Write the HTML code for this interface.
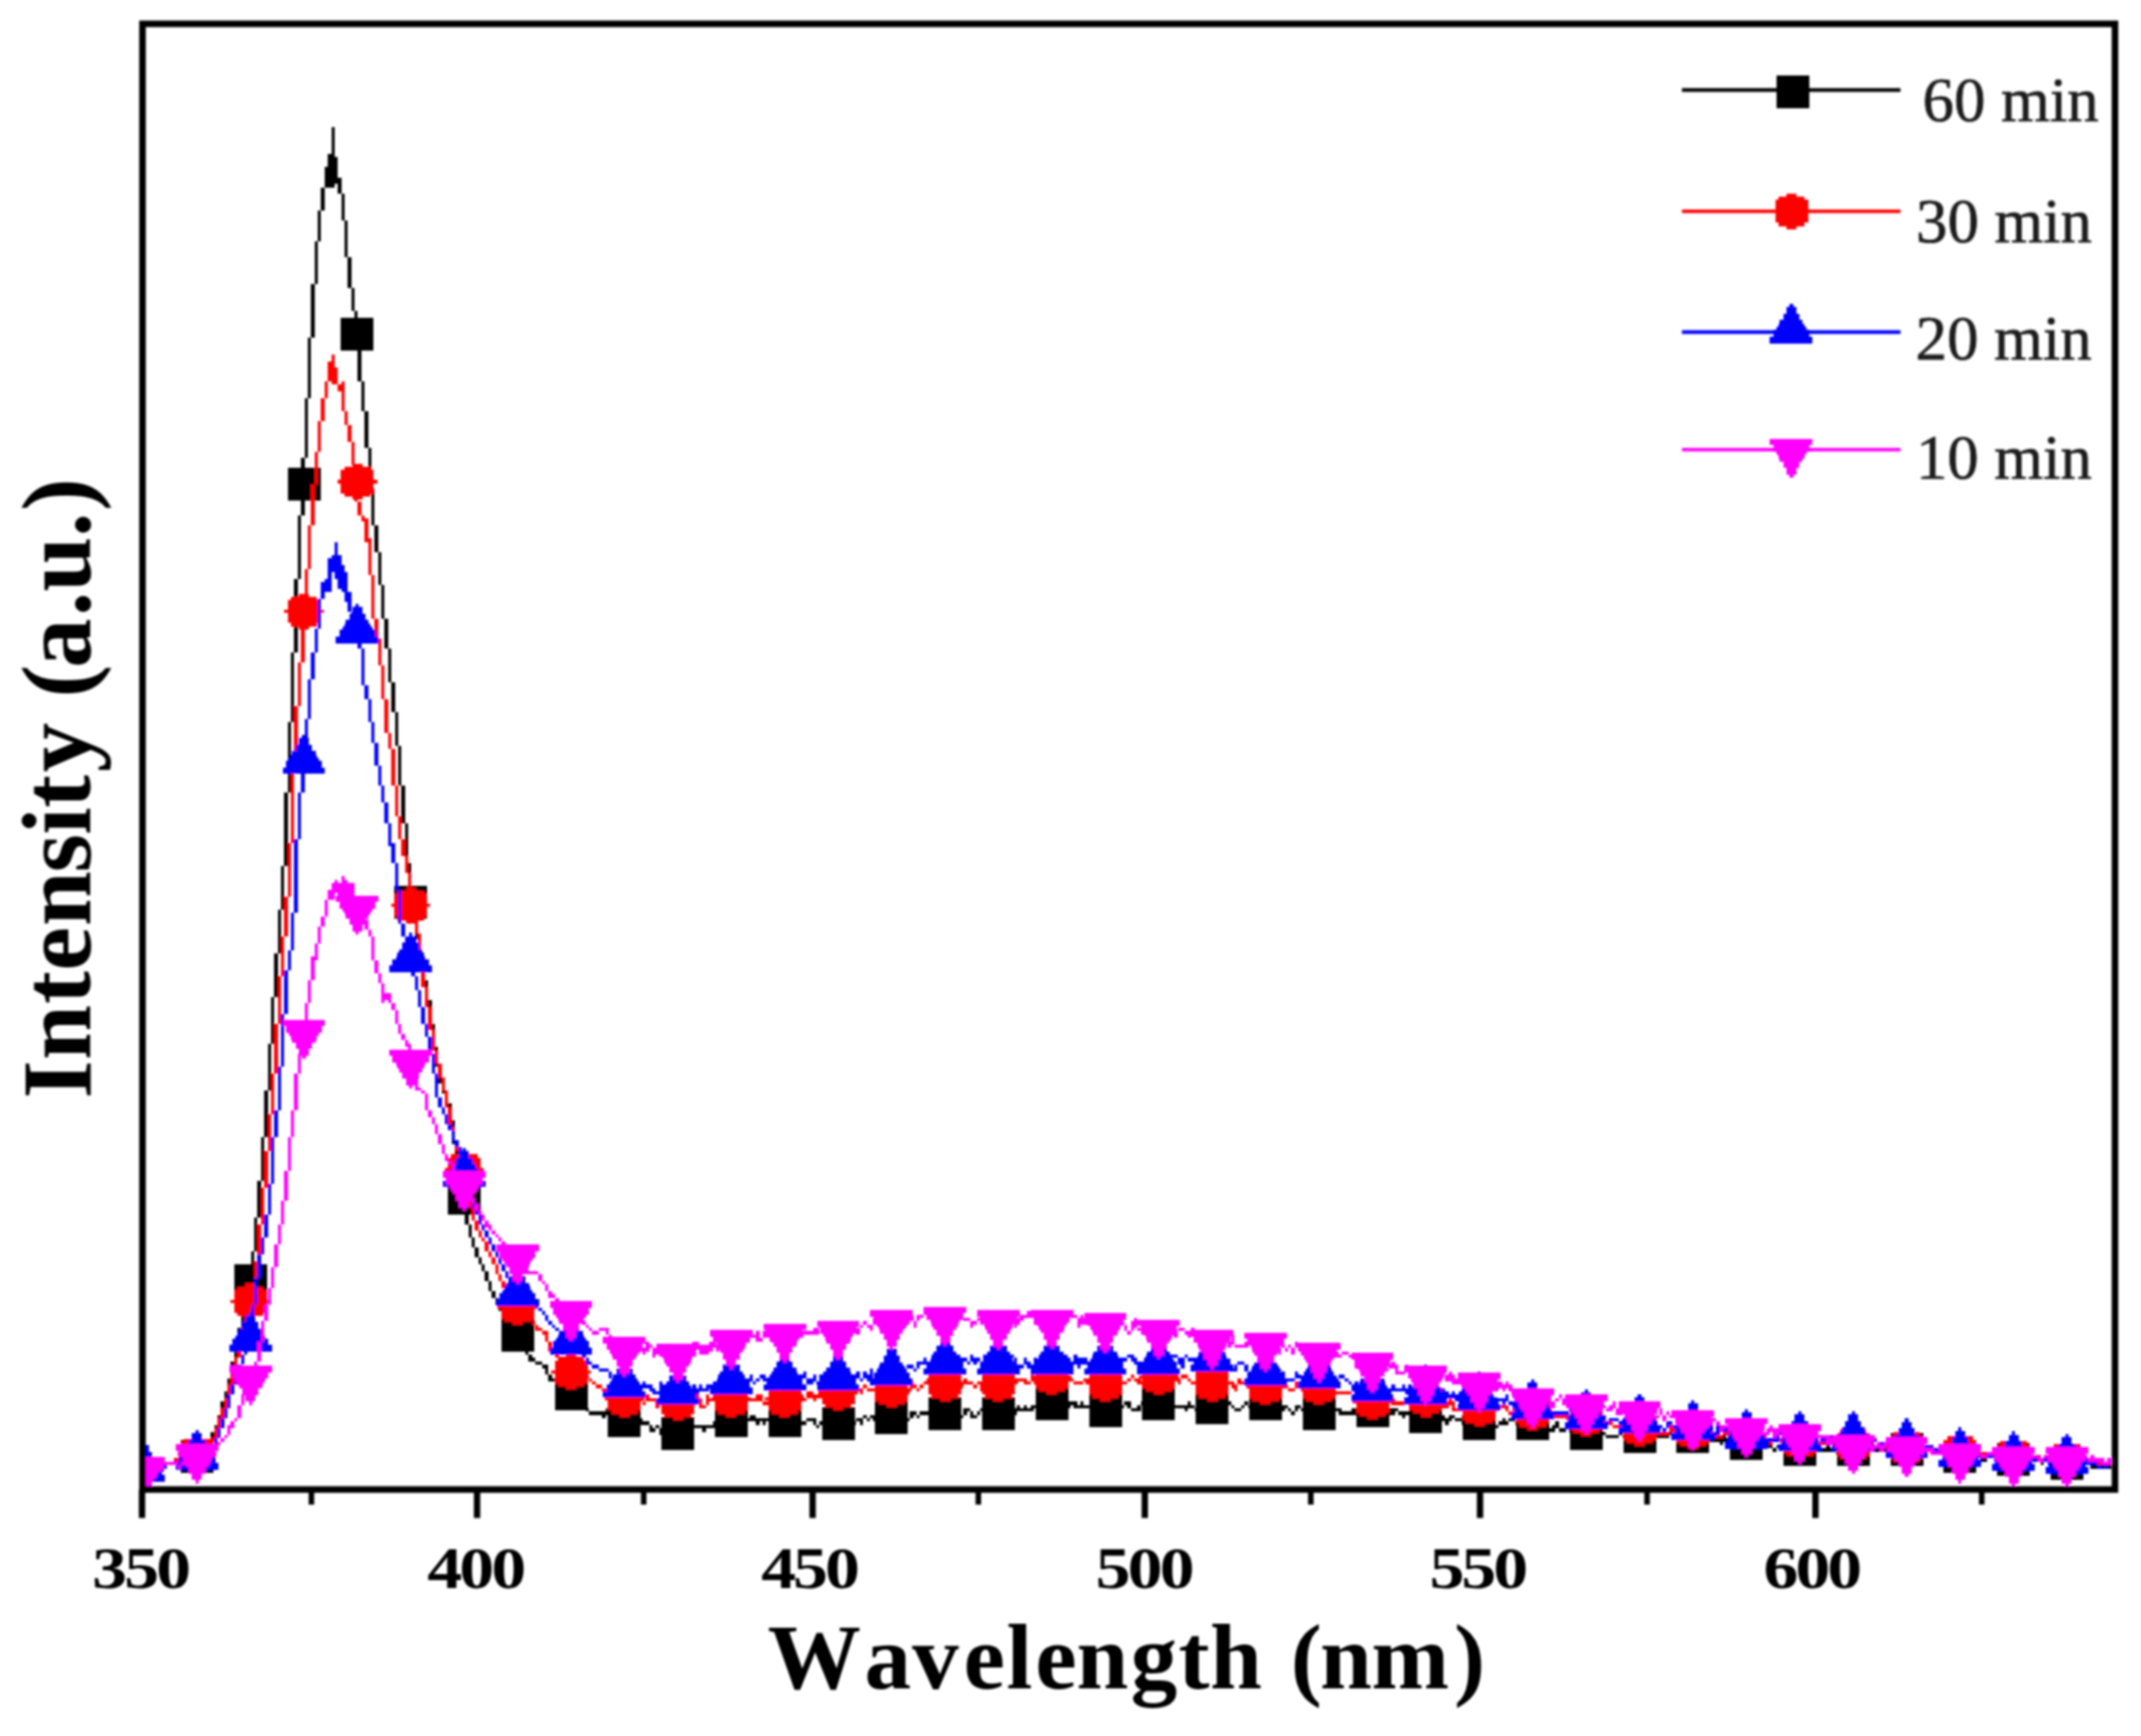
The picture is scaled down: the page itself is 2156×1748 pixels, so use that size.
<!DOCTYPE html>
<html lang="en">
<head>
<meta charset="utf-8">
<title>PL spectra</title>
<style>
html,body{margin:0;padding:0;background:#fff;}
body{width:2156px;height:1748px;overflow:hidden;font-family:"Liberation Serif",serif;}
svg{display:block;}
text{font-kerning:none;}
</style>
</head>
<body>
<svg width="2156" height="1748" viewBox="0 0 2156 1748">
<defs><clipPath id="plot"><rect x="143.5" y="24.0" width="1986.3" height="1473.2"/></clipPath><filter id="soft" x="-2%" y="-2%" width="104%" height="104%"><feGaussianBlur stdDeviation="0.9"/></filter></defs>
<rect width="2156" height="1748" fill="#ffffff"/>
<g filter="url(#soft)">
<g clip-path="url(#plot)" shape-rendering="crispEdges">
<path fill="#000000" d="M333.51 127.98h3.37v3.37h-3.37zM333.51 131.35h3.37v3.37h-3.37zM333.51 134.72h3.37v3.37h-3.37zM333.51 138.09h3.37v3.37h-3.37zM333.51 141.46h3.37v3.37h-3.37zM333.51 144.82h3.37v3.37h-3.37zM333.51 148.19h3.37v3.37h-3.37zM333.51 151.56h3.37v3.37h-3.37zM330.14 154.93h6.74v3.37h-6.74zM330.14 158.30h10.11v3.37h-10.11zM330.14 161.66h10.11v3.37h-10.11zM330.14 165.03h10.11v3.37h-10.11zM326.77 168.40h13.47v3.37h-13.47zM326.77 171.77h13.47v3.37h-13.47zM326.77 175.14h13.47v3.37h-13.47zM326.77 178.50h16.84v3.37h-16.84zM326.77 181.87h16.84v3.37h-16.84zM326.77 185.24h10.11v3.37h-10.11zM340.24 185.24h3.37v3.37h-3.37zM323.40 188.61h3.37v3.37h-3.37zM340.24 188.61h3.37v3.37h-3.37zM323.40 191.98h3.37v3.37h-3.37zM340.24 191.98h3.37v3.37h-3.37zM323.40 195.34h3.37v3.37h-3.37zM343.61 195.34h3.37v3.37h-3.37zM323.40 198.71h3.37v3.37h-3.37zM343.61 198.71h3.37v3.37h-3.37zM323.40 202.08h3.37v3.37h-3.37zM343.61 202.08h3.37v3.37h-3.37zM323.40 205.45h3.37v3.37h-3.37zM343.61 205.45h3.37v3.37h-3.37zM323.40 208.82h3.37v3.37h-3.37zM343.61 208.82h3.37v3.37h-3.37zM320.03 212.18h3.37v3.37h-3.37zM343.61 212.18h3.37v3.37h-3.37zM320.03 215.55h3.37v3.37h-3.37zM343.61 215.55h3.37v3.37h-3.37zM320.03 218.92h3.37v3.37h-3.37zM343.61 218.92h3.37v3.37h-3.37zM320.03 222.29h3.37v3.37h-3.37zM346.98 222.29h3.37v3.37h-3.37zM320.03 225.66h3.37v3.37h-3.37zM346.98 225.66h3.37v3.37h-3.37zM320.03 229.03h3.37v3.37h-3.37zM346.98 229.03h3.37v3.37h-3.37zM320.03 232.39h3.37v3.37h-3.37zM346.98 232.39h3.37v3.37h-3.37zM320.03 235.76h3.37v3.37h-3.37zM346.98 235.76h3.37v3.37h-3.37zM320.03 239.13h3.37v3.37h-3.37zM346.98 239.13h3.37v3.37h-3.37zM316.66 242.50h3.37v3.37h-3.37zM346.98 242.50h3.37v3.37h-3.37zM316.66 245.87h3.37v3.37h-3.37zM346.98 245.87h3.37v3.37h-3.37zM316.66 249.23h3.37v3.37h-3.37zM346.98 249.23h3.37v3.37h-3.37zM316.66 252.60h3.37v3.37h-3.37zM346.98 252.60h3.37v3.37h-3.37zM316.66 255.97h3.37v3.37h-3.37zM346.98 255.97h3.37v3.37h-3.37zM316.66 259.34h3.37v3.37h-3.37zM350.35 259.34h3.37v3.37h-3.37zM316.66 262.71h3.37v3.37h-3.37zM350.35 262.71h3.37v3.37h-3.37zM316.66 266.07h3.37v3.37h-3.37zM350.35 266.07h3.37v3.37h-3.37zM316.66 269.44h3.37v3.37h-3.37zM350.35 269.44h3.37v3.37h-3.37zM316.66 272.81h3.37v3.37h-3.37zM350.35 272.81h3.37v3.37h-3.37zM316.66 276.18h3.37v3.37h-3.37zM350.35 276.18h3.37v3.37h-3.37zM316.66 279.55h3.37v3.37h-3.37zM350.35 279.55h3.37v3.37h-3.37zM316.66 282.91h3.37v3.37h-3.37zM350.35 282.91h3.37v3.37h-3.37zM313.29 286.28h3.37v3.37h-3.37zM350.35 286.28h3.37v3.37h-3.37zM313.29 289.65h3.37v3.37h-3.37zM353.72 289.65h3.37v3.37h-3.37zM313.29 293.02h3.37v3.37h-3.37zM353.72 293.02h3.37v3.37h-3.37zM313.29 296.39h3.37v3.37h-3.37zM353.72 296.39h3.37v3.37h-3.37zM313.29 299.75h3.37v3.37h-3.37zM353.72 299.75h3.37v3.37h-3.37zM313.29 303.12h3.37v3.37h-3.37zM353.72 303.12h3.37v3.37h-3.37zM313.29 306.49h3.37v3.37h-3.37zM353.72 306.49h3.37v3.37h-3.37zM313.29 309.86h3.37v3.37h-3.37zM353.72 309.86h3.37v3.37h-3.37zM313.29 313.23h3.37v3.37h-3.37zM357.09 313.23h3.37v3.37h-3.37zM313.29 316.59h3.37v3.37h-3.37zM357.09 316.59h3.37v3.37h-3.37zM313.29 319.96h3.37v3.37h-3.37zM357.09 319.96h3.37v3.37h-3.37zM313.29 323.33h3.37v3.37h-3.37zM357.09 323.33h3.37v3.37h-3.37zM313.29 326.70h3.37v3.37h-3.37zM357.09 326.70h3.37v3.37h-3.37zM313.29 330.07h3.37v3.37h-3.37zM357.09 330.07h3.37v3.37h-3.37zM313.29 333.43h3.37v3.37h-3.37zM357.09 333.43h3.37v3.37h-3.37zM313.29 336.80h3.37v3.37h-3.37zM357.09 336.80h3.37v3.37h-3.37zM309.93 340.17h3.37v3.37h-3.37zM357.09 340.17h3.37v3.37h-3.37zM309.93 343.54h3.37v3.37h-3.37zM360.46 343.54h3.37v3.37h-3.37zM309.93 346.91h3.37v3.37h-3.37zM360.46 346.91h3.37v3.37h-3.37zM309.93 350.27h3.37v3.37h-3.37zM360.46 350.27h3.37v3.37h-3.37zM309.93 353.64h3.37v3.37h-3.37zM360.46 353.64h3.37v3.37h-3.37zM309.93 357.01h3.37v3.37h-3.37zM360.46 357.01h3.37v3.37h-3.37zM309.93 360.38h3.37v3.37h-3.37zM360.46 360.38h3.37v3.37h-3.37zM309.93 363.75h3.37v3.37h-3.37zM360.46 363.75h3.37v3.37h-3.37zM309.93 367.11h3.37v3.37h-3.37zM360.46 367.11h3.37v3.37h-3.37zM309.93 370.48h3.37v3.37h-3.37zM360.46 370.48h3.37v3.37h-3.37zM309.93 373.85h3.37v3.37h-3.37zM360.46 373.85h3.37v3.37h-3.37zM309.93 377.22h3.37v3.37h-3.37zM360.46 377.22h3.37v3.37h-3.37zM309.93 380.59h3.37v3.37h-3.37zM360.46 380.59h3.37v3.37h-3.37zM309.93 383.95h3.37v3.37h-3.37zM363.82 383.95h3.37v3.37h-3.37zM309.93 387.32h3.37v3.37h-3.37zM363.82 387.32h3.37v3.37h-3.37zM309.93 390.69h3.37v3.37h-3.37zM363.82 390.69h3.37v3.37h-3.37zM309.93 394.06h3.37v3.37h-3.37zM363.82 394.06h3.37v3.37h-3.37zM309.93 397.43h3.37v3.37h-3.37zM363.82 397.43h3.37v3.37h-3.37zM306.56 400.79h3.37v3.37h-3.37zM363.82 400.79h3.37v3.37h-3.37zM306.56 404.16h3.37v3.37h-3.37zM363.82 404.16h3.37v3.37h-3.37zM306.56 407.53h3.37v3.37h-3.37zM363.82 407.53h3.37v3.37h-3.37zM306.56 410.90h3.37v3.37h-3.37zM363.82 410.90h3.37v3.37h-3.37zM306.56 414.27h3.37v3.37h-3.37zM367.19 414.27h3.37v3.37h-3.37zM306.56 417.63h3.37v3.37h-3.37zM367.19 417.63h3.37v3.37h-3.37zM306.56 421.00h3.37v3.37h-3.37zM367.19 421.00h3.37v3.37h-3.37zM306.56 424.37h3.37v3.37h-3.37zM367.19 424.37h3.37v3.37h-3.37zM306.56 427.74h3.37v3.37h-3.37zM367.19 427.74h3.37v3.37h-3.37zM306.56 431.11h3.37v3.37h-3.37zM367.19 431.11h3.37v3.37h-3.37zM306.56 434.47h3.37v3.37h-3.37zM367.19 434.47h3.37v3.37h-3.37zM306.56 437.84h3.37v3.37h-3.37zM367.19 437.84h3.37v3.37h-3.37zM306.56 441.21h3.37v3.37h-3.37zM367.19 441.21h3.37v3.37h-3.37zM306.56 444.58h3.37v3.37h-3.37zM367.19 444.58h3.37v3.37h-3.37zM306.56 447.95h3.37v3.37h-3.37zM367.19 447.95h3.37v3.37h-3.37zM306.56 451.31h3.37v3.37h-3.37zM370.56 451.31h3.37v3.37h-3.37zM306.56 454.68h3.37v3.37h-3.37zM370.56 454.68h3.37v3.37h-3.37zM306.56 458.05h3.37v3.37h-3.37zM370.56 458.05h3.37v3.37h-3.37zM303.19 461.42h3.37v3.37h-3.37zM370.56 461.42h3.37v3.37h-3.37zM303.19 464.79h3.37v3.37h-3.37zM370.56 464.79h3.37v3.37h-3.37zM303.19 468.15h3.37v3.37h-3.37zM370.56 468.15h3.37v3.37h-3.37zM303.19 471.52h3.37v3.37h-3.37zM370.56 471.52h3.37v3.37h-3.37zM303.19 474.89h3.37v3.37h-3.37zM370.56 474.89h3.37v3.37h-3.37zM303.19 478.26h3.37v3.37h-3.37zM370.56 478.26h3.37v3.37h-3.37zM303.19 481.63h3.37v3.37h-3.37zM370.56 481.63h3.37v3.37h-3.37zM303.19 484.99h3.37v3.37h-3.37zM370.56 484.99h3.37v3.37h-3.37zM303.19 488.36h3.37v3.37h-3.37zM370.56 488.36h3.37v3.37h-3.37zM303.19 491.73h3.37v3.37h-3.37zM373.93 491.73h3.37v3.37h-3.37zM303.19 495.10h3.37v3.37h-3.37zM373.93 495.10h3.37v3.37h-3.37zM303.19 498.47h3.37v3.37h-3.37zM373.93 498.47h3.37v3.37h-3.37zM303.19 501.83h3.37v3.37h-3.37zM373.93 501.83h3.37v3.37h-3.37zM303.19 505.20h3.37v3.37h-3.37zM373.93 505.20h3.37v3.37h-3.37zM303.19 508.57h3.37v3.37h-3.37zM373.93 508.57h3.37v3.37h-3.37zM303.19 511.94h3.37v3.37h-3.37zM373.93 511.94h3.37v3.37h-3.37zM303.19 515.31h3.37v3.37h-3.37zM373.93 515.31h3.37v3.37h-3.37zM299.82 518.67h3.37v3.37h-3.37zM373.93 518.67h3.37v3.37h-3.37zM299.82 522.04h3.37v3.37h-3.37zM373.93 522.04h3.37v3.37h-3.37zM299.82 525.41h3.37v3.37h-3.37zM373.93 525.41h3.37v3.37h-3.37zM299.82 528.78h3.37v3.37h-3.37zM377.30 528.78h3.37v3.37h-3.37zM299.82 532.15h3.37v3.37h-3.37zM377.30 532.15h3.37v3.37h-3.37zM299.82 535.51h3.37v3.37h-3.37zM377.30 535.51h3.37v3.37h-3.37zM299.82 538.88h3.37v3.37h-3.37zM377.30 538.88h3.37v3.37h-3.37zM299.82 542.25h3.37v3.37h-3.37zM377.30 542.25h3.37v3.37h-3.37zM299.82 545.62h3.37v3.37h-3.37zM377.30 545.62h3.37v3.37h-3.37zM299.82 548.99h3.37v3.37h-3.37zM377.30 548.99h3.37v3.37h-3.37zM299.82 552.35h3.37v3.37h-3.37zM377.30 552.35h3.37v3.37h-3.37zM299.82 555.72h3.37v3.37h-3.37zM380.67 555.72h3.37v3.37h-3.37zM299.82 559.09h3.37v3.37h-3.37zM380.67 559.09h3.37v3.37h-3.37zM299.82 562.46h3.37v3.37h-3.37zM380.67 562.46h3.37v3.37h-3.37zM299.82 565.83h3.37v3.37h-3.37zM380.67 565.83h3.37v3.37h-3.37zM299.82 569.19h3.37v3.37h-3.37zM380.67 569.19h3.37v3.37h-3.37zM299.82 572.56h3.37v3.37h-3.37zM380.67 572.56h3.37v3.37h-3.37zM299.82 575.93h3.37v3.37h-3.37zM380.67 575.93h3.37v3.37h-3.37zM299.82 579.30h3.37v3.37h-3.37zM380.67 579.30h3.37v3.37h-3.37zM296.45 582.67h3.37v3.37h-3.37zM380.67 582.67h3.37v3.37h-3.37zM296.45 586.03h3.37v3.37h-3.37zM380.67 586.03h3.37v3.37h-3.37zM296.45 589.40h3.37v3.37h-3.37zM384.04 589.40h3.37v3.37h-3.37zM296.45 592.77h3.37v3.37h-3.37zM384.04 592.77h3.37v3.37h-3.37zM296.45 596.14h3.37v3.37h-3.37zM384.04 596.14h3.37v3.37h-3.37zM296.45 599.51h3.37v3.37h-3.37zM384.04 599.51h3.37v3.37h-3.37zM296.45 602.87h3.37v3.37h-3.37zM384.04 602.87h3.37v3.37h-3.37zM296.45 606.24h3.37v3.37h-3.37zM384.04 606.24h3.37v3.37h-3.37zM296.45 609.61h3.37v3.37h-3.37zM384.04 609.61h3.37v3.37h-3.37zM296.45 612.98h3.37v3.37h-3.37zM384.04 612.98h3.37v3.37h-3.37zM296.45 616.35h3.37v3.37h-3.37zM384.04 616.35h3.37v3.37h-3.37zM296.45 619.71h3.37v3.37h-3.37zM384.04 619.71h3.37v3.37h-3.37zM296.45 623.08h3.37v3.37h-3.37zM387.41 623.08h3.37v3.37h-3.37zM296.45 626.45h3.37v3.37h-3.37zM387.41 626.45h3.37v3.37h-3.37zM296.45 629.82h3.37v3.37h-3.37zM387.41 629.82h3.37v3.37h-3.37zM296.45 633.19h3.37v3.37h-3.37zM387.41 633.19h3.37v3.37h-3.37zM296.45 636.55h3.37v3.37h-3.37zM387.41 636.55h3.37v3.37h-3.37zM296.45 639.92h3.37v3.37h-3.37zM387.41 639.92h3.37v3.37h-3.37zM296.45 643.29h3.37v3.37h-3.37zM387.41 643.29h3.37v3.37h-3.37zM296.45 646.66h3.37v3.37h-3.37zM387.41 646.66h3.37v3.37h-3.37zM296.45 650.03h3.37v3.37h-3.37zM387.41 650.03h3.37v3.37h-3.37zM296.45 653.39h3.37v3.37h-3.37zM390.77 653.39h3.37v3.37h-3.37zM293.08 656.76h3.37v3.37h-3.37zM390.77 656.76h3.37v3.37h-3.37zM293.08 660.13h3.37v3.37h-3.37zM390.77 660.13h3.37v3.37h-3.37zM293.08 663.50h3.37v3.37h-3.37zM390.77 663.50h3.37v3.37h-3.37zM293.08 666.87h3.37v3.37h-3.37zM390.77 666.87h3.37v3.37h-3.37zM293.08 670.24h3.37v3.37h-3.37zM390.77 670.24h3.37v3.37h-3.37zM293.08 673.60h3.37v3.37h-3.37zM390.77 673.60h3.37v3.37h-3.37zM293.08 676.97h3.37v3.37h-3.37zM390.77 676.97h3.37v3.37h-3.37zM293.08 680.34h3.37v3.37h-3.37zM390.77 680.34h3.37v3.37h-3.37zM293.08 683.71h3.37v3.37h-3.37zM390.77 683.71h3.37v3.37h-3.37zM293.08 687.08h3.37v3.37h-3.37zM394.14 687.08h3.37v3.37h-3.37zM293.08 690.44h3.37v3.37h-3.37zM394.14 690.44h3.37v3.37h-3.37zM293.08 693.81h3.37v3.37h-3.37zM394.14 693.81h3.37v3.37h-3.37zM293.08 697.18h3.37v3.37h-3.37zM394.14 697.18h3.37v3.37h-3.37zM293.08 700.55h3.37v3.37h-3.37zM394.14 700.55h3.37v3.37h-3.37zM293.08 703.92h3.37v3.37h-3.37zM394.14 703.92h3.37v3.37h-3.37zM293.08 707.28h3.37v3.37h-3.37zM394.14 707.28h3.37v3.37h-3.37zM293.08 710.65h3.37v3.37h-3.37zM394.14 710.65h3.37v3.37h-3.37zM293.08 714.02h3.37v3.37h-3.37zM394.14 714.02h3.37v3.37h-3.37zM293.08 717.39h3.37v3.37h-3.37zM397.51 717.39h3.37v3.37h-3.37zM293.08 720.76h3.37v3.37h-3.37zM397.51 720.76h3.37v3.37h-3.37zM293.08 724.12h3.37v3.37h-3.37zM397.51 724.12h3.37v3.37h-3.37zM289.71 727.49h3.37v3.37h-3.37zM397.51 727.49h3.37v3.37h-3.37zM289.71 730.86h3.37v3.37h-3.37zM397.51 730.86h3.37v3.37h-3.37zM289.71 734.23h3.37v3.37h-3.37zM397.51 734.23h3.37v3.37h-3.37zM289.71 737.60h3.37v3.37h-3.37zM397.51 737.60h3.37v3.37h-3.37zM289.71 740.96h3.37v3.37h-3.37zM397.51 740.96h3.37v3.37h-3.37zM289.71 744.33h3.37v3.37h-3.37zM397.51 744.33h3.37v3.37h-3.37zM289.71 747.70h3.37v3.37h-3.37zM397.51 747.70h3.37v3.37h-3.37zM289.71 751.07h3.37v3.37h-3.37zM400.88 751.07h3.37v3.37h-3.37zM289.71 754.44h3.37v3.37h-3.37zM400.88 754.44h3.37v3.37h-3.37zM289.71 757.80h3.37v3.37h-3.37zM400.88 757.80h3.37v3.37h-3.37zM289.71 761.17h3.37v3.37h-3.37zM400.88 761.17h3.37v3.37h-3.37zM289.71 764.54h3.37v3.37h-3.37zM400.88 764.54h3.37v3.37h-3.37zM289.71 767.91h3.37v3.37h-3.37zM400.88 767.91h3.37v3.37h-3.37zM289.71 771.28h3.37v3.37h-3.37zM400.88 771.28h3.37v3.37h-3.37zM289.71 774.64h3.37v3.37h-3.37zM400.88 774.64h3.37v3.37h-3.37zM289.71 778.01h3.37v3.37h-3.37zM400.88 778.01h3.37v3.37h-3.37zM289.71 781.38h3.37v3.37h-3.37zM400.88 781.38h3.37v3.37h-3.37zM289.71 784.75h3.37v3.37h-3.37zM400.88 784.75h3.37v3.37h-3.37zM289.71 788.12h3.37v3.37h-3.37zM400.88 788.12h3.37v3.37h-3.37zM289.71 791.48h3.37v3.37h-3.37zM404.25 791.48h3.37v3.37h-3.37zM289.71 794.85h3.37v3.37h-3.37zM404.25 794.85h3.37v3.37h-3.37zM286.34 798.22h3.37v3.37h-3.37zM404.25 798.22h3.37v3.37h-3.37zM286.34 801.59h3.37v3.37h-3.37zM404.25 801.59h3.37v3.37h-3.37zM286.34 804.96h3.37v3.37h-3.37zM404.25 804.96h3.37v3.37h-3.37zM286.34 808.32h3.37v3.37h-3.37zM404.25 808.32h3.37v3.37h-3.37zM286.34 811.69h3.37v3.37h-3.37zM404.25 811.69h3.37v3.37h-3.37zM286.34 815.06h3.37v3.37h-3.37zM404.25 815.06h3.37v3.37h-3.37zM286.34 818.43h3.37v3.37h-3.37zM404.25 818.43h3.37v3.37h-3.37zM286.34 821.80h3.37v3.37h-3.37zM404.25 821.80h3.37v3.37h-3.37zM286.34 825.16h3.37v3.37h-3.37zM404.25 825.16h3.37v3.37h-3.37zM286.34 828.53h3.37v3.37h-3.37zM407.62 828.53h3.37v3.37h-3.37zM286.34 831.90h3.37v3.37h-3.37zM407.62 831.90h3.37v3.37h-3.37zM286.34 835.27h3.37v3.37h-3.37zM407.62 835.27h3.37v3.37h-3.37zM286.34 838.64h3.37v3.37h-3.37zM407.62 838.64h3.37v3.37h-3.37zM286.34 842.00h3.37v3.37h-3.37zM407.62 842.00h3.37v3.37h-3.37zM286.34 845.37h3.37v3.37h-3.37zM407.62 845.37h3.37v3.37h-3.37zM286.34 848.74h3.37v3.37h-3.37zM407.62 848.74h3.37v3.37h-3.37zM286.34 852.11h3.37v3.37h-3.37zM407.62 852.11h3.37v3.37h-3.37zM286.34 855.48h3.37v3.37h-3.37zM407.62 855.48h3.37v3.37h-3.37zM286.34 858.84h3.37v3.37h-3.37zM407.62 858.84h3.37v3.37h-3.37zM286.34 862.21h3.37v3.37h-3.37zM407.62 862.21h3.37v3.37h-3.37zM286.34 865.58h3.37v3.37h-3.37zM407.62 865.58h3.37v3.37h-3.37zM286.34 868.95h3.37v3.37h-3.37zM410.99 868.95h3.37v3.37h-3.37zM282.97 872.32h3.37v3.37h-3.37zM410.99 872.32h3.37v3.37h-3.37zM282.97 875.68h3.37v3.37h-3.37zM410.99 875.68h3.37v3.37h-3.37zM282.97 879.05h3.37v3.37h-3.37zM410.99 879.05h3.37v3.37h-3.37zM282.97 882.42h3.37v3.37h-3.37zM410.99 882.42h3.37v3.37h-3.37zM282.97 885.79h3.37v3.37h-3.37zM410.99 885.79h3.37v3.37h-3.37zM282.97 889.16h3.37v3.37h-3.37zM410.99 889.16h3.37v3.37h-3.37zM282.97 892.52h3.37v3.37h-3.37zM410.99 892.52h3.37v3.37h-3.37zM282.97 895.89h3.37v3.37h-3.37zM410.99 895.89h3.37v3.37h-3.37zM282.97 899.26h3.37v3.37h-3.37zM410.99 899.26h3.37v3.37h-3.37zM282.97 902.63h3.37v3.37h-3.37zM410.99 902.63h3.37v3.37h-3.37zM282.97 906.00h3.37v3.37h-3.37zM410.99 906.00h3.37v3.37h-3.37zM282.97 909.36h3.37v3.37h-3.37zM410.99 909.36h3.37v3.37h-3.37zM282.97 912.73h3.37v3.37h-3.37zM414.36 912.73h3.37v3.37h-3.37zM279.61 916.10h3.37v3.37h-3.37zM414.36 916.10h3.37v3.37h-3.37zM279.61 919.47h3.37v3.37h-3.37zM414.36 919.47h3.37v3.37h-3.37zM279.61 922.84h3.37v3.37h-3.37zM414.36 922.84h3.37v3.37h-3.37zM279.61 926.20h3.37v3.37h-3.37zM414.36 926.20h3.37v3.37h-3.37zM279.61 929.57h3.37v3.37h-3.37zM417.72 929.57h3.37v3.37h-3.37zM279.61 932.94h3.37v3.37h-3.37zM417.72 932.94h3.37v3.37h-3.37zM279.61 936.31h3.37v3.37h-3.37zM417.72 936.31h3.37v3.37h-3.37zM279.61 939.68h3.37v3.37h-3.37zM417.72 939.68h3.37v3.37h-3.37zM279.61 943.04h3.37v3.37h-3.37zM417.72 943.04h3.37v3.37h-3.37zM279.61 946.41h3.37v3.37h-3.37zM421.09 946.41h3.37v3.37h-3.37zM279.61 949.78h3.37v3.37h-3.37zM421.09 949.78h3.37v3.37h-3.37zM279.61 953.15h3.37v3.37h-3.37zM421.09 953.15h3.37v3.37h-3.37zM279.61 956.52h3.37v3.37h-3.37zM421.09 956.52h3.37v3.37h-3.37zM276.24 959.88h3.37v3.37h-3.37zM421.09 959.88h3.37v3.37h-3.37zM276.24 963.25h3.37v3.37h-3.37zM421.09 963.25h3.37v3.37h-3.37zM276.24 966.62h3.37v3.37h-3.37zM424.46 966.62h3.37v3.37h-3.37zM276.24 969.99h3.37v3.37h-3.37zM424.46 969.99h3.37v3.37h-3.37zM276.24 973.36h3.37v3.37h-3.37zM424.46 973.36h3.37v3.37h-3.37zM276.24 976.72h3.37v3.37h-3.37zM424.46 976.72h3.37v3.37h-3.37zM276.24 980.09h3.37v3.37h-3.37zM424.46 980.09h3.37v3.37h-3.37zM276.24 983.46h3.37v3.37h-3.37zM424.46 983.46h3.37v3.37h-3.37zM276.24 986.83h3.37v3.37h-3.37zM427.83 986.83h3.37v3.37h-3.37zM276.24 990.20h3.37v3.37h-3.37zM427.83 990.20h3.37v3.37h-3.37zM276.24 993.56h3.37v3.37h-3.37zM427.83 993.56h3.37v3.37h-3.37zM276.24 996.93h3.37v3.37h-3.37zM427.83 996.93h3.37v3.37h-3.37zM276.24 1000.30h3.37v3.37h-3.37zM427.83 1000.30h3.37v3.37h-3.37zM272.87 1003.67h3.37v3.37h-3.37zM427.83 1003.67h3.37v3.37h-3.37zM272.87 1007.04h3.37v3.37h-3.37zM431.20 1007.04h3.37v3.37h-3.37zM272.87 1010.40h3.37v3.37h-3.37zM431.20 1010.40h3.37v3.37h-3.37zM272.87 1013.77h3.37v3.37h-3.37zM431.20 1013.77h3.37v3.37h-3.37zM272.87 1017.14h3.37v3.37h-3.37zM431.20 1017.14h3.37v3.37h-3.37zM272.87 1020.51h3.37v3.37h-3.37zM431.20 1020.51h3.37v3.37h-3.37zM272.87 1023.88h3.37v3.37h-3.37zM431.20 1023.88h3.37v3.37h-3.37zM272.87 1027.24h3.37v3.37h-3.37zM431.20 1027.24h3.37v3.37h-3.37zM272.87 1030.61h3.37v3.37h-3.37zM434.57 1030.61h3.37v3.37h-3.37zM272.87 1033.98h3.37v3.37h-3.37zM434.57 1033.98h3.37v3.37h-3.37zM272.87 1037.35h3.37v3.37h-3.37zM434.57 1037.35h3.37v3.37h-3.37zM272.87 1040.72h3.37v3.37h-3.37zM434.57 1040.72h3.37v3.37h-3.37zM272.87 1044.08h3.37v3.37h-3.37zM434.57 1044.08h3.37v3.37h-3.37zM272.87 1047.45h3.37v3.37h-3.37zM434.57 1047.45h3.37v3.37h-3.37zM269.50 1050.82h3.37v3.37h-3.37zM434.57 1050.82h3.37v3.37h-3.37zM269.50 1054.19h3.37v3.37h-3.37zM437.94 1054.19h3.37v3.37h-3.37zM269.50 1057.56h3.37v3.37h-3.37zM437.94 1057.56h3.37v3.37h-3.37zM269.50 1060.92h3.37v3.37h-3.37zM437.94 1060.92h3.37v3.37h-3.37zM269.50 1064.29h3.37v3.37h-3.37zM437.94 1064.29h3.37v3.37h-3.37zM269.50 1067.66h3.37v3.37h-3.37zM437.94 1067.66h3.37v3.37h-3.37zM269.50 1071.03h3.37v3.37h-3.37zM437.94 1071.03h3.37v3.37h-3.37zM269.50 1074.40h3.37v3.37h-3.37zM441.31 1074.40h3.37v3.37h-3.37zM269.50 1077.76h3.37v3.37h-3.37zM441.31 1077.76h3.37v3.37h-3.37zM269.50 1081.13h3.37v3.37h-3.37zM441.31 1081.13h3.37v3.37h-3.37zM269.50 1084.50h3.37v3.37h-3.37zM441.31 1084.50h3.37v3.37h-3.37zM269.50 1087.87h3.37v3.37h-3.37zM441.31 1087.87h3.37v3.37h-3.37zM269.50 1091.24h3.37v3.37h-3.37zM444.68 1091.24h3.37v3.37h-3.37zM269.50 1094.61h3.37v3.37h-3.37zM444.68 1094.61h3.37v3.37h-3.37zM266.13 1097.97h3.37v3.37h-3.37zM444.68 1097.97h3.37v3.37h-3.37zM266.13 1101.34h3.37v3.37h-3.37zM448.04 1101.34h3.37v3.37h-3.37zM266.13 1104.71h3.37v3.37h-3.37zM448.04 1104.71h3.37v3.37h-3.37zM266.13 1108.08h3.37v3.37h-3.37zM448.04 1108.08h3.37v3.37h-3.37zM266.13 1111.45h3.37v3.37h-3.37zM451.41 1111.45h3.37v3.37h-3.37zM266.13 1114.81h3.37v3.37h-3.37zM451.41 1114.81h3.37v3.37h-3.37zM266.13 1118.18h3.37v3.37h-3.37zM451.41 1118.18h3.37v3.37h-3.37zM266.13 1121.55h3.37v3.37h-3.37zM451.41 1121.55h3.37v3.37h-3.37zM266.13 1124.92h3.37v3.37h-3.37zM451.41 1124.92h3.37v3.37h-3.37zM266.13 1128.29h3.37v3.37h-3.37zM454.78 1128.29h3.37v3.37h-3.37zM266.13 1131.65h3.37v3.37h-3.37zM454.78 1131.65h3.37v3.37h-3.37zM266.13 1135.02h3.37v3.37h-3.37zM454.78 1135.02h3.37v3.37h-3.37zM266.13 1138.39h3.37v3.37h-3.37zM454.78 1138.39h3.37v3.37h-3.37zM266.13 1141.76h3.37v3.37h-3.37zM454.78 1141.76h3.37v3.37h-3.37zM262.76 1145.13h3.37v3.37h-3.37zM454.78 1145.13h3.37v3.37h-3.37zM262.76 1148.49h3.37v3.37h-3.37zM454.78 1148.49h3.37v3.37h-3.37zM262.76 1151.86h3.37v3.37h-3.37zM458.15 1151.86h3.37v3.37h-3.37zM262.76 1155.23h3.37v3.37h-3.37zM458.15 1155.23h3.37v3.37h-3.37zM262.76 1158.60h3.37v3.37h-3.37zM458.15 1158.60h3.37v3.37h-3.37zM262.76 1161.97h3.37v3.37h-3.37zM458.15 1161.97h3.37v3.37h-3.37zM262.76 1165.33h3.37v3.37h-3.37zM458.15 1165.33h3.37v3.37h-3.37zM262.76 1168.70h3.37v3.37h-3.37zM458.15 1168.70h3.37v3.37h-3.37zM262.76 1172.07h3.37v3.37h-3.37zM461.52 1172.07h3.37v3.37h-3.37zM262.76 1175.44h3.37v3.37h-3.37zM461.52 1175.44h3.37v3.37h-3.37zM262.76 1178.81h3.37v3.37h-3.37zM461.52 1178.81h3.37v3.37h-3.37zM262.76 1182.17h3.37v3.37h-3.37zM461.52 1182.17h3.37v3.37h-3.37zM262.76 1185.54h3.37v3.37h-3.37zM461.52 1185.54h3.37v3.37h-3.37zM259.39 1188.91h3.37v3.37h-3.37zM461.52 1188.91h3.37v3.37h-3.37zM259.39 1192.28h3.37v3.37h-3.37zM464.89 1192.28h3.37v3.37h-3.37zM259.39 1195.65h3.37v3.37h-3.37zM464.89 1195.65h3.37v3.37h-3.37zM259.39 1199.01h3.37v3.37h-3.37zM464.89 1199.01h3.37v3.37h-3.37zM259.39 1202.38h3.37v3.37h-3.37zM464.89 1202.38h3.37v3.37h-3.37zM259.39 1205.75h3.37v3.37h-3.37zM464.89 1205.75h3.37v3.37h-3.37zM259.39 1209.12h3.37v3.37h-3.37zM464.89 1209.12h3.37v3.37h-3.37zM259.39 1212.49h3.37v3.37h-3.37zM468.26 1212.49h3.37v3.37h-3.37zM259.39 1215.85h3.37v3.37h-3.37zM468.26 1215.85h3.37v3.37h-3.37zM259.39 1219.22h3.37v3.37h-3.37zM468.26 1219.22h3.37v3.37h-3.37zM259.39 1222.59h3.37v3.37h-3.37zM468.26 1222.59h3.37v3.37h-3.37zM256.02 1225.96h3.37v3.37h-3.37zM468.26 1225.96h3.37v3.37h-3.37zM256.02 1229.33h3.37v3.37h-3.37zM468.26 1229.33h3.37v3.37h-3.37zM256.02 1232.69h3.37v3.37h-3.37zM471.62 1232.69h3.37v3.37h-3.37zM256.02 1236.06h3.37v3.37h-3.37zM471.62 1236.06h3.37v3.37h-3.37zM256.02 1239.43h3.37v3.37h-3.37zM471.62 1239.43h3.37v3.37h-3.37zM256.02 1242.80h3.37v3.37h-3.37zM471.62 1242.80h3.37v3.37h-3.37zM256.02 1246.17h3.37v3.37h-3.37zM474.99 1246.17h3.37v3.37h-3.37zM256.02 1249.53h3.37v3.37h-3.37zM474.99 1249.53h3.37v3.37h-3.37zM256.02 1252.90h3.37v3.37h-3.37zM474.99 1252.90h3.37v3.37h-3.37zM256.02 1256.27h3.37v3.37h-3.37zM478.36 1256.27h3.37v3.37h-3.37zM252.66 1259.64h3.37v3.37h-3.37zM478.36 1259.64h3.37v3.37h-3.37zM252.66 1263.01h3.37v3.37h-3.37zM478.36 1263.01h3.37v3.37h-3.37zM252.66 1266.37h3.37v3.37h-3.37zM481.73 1266.37h3.37v3.37h-3.37zM252.66 1269.74h3.37v3.37h-3.37zM481.73 1269.74h3.37v3.37h-3.37zM252.66 1273.11h3.37v3.37h-3.37zM485.10 1273.11h3.37v3.37h-3.37zM252.66 1276.48h3.37v3.37h-3.37zM485.10 1276.48h3.37v3.37h-3.37zM252.66 1279.85h3.37v3.37h-3.37zM488.47 1279.85h3.37v3.37h-3.37zM252.66 1283.21h3.37v3.37h-3.37zM488.47 1283.21h3.37v3.37h-3.37zM249.29 1286.58h3.37v3.37h-3.37zM488.47 1286.58h3.37v3.37h-3.37zM249.29 1289.95h3.37v3.37h-3.37zM491.84 1289.95h3.37v3.37h-3.37zM249.29 1293.32h3.37v3.37h-3.37zM491.84 1293.32h3.37v3.37h-3.37zM249.29 1296.69h3.37v3.37h-3.37zM491.84 1296.69h3.37v3.37h-3.37zM249.29 1300.05h3.37v3.37h-3.37zM495.21 1300.05h3.37v3.37h-3.37zM245.92 1303.42h3.37v3.37h-3.37zM495.21 1303.42h3.37v3.37h-3.37zM245.92 1306.79h3.37v3.37h-3.37zM498.57 1306.79h3.37v3.37h-3.37zM245.92 1310.16h3.37v3.37h-3.37zM498.57 1310.16h3.37v3.37h-3.37zM245.92 1313.53h3.37v3.37h-3.37zM501.94 1313.53h3.37v3.37h-3.37zM245.92 1316.89h3.37v3.37h-3.37zM501.94 1316.89h3.37v3.37h-3.37zM242.55 1320.26h3.37v3.37h-3.37zM505.31 1320.26h3.37v3.37h-3.37zM242.55 1323.63h3.37v3.37h-3.37zM508.68 1323.63h3.37v3.37h-3.37zM242.55 1327.00h3.37v3.37h-3.37zM508.68 1327.00h3.37v3.37h-3.37zM242.55 1330.37h3.37v3.37h-3.37zM512.05 1330.37h3.37v3.37h-3.37zM242.55 1333.73h3.37v3.37h-3.37zM515.42 1333.73h3.37v3.37h-3.37zM239.18 1337.10h3.37v3.37h-3.37zM515.42 1337.10h3.37v3.37h-3.37zM239.18 1340.47h3.37v3.37h-3.37zM518.79 1340.47h3.37v3.37h-3.37zM239.18 1343.84h3.37v3.37h-3.37zM518.79 1343.84h3.37v3.37h-3.37zM239.18 1347.21h3.37v3.37h-3.37zM522.16 1347.21h3.37v3.37h-3.37zM239.18 1350.57h3.37v3.37h-3.37zM525.52 1350.57h3.37v3.37h-3.37zM235.81 1353.94h3.37v3.37h-3.37zM525.52 1353.94h3.37v3.37h-3.37zM235.81 1357.31h3.37v3.37h-3.37zM528.89 1357.31h3.37v3.37h-3.37zM235.81 1360.68h3.37v3.37h-3.37zM528.89 1360.68h3.37v3.37h-3.37zM235.81 1364.05h3.37v3.37h-3.37zM532.26 1364.05h3.37v3.37h-3.37zM235.81 1367.41h3.37v3.37h-3.37zM532.26 1367.41h6.74v3.37h-6.74zM232.44 1370.78h3.37v3.37h-3.37zM539.00 1370.78h6.74v3.37h-6.74zM232.44 1374.15h3.37v3.37h-3.37zM545.74 1374.15h6.74v3.37h-6.74zM232.44 1377.52h3.37v3.37h-3.37zM549.11 1377.52h3.37v3.37h-3.37zM232.44 1380.89h3.37v3.37h-3.37zM549.11 1380.89h3.37v3.37h-3.37zM232.44 1384.25h3.37v3.37h-3.37zM552.48 1384.25h3.37v3.37h-3.37zM229.07 1387.62h3.37v3.37h-3.37zM552.48 1387.62h6.74v3.37h-6.74zM229.07 1390.99h3.37v3.37h-3.37zM559.21 1390.99h3.37v3.37h-3.37zM229.07 1394.36h3.37v3.37h-3.37zM562.58 1394.36h6.74v3.37h-6.74zM229.07 1397.73h3.37v3.37h-3.37zM569.32 1397.73h3.37v3.37h-3.37zM225.71 1401.09h3.37v3.37h-3.37zM572.69 1401.09h3.37v3.37h-3.37zM225.71 1404.46h3.37v3.37h-3.37zM576.06 1404.46h3.37v3.37h-3.37zM225.71 1407.83h3.37v3.37h-3.37zM579.42 1407.83h3.37v3.37h-3.37zM1168.96 1407.83h3.37v3.37h-3.37zM1270.02 1407.83h3.37v3.37h-3.37zM1276.76 1407.83h3.37v3.37h-3.37zM222.34 1411.20h3.37v3.37h-3.37zM582.79 1411.20h3.37v3.37h-3.37zM1044.31 1411.20h3.37v3.37h-3.37zM1051.05 1411.20h10.11v3.37h-10.11zM1067.89 1411.20h3.37v3.37h-3.37zM1074.63 1411.20h10.11v3.37h-10.11zM1088.11 1411.20h3.37v3.37h-3.37zM1131.90 1411.20h6.74v3.37h-6.74zM1148.74 1411.20h3.37v3.37h-3.37zM1162.22 1411.20h13.47v3.37h-13.47zM1195.91 1411.20h3.37v3.37h-3.37zM1236.33 1411.20h3.37v3.37h-3.37zM1253.17 1411.20h3.37v3.37h-3.37zM1263.28 1411.20h3.37v3.37h-3.37zM1270.02 1411.20h3.37v3.37h-3.37zM1276.76 1411.20h3.37v3.37h-3.37zM1286.86 1411.20h3.37v3.37h-3.37zM222.34 1414.57h3.37v3.37h-3.37zM586.16 1414.57h3.37v3.37h-3.37zM1017.36 1414.57h3.37v3.37h-3.37zM1024.10 1414.57h3.37v3.37h-3.37zM1030.84 1414.57h3.37v3.37h-3.37zM1037.58 1414.57h6.74v3.37h-6.74zM1047.68 1414.57h3.37v3.37h-3.37zM1061.16 1414.57h6.74v3.37h-6.74zM1071.26 1414.57h6.74v3.37h-6.74zM1081.37 1414.57h16.84v3.37h-16.84zM1101.58 1414.57h6.74v3.37h-6.74zM1125.16 1414.57h6.74v3.37h-6.74zM1135.27 1414.57h3.37v3.37h-3.37zM1145.38 1414.57h3.37v3.37h-3.37zM1152.11 1414.57h16.84v3.37h-16.84zM1172.33 1414.57h30.32v3.37h-30.32zM1209.38 1414.57h3.37v3.37h-3.37zM1219.49 1414.57h16.84v3.37h-16.84zM1239.70 1414.57h3.37v3.37h-3.37zM1249.81 1414.57h3.37v3.37h-3.37zM1256.54 1414.57h6.74v3.37h-6.74zM1266.65 1414.57h3.37v3.37h-3.37zM1273.39 1414.57h3.37v3.37h-3.37zM1280.12 1414.57h6.74v3.37h-6.74zM1290.23 1414.57h6.74v3.37h-6.74zM1303.71 1414.57h6.74v3.37h-6.74zM1371.08 1414.57h3.37v3.37h-3.37zM222.34 1417.93h3.37v3.37h-3.37zM589.53 1417.93h3.37v3.37h-3.37zM609.74 1417.93h3.37v3.37h-3.37zM970.20 1417.93h6.74v3.37h-6.74zM987.04 1417.93h3.37v3.37h-3.37zM997.15 1417.93h3.37v3.37h-3.37zM1013.99 1417.93h3.37v3.37h-3.37zM1020.73 1417.93h20.21v3.37h-20.21zM1071.26 1417.93h3.37v3.37h-3.37zM1098.21 1417.93h6.74v3.37h-6.74zM1108.32 1417.93h3.37v3.37h-3.37zM1118.42 1417.93h10.11v3.37h-10.11zM1138.64 1417.93h10.11v3.37h-10.11zM1192.54 1417.93h3.37v3.37h-3.37zM1202.64 1417.93h6.74v3.37h-6.74zM1212.75 1417.93h6.74v3.37h-6.74zM1243.07 1417.93h6.74v3.37h-6.74zM1290.23 1417.93h3.37v3.37h-3.37zM1296.97 1417.93h3.37v3.37h-3.37zM1303.71 1417.93h3.37v3.37h-3.37zM1310.44 1417.93h3.37v3.37h-3.37zM1317.18 1417.93h6.74v3.37h-6.74zM1344.13 1417.93h6.74v3.37h-6.74zM1360.97 1417.93h16.84v3.37h-16.84zM1391.29 1417.93h16.84v3.37h-16.84zM222.34 1421.30h3.37v3.37h-3.37zM592.90 1421.30h23.58v3.37h-23.58zM909.56 1421.30h3.37v3.37h-3.37zM916.30 1421.30h6.74v3.37h-6.74zM926.41 1421.30h30.32v3.37h-30.32zM960.09 1421.30h6.74v3.37h-6.74zM970.20 1421.30h3.37v3.37h-3.37zM976.94 1421.30h3.37v3.37h-3.37zM983.67 1421.30h3.37v3.37h-3.37zM990.41 1421.30h3.37v3.37h-3.37zM997.15 1421.30h6.74v3.37h-6.74zM1007.26 1421.30h6.74v3.37h-6.74zM1020.73 1421.30h3.37v3.37h-3.37zM1111.69 1421.30h6.74v3.37h-6.74zM1300.34 1421.30h3.37v3.37h-3.37zM1313.81 1421.30h3.37v3.37h-3.37zM1323.92 1421.30h10.11v3.37h-10.11zM1337.39 1421.30h6.74v3.37h-6.74zM1347.50 1421.30h20.21v3.37h-20.21zM1377.82 1421.30h16.84v3.37h-16.84zM1398.03 1421.30h6.74v3.37h-6.74zM1408.14 1421.30h13.47v3.37h-13.47zM1431.72 1421.30h6.74v3.37h-6.74zM1441.83 1421.30h3.37v3.37h-3.37zM218.97 1424.67h3.37v3.37h-3.37zM606.38 1424.67h3.37v3.37h-3.37zM616.48 1424.67h10.11v3.37h-10.11zM754.60 1424.67h6.74v3.37h-6.74zM781.55 1424.67h6.74v3.37h-6.74zM801.76 1424.67h3.37v3.37h-3.37zM869.14 1424.67h3.37v3.37h-3.37zM875.88 1424.67h6.74v3.37h-6.74zM889.35 1424.67h3.37v3.37h-3.37zM896.09 1424.67h6.74v3.37h-6.74zM906.19 1424.67h6.74v3.37h-6.74zM916.30 1424.67h3.37v3.37h-3.37zM923.04 1424.67h3.37v3.37h-3.37zM939.88 1424.67h3.37v3.37h-3.37zM956.73 1424.67h3.37v3.37h-3.37zM966.83 1424.67h3.37v3.37h-3.37zM976.94 1424.67h6.74v3.37h-6.74zM990.41 1424.67h6.74v3.37h-6.74zM1000.52 1424.67h6.74v3.37h-6.74zM1323.92 1424.67h3.37v3.37h-3.37zM1334.02 1424.67h3.37v3.37h-3.37zM1411.51 1424.67h3.37v3.37h-3.37zM1421.61 1424.67h3.37v3.37h-3.37zM1428.35 1424.67h3.37v3.37h-3.37zM1438.46 1424.67h10.11v3.37h-10.11zM1451.93 1424.67h3.37v3.37h-3.37zM1458.67 1424.67h6.74v3.37h-6.74zM1472.14 1424.67h3.37v3.37h-3.37zM218.97 1428.04h3.37v3.37h-3.37zM623.22 1428.04h13.47v3.37h-13.47zM643.43 1428.04h3.37v3.37h-3.37zM727.65 1428.04h3.37v3.37h-3.37zM744.49 1428.04h30.32v3.37h-30.32zM778.18 1428.04h3.37v3.37h-3.37zM784.92 1428.04h3.37v3.37h-3.37zM791.66 1428.04h3.37v3.37h-3.37zM798.39 1428.04h6.74v3.37h-6.74zM811.87 1428.04h10.11v3.37h-10.11zM828.71 1428.04h13.47v3.37h-13.47zM845.56 1428.04h3.37v3.37h-3.37zM852.29 1428.04h6.74v3.37h-6.74zM862.40 1428.04h6.74v3.37h-6.74zM872.51 1428.04h3.37v3.37h-3.37zM879.24 1428.04h3.37v3.37h-3.37zM885.98 1428.04h3.37v3.37h-3.37zM892.72 1428.04h3.37v3.37h-3.37zM902.82 1428.04h3.37v3.37h-3.37zM912.93 1428.04h3.37v3.37h-3.37zM1424.98 1428.04h3.37v3.37h-3.37zM1438.46 1428.04h23.58v3.37h-23.58zM1465.41 1428.04h10.11v3.37h-10.11zM1478.88 1428.04h10.11v3.37h-10.11zM1512.57 1428.04h3.37v3.37h-3.37zM1519.31 1428.04h6.74v3.37h-6.74zM1532.78 1428.04h3.37v3.37h-3.37zM218.97 1431.41h3.37v3.37h-3.37zM633.32 1431.41h6.74v3.37h-6.74zM643.43 1431.41h10.11v3.37h-10.11zM717.54 1431.41h10.11v3.37h-10.11zM731.02 1431.41h16.84v3.37h-16.84zM761.34 1431.41h3.37v3.37h-3.37zM768.07 1431.41h3.37v3.37h-3.37zM774.81 1431.41h6.74v3.37h-6.74zM788.29 1431.41h10.11v3.37h-10.11zM805.13 1431.41h6.74v3.37h-6.74zM818.61 1431.41h3.37v3.37h-3.37zM825.34 1431.41h3.37v3.37h-3.37zM838.82 1431.41h6.74v3.37h-6.74zM848.92 1431.41h6.74v3.37h-6.74zM859.03 1431.41h3.37v3.37h-3.37zM865.77 1431.41h3.37v3.37h-3.37zM882.61 1431.41h3.37v3.37h-3.37zM1455.30 1431.41h3.37v3.37h-3.37zM1472.14 1431.41h6.74v3.37h-6.74zM1485.62 1431.41h16.84v3.37h-16.84zM1509.20 1431.41h10.11v3.37h-10.11zM1526.04 1431.41h6.74v3.37h-6.74zM1536.15 1431.41h13.47v3.37h-13.47zM1566.47 1431.41h3.37v3.37h-3.37zM215.60 1434.77h3.37v3.37h-3.37zM640.06 1434.77h3.37v3.37h-3.37zM653.54 1434.77h3.37v3.37h-3.37zM660.27 1434.77h3.37v3.37h-3.37zM693.96 1434.77h26.95v3.37h-26.95zM821.98 1434.77h3.37v3.37h-3.37zM842.19 1434.77h3.37v3.37h-3.37zM1502.46 1434.77h6.74v3.37h-6.74zM1549.62 1434.77h10.11v3.37h-10.11zM1563.10 1434.77h6.74v3.37h-6.74zM1576.58 1434.77h3.37v3.37h-3.37zM215.60 1438.14h3.37v3.37h-3.37zM653.54 1438.14h6.74v3.37h-6.74zM663.64 1438.14h3.37v3.37h-3.37zM677.12 1438.14h6.74v3.37h-6.74zM687.23 1438.14h10.11v3.37h-10.11zM707.44 1438.14h3.37v3.37h-3.37zM1559.73 1438.14h6.74v3.37h-6.74zM1569.84 1438.14h6.74v3.37h-6.74zM1579.94 1438.14h6.74v3.37h-6.74zM1590.05 1438.14h3.37v3.37h-3.37zM212.23 1441.51h3.37v3.37h-3.37zM663.64 1441.51h13.47v3.37h-13.47zM683.86 1441.51h3.37v3.37h-3.37zM1583.31 1441.51h6.74v3.37h-6.74zM1593.42 1441.51h3.37v3.37h-3.37zM1606.89 1441.51h10.11v3.37h-10.11zM1630.47 1441.51h3.37v3.37h-3.37zM1664.16 1441.51h3.37v3.37h-3.37zM1681.01 1441.51h3.37v3.37h-3.37zM1687.74 1441.51h3.37v3.37h-3.37zM1694.48 1441.51h3.37v3.37h-3.37zM1704.59 1441.51h6.74v3.37h-6.74zM212.23 1444.88h3.37v3.37h-3.37zM1596.79 1444.88h10.11v3.37h-10.11zM1617.00 1444.88h13.47v3.37h-13.47zM1633.84 1444.88h6.74v3.37h-6.74zM1643.95 1444.88h10.11v3.37h-10.11zM1657.42 1444.88h6.74v3.37h-6.74zM1667.53 1444.88h13.47v3.37h-13.47zM1684.38 1444.88h3.37v3.37h-3.37zM1691.11 1444.88h3.37v3.37h-3.37zM1697.85 1444.88h6.74v3.37h-6.74zM1711.33 1444.88h3.37v3.37h-3.37zM1734.91 1444.88h3.37v3.37h-3.37zM212.23 1448.25h3.37v3.37h-3.37zM1637.21 1448.25h6.74v3.37h-6.74zM1654.06 1448.25h3.37v3.37h-3.37zM1714.69 1448.25h33.69v3.37h-33.69zM208.86 1451.61h3.37v3.37h-3.37zM1731.54 1451.61h3.37v3.37h-3.37zM1748.38 1451.61h23.58v3.37h-23.58zM1778.70 1451.61h3.37v3.37h-3.37zM205.49 1454.98h3.37v3.37h-3.37zM1758.49 1454.98h3.37v3.37h-3.37zM1771.96 1454.98h13.47v3.37h-13.47zM1788.81 1454.98h13.47v3.37h-13.47zM1809.02 1454.98h3.37v3.37h-3.37zM1839.34 1454.98h3.37v3.37h-3.37zM1862.92 1454.98h3.37v3.37h-3.37zM1893.24 1454.98h3.37v3.37h-3.37zM1899.97 1454.98h3.37v3.37h-3.37zM202.12 1458.35h3.37v3.37h-3.37zM1785.44 1458.35h3.37v3.37h-3.37zM1798.91 1458.35h50.53v3.37h-50.53zM1852.81 1458.35h47.16v3.37h-47.16zM1903.34 1458.35h40.42v3.37h-40.42zM198.76 1461.72h3.37v3.37h-3.37zM1812.39 1461.72h3.37v3.37h-3.37zM1849.44 1461.72h3.37v3.37h-3.37zM1943.77 1461.72h23.58v3.37h-23.58zM188.65 1465.09h13.47v3.37h-13.47zM1967.35 1465.09h26.95v3.37h-26.95zM2001.04 1465.09h6.74v3.37h-6.74zM2011.14 1465.09h3.37v3.37h-3.37zM2021.25 1465.09h3.37v3.37h-3.37zM178.54 1468.45h10.11v3.37h-10.11zM1994.30 1468.45h6.74v3.37h-6.74zM2007.77 1468.45h3.37v3.37h-3.37zM2014.51 1468.45h6.74v3.37h-6.74zM2024.62 1468.45h30.32v3.37h-30.32zM2058.31 1468.45h6.74v3.37h-6.74zM2075.15 1468.45h3.37v3.37h-3.37zM165.07 1471.82h13.47v3.37h-13.47zM2054.94 1471.82h3.37v3.37h-3.37zM2065.04 1471.82h43.79v3.37h-43.79zM2115.57 1471.82h3.37v3.37h-3.37zM151.59 1475.19h13.47v3.37h-13.47zM2105.47 1475.19h20.21v3.37h-20.21zM141.49 1478.56h10.11v3.37h-10.11zM181.90 1449.50h33.00v33.00h-33.00zM235.70 1273.10h33.00v33.00h-33.00zM289.50 470.50h33.00v33.00h-33.00zM343.30 319.50h33.00v33.00h-33.00zM397.10 892.00h33.00v33.00h-33.00zM450.90 1189.50h33.00v33.00h-33.00zM504.70 1327.50h33.00v33.00h-33.00zM558.50 1386.50h33.00v33.00h-33.00zM612.30 1413.50h33.00v33.00h-33.00zM666.10 1427.00h33.00v33.00h-33.00zM719.90 1413.50h33.00v33.00h-33.00zM773.70 1413.50h33.00v33.00h-33.00zM827.50 1416.50h33.00v33.00h-33.00zM881.30 1410.50h33.00v33.00h-33.00zM935.10 1407.00h33.00v33.00h-33.00zM988.90 1406.90h33.00v33.00h-33.00zM1042.70 1397.20h33.00v33.00h-33.00zM1096.50 1403.50h33.00v33.00h-33.00zM1150.30 1397.20h33.00v33.00h-33.00zM1204.10 1400.50h33.00v33.00h-33.00zM1257.90 1397.20h33.00v33.00h-33.00zM1311.70 1406.90h33.00v33.00h-33.00zM1365.50 1403.50h33.00v33.00h-33.00zM1419.30 1410.30h33.00v33.00h-33.00zM1473.10 1416.50h33.00v33.00h-33.00zM1526.90 1416.50h33.00v33.00h-33.00zM1580.70 1426.50h33.00v33.00h-33.00zM1634.50 1429.50h33.00v33.00h-33.00zM1688.30 1429.50h33.00v33.00h-33.00zM1742.10 1436.50h33.00v33.00h-33.00zM1795.90 1443.30h33.00v33.00h-33.00zM1849.70 1443.30h33.00v33.00h-33.00zM1903.50 1443.30h33.00v33.00h-33.00zM1957.30 1449.90h33.00v33.00h-33.00zM2011.10 1453.20h33.00v33.00h-33.00zM2064.90 1456.50h33.00v33.00h-33.00z"/>
<path fill="#ff0000" d="M333.51 357.01h3.37v3.37h-3.37zM333.51 360.38h3.37v3.37h-3.37zM330.14 363.75h6.74v3.37h-6.74zM330.14 367.11h6.74v3.37h-6.74zM330.14 370.48h10.11v3.37h-10.11zM330.14 373.85h10.11v3.37h-10.11zM330.14 377.22h10.11v3.37h-10.11zM330.14 380.59h10.11v3.37h-10.11zM326.77 383.95h3.37v3.37h-3.37zM333.51 383.95h6.74v3.37h-6.74zM343.61 383.95h3.37v3.37h-3.37zM326.77 387.32h3.37v3.37h-3.37zM340.24 387.32h6.74v3.37h-6.74zM326.77 390.69h3.37v3.37h-3.37zM340.24 390.69h6.74v3.37h-6.74zM326.77 394.06h3.37v3.37h-3.37zM343.61 394.06h3.37v3.37h-3.37zM326.77 397.43h3.37v3.37h-3.37zM343.61 397.43h3.37v3.37h-3.37zM323.40 400.79h3.37v3.37h-3.37zM343.61 400.79h3.37v3.37h-3.37zM323.40 404.16h3.37v3.37h-3.37zM343.61 404.16h3.37v3.37h-3.37zM323.40 407.53h3.37v3.37h-3.37zM343.61 407.53h3.37v3.37h-3.37zM323.40 410.90h3.37v3.37h-3.37zM343.61 410.90h3.37v3.37h-3.37zM323.40 414.27h3.37v3.37h-3.37zM346.98 414.27h3.37v3.37h-3.37zM323.40 417.63h3.37v3.37h-3.37zM346.98 417.63h3.37v3.37h-3.37zM323.40 421.00h3.37v3.37h-3.37zM346.98 421.00h3.37v3.37h-3.37zM320.03 424.37h3.37v3.37h-3.37zM346.98 424.37h3.37v3.37h-3.37zM320.03 427.74h3.37v3.37h-3.37zM350.35 427.74h3.37v3.37h-3.37zM320.03 431.11h3.37v3.37h-3.37zM350.35 431.11h3.37v3.37h-3.37zM320.03 434.47h3.37v3.37h-3.37zM350.35 434.47h3.37v3.37h-3.37zM320.03 437.84h3.37v3.37h-3.37zM350.35 437.84h3.37v3.37h-3.37zM320.03 441.21h3.37v3.37h-3.37zM350.35 441.21h3.37v3.37h-3.37zM320.03 444.58h3.37v3.37h-3.37zM353.72 444.58h3.37v3.37h-3.37zM320.03 447.95h3.37v3.37h-3.37zM353.72 447.95h3.37v3.37h-3.37zM320.03 451.31h3.37v3.37h-3.37zM353.72 451.31h3.37v3.37h-3.37zM316.66 454.68h3.37v3.37h-3.37zM353.72 454.68h3.37v3.37h-3.37zM316.66 458.05h3.37v3.37h-3.37zM353.72 458.05h3.37v3.37h-3.37zM316.66 461.42h3.37v3.37h-3.37zM353.72 461.42h3.37v3.37h-3.37zM316.66 464.79h3.37v3.37h-3.37zM353.72 464.79h3.37v3.37h-3.37zM316.66 468.15h3.37v3.37h-3.37zM357.09 468.15h3.37v3.37h-3.37zM316.66 471.52h3.37v3.37h-3.37zM357.09 471.52h3.37v3.37h-3.37zM316.66 474.89h3.37v3.37h-3.37zM357.09 474.89h3.37v3.37h-3.37zM316.66 478.26h3.37v3.37h-3.37zM357.09 478.26h3.37v3.37h-3.37zM316.66 481.63h3.37v3.37h-3.37zM357.09 481.63h3.37v3.37h-3.37zM316.66 484.99h3.37v3.37h-3.37zM357.09 484.99h3.37v3.37h-3.37zM313.29 488.36h3.37v3.37h-3.37zM357.09 488.36h3.37v3.37h-3.37zM313.29 491.73h3.37v3.37h-3.37zM357.09 491.73h3.37v3.37h-3.37zM313.29 495.10h3.37v3.37h-3.37zM357.09 495.10h3.37v3.37h-3.37zM313.29 498.47h3.37v3.37h-3.37zM357.09 498.47h3.37v3.37h-3.37zM313.29 501.83h3.37v3.37h-3.37zM357.09 501.83h3.37v3.37h-3.37zM313.29 505.20h3.37v3.37h-3.37zM360.46 505.20h3.37v3.37h-3.37zM313.29 508.57h3.37v3.37h-3.37zM360.46 508.57h3.37v3.37h-3.37zM313.29 511.94h3.37v3.37h-3.37zM360.46 511.94h3.37v3.37h-3.37zM313.29 515.31h3.37v3.37h-3.37zM360.46 515.31h3.37v3.37h-3.37zM313.29 518.67h3.37v3.37h-3.37zM363.82 518.67h3.37v3.37h-3.37zM313.29 522.04h3.37v3.37h-3.37zM363.82 522.04h6.74v3.37h-6.74zM313.29 525.41h3.37v3.37h-3.37zM367.19 525.41h3.37v3.37h-3.37zM309.93 528.78h3.37v3.37h-3.37zM367.19 528.78h3.37v3.37h-3.37zM309.93 532.15h3.37v3.37h-3.37zM367.19 532.15h3.37v3.37h-3.37zM309.93 535.51h3.37v3.37h-3.37zM367.19 535.51h3.37v3.37h-3.37zM309.93 538.88h3.37v3.37h-3.37zM367.19 538.88h3.37v3.37h-3.37zM309.93 542.25h3.37v3.37h-3.37zM367.19 542.25h6.74v3.37h-6.74zM309.93 545.62h3.37v3.37h-3.37zM370.56 545.62h3.37v3.37h-3.37zM309.93 548.99h3.37v3.37h-3.37zM370.56 548.99h3.37v3.37h-3.37zM309.93 552.35h3.37v3.37h-3.37zM370.56 552.35h3.37v3.37h-3.37zM309.93 555.72h3.37v3.37h-3.37zM370.56 555.72h3.37v3.37h-3.37zM309.93 559.09h3.37v3.37h-3.37zM370.56 559.09h3.37v3.37h-3.37zM309.93 562.46h3.37v3.37h-3.37zM370.56 562.46h3.37v3.37h-3.37zM309.93 565.83h3.37v3.37h-3.37zM370.56 565.83h3.37v3.37h-3.37zM309.93 569.19h3.37v3.37h-3.37zM370.56 569.19h3.37v3.37h-3.37zM306.56 572.56h3.37v3.37h-3.37zM370.56 572.56h3.37v3.37h-3.37zM306.56 575.93h3.37v3.37h-3.37zM370.56 575.93h3.37v3.37h-3.37zM306.56 579.30h3.37v3.37h-3.37zM373.93 579.30h3.37v3.37h-3.37zM306.56 582.67h3.37v3.37h-3.37zM373.93 582.67h3.37v3.37h-3.37zM306.56 586.03h3.37v3.37h-3.37zM373.93 586.03h3.37v3.37h-3.37zM306.56 589.40h3.37v3.37h-3.37zM373.93 589.40h3.37v3.37h-3.37zM306.56 592.77h3.37v3.37h-3.37zM373.93 592.77h3.37v3.37h-3.37zM306.56 596.14h3.37v3.37h-3.37zM373.93 596.14h3.37v3.37h-3.37zM306.56 599.51h3.37v3.37h-3.37zM373.93 599.51h3.37v3.37h-3.37zM306.56 602.87h3.37v3.37h-3.37zM373.93 602.87h3.37v3.37h-3.37zM306.56 606.24h3.37v3.37h-3.37zM373.93 606.24h3.37v3.37h-3.37zM306.56 609.61h3.37v3.37h-3.37zM373.93 609.61h3.37v3.37h-3.37zM303.19 612.98h3.37v3.37h-3.37zM373.93 612.98h3.37v3.37h-3.37zM303.19 616.35h3.37v3.37h-3.37zM373.93 616.35h3.37v3.37h-3.37zM303.19 619.71h3.37v3.37h-3.37zM373.93 619.71h3.37v3.37h-3.37zM303.19 623.08h3.37v3.37h-3.37zM377.30 623.08h3.37v3.37h-3.37zM303.19 626.45h3.37v3.37h-3.37zM377.30 626.45h3.37v3.37h-3.37zM303.19 629.82h3.37v3.37h-3.37zM377.30 629.82h3.37v3.37h-3.37zM303.19 633.19h3.37v3.37h-3.37zM377.30 633.19h3.37v3.37h-3.37zM303.19 636.55h3.37v3.37h-3.37zM377.30 636.55h3.37v3.37h-3.37zM303.19 639.92h3.37v3.37h-3.37zM377.30 639.92h3.37v3.37h-3.37zM303.19 643.29h3.37v3.37h-3.37zM380.67 643.29h3.37v3.37h-3.37zM303.19 646.66h3.37v3.37h-3.37zM380.67 646.66h3.37v3.37h-3.37zM303.19 650.03h3.37v3.37h-3.37zM380.67 650.03h3.37v3.37h-3.37zM303.19 653.39h3.37v3.37h-3.37zM380.67 653.39h3.37v3.37h-3.37zM303.19 656.76h3.37v3.37h-3.37zM380.67 656.76h3.37v3.37h-3.37zM303.19 660.13h3.37v3.37h-3.37zM380.67 660.13h3.37v3.37h-3.37zM303.19 663.50h3.37v3.37h-3.37zM380.67 663.50h3.37v3.37h-3.37zM299.82 666.87h3.37v3.37h-3.37zM380.67 666.87h3.37v3.37h-3.37zM299.82 670.24h3.37v3.37h-3.37zM384.04 670.24h3.37v3.37h-3.37zM299.82 673.60h3.37v3.37h-3.37zM384.04 673.60h3.37v3.37h-3.37zM299.82 676.97h3.37v3.37h-3.37zM384.04 676.97h3.37v3.37h-3.37zM299.82 680.34h3.37v3.37h-3.37zM384.04 680.34h3.37v3.37h-3.37zM299.82 683.71h3.37v3.37h-3.37zM384.04 683.71h3.37v3.37h-3.37zM299.82 687.08h3.37v3.37h-3.37zM384.04 687.08h3.37v3.37h-3.37zM299.82 690.44h3.37v3.37h-3.37zM384.04 690.44h3.37v3.37h-3.37zM299.82 693.81h3.37v3.37h-3.37zM384.04 693.81h3.37v3.37h-3.37zM299.82 697.18h3.37v3.37h-3.37zM384.04 697.18h3.37v3.37h-3.37zM299.82 700.55h3.37v3.37h-3.37zM384.04 700.55h3.37v3.37h-3.37zM299.82 703.92h3.37v3.37h-3.37zM387.41 703.92h3.37v3.37h-3.37zM299.82 707.28h3.37v3.37h-3.37zM387.41 707.28h3.37v3.37h-3.37zM296.45 710.65h3.37v3.37h-3.37zM387.41 710.65h3.37v3.37h-3.37zM296.45 714.02h3.37v3.37h-3.37zM387.41 714.02h3.37v3.37h-3.37zM296.45 717.39h3.37v3.37h-3.37zM387.41 717.39h3.37v3.37h-3.37zM296.45 720.76h3.37v3.37h-3.37zM387.41 720.76h3.37v3.37h-3.37zM296.45 724.12h3.37v3.37h-3.37zM387.41 724.12h3.37v3.37h-3.37zM296.45 727.49h3.37v3.37h-3.37zM387.41 727.49h3.37v3.37h-3.37zM296.45 730.86h3.37v3.37h-3.37zM387.41 730.86h3.37v3.37h-3.37zM296.45 734.23h3.37v3.37h-3.37zM387.41 734.23h3.37v3.37h-3.37zM296.45 737.60h3.37v3.37h-3.37zM390.77 737.60h3.37v3.37h-3.37zM296.45 740.96h3.37v3.37h-3.37zM390.77 740.96h3.37v3.37h-3.37zM296.45 744.33h3.37v3.37h-3.37zM390.77 744.33h3.37v3.37h-3.37zM296.45 747.70h3.37v3.37h-3.37zM390.77 747.70h3.37v3.37h-3.37zM296.45 751.07h3.37v3.37h-3.37zM390.77 751.07h3.37v3.37h-3.37zM296.45 754.44h3.37v3.37h-3.37zM394.14 754.44h3.37v3.37h-3.37zM296.45 757.80h3.37v3.37h-3.37zM394.14 757.80h3.37v3.37h-3.37zM296.45 761.17h3.37v3.37h-3.37zM394.14 761.17h3.37v3.37h-3.37zM296.45 764.54h3.37v3.37h-3.37zM394.14 764.54h3.37v3.37h-3.37zM296.45 767.91h3.37v3.37h-3.37zM394.14 767.91h3.37v3.37h-3.37zM293.08 771.28h3.37v3.37h-3.37zM394.14 771.28h3.37v3.37h-3.37zM293.08 774.64h3.37v3.37h-3.37zM394.14 774.64h3.37v3.37h-3.37zM293.08 778.01h3.37v3.37h-3.37zM394.14 778.01h3.37v3.37h-3.37zM293.08 781.38h3.37v3.37h-3.37zM394.14 781.38h3.37v3.37h-3.37zM293.08 784.75h3.37v3.37h-3.37zM394.14 784.75h3.37v3.37h-3.37zM293.08 788.12h3.37v3.37h-3.37zM394.14 788.12h3.37v3.37h-3.37zM293.08 791.48h3.37v3.37h-3.37zM397.51 791.48h3.37v3.37h-3.37zM293.08 794.85h3.37v3.37h-3.37zM397.51 794.85h3.37v3.37h-3.37zM293.08 798.22h3.37v3.37h-3.37zM397.51 798.22h3.37v3.37h-3.37zM293.08 801.59h3.37v3.37h-3.37zM397.51 801.59h3.37v3.37h-3.37zM293.08 804.96h3.37v3.37h-3.37zM397.51 804.96h3.37v3.37h-3.37zM293.08 808.32h3.37v3.37h-3.37zM397.51 808.32h3.37v3.37h-3.37zM293.08 811.69h3.37v3.37h-3.37zM397.51 811.69h3.37v3.37h-3.37zM293.08 815.06h3.37v3.37h-3.37zM397.51 815.06h3.37v3.37h-3.37zM293.08 818.43h3.37v3.37h-3.37zM397.51 818.43h3.37v3.37h-3.37zM293.08 821.80h3.37v3.37h-3.37zM400.88 821.80h3.37v3.37h-3.37zM293.08 825.16h3.37v3.37h-3.37zM400.88 825.16h3.37v3.37h-3.37zM293.08 828.53h3.37v3.37h-3.37zM400.88 828.53h3.37v3.37h-3.37zM293.08 831.90h3.37v3.37h-3.37zM400.88 831.90h3.37v3.37h-3.37zM293.08 835.27h3.37v3.37h-3.37zM400.88 835.27h3.37v3.37h-3.37zM293.08 838.64h3.37v3.37h-3.37zM400.88 838.64h3.37v3.37h-3.37zM293.08 842.00h3.37v3.37h-3.37zM400.88 842.00h3.37v3.37h-3.37zM293.08 845.37h3.37v3.37h-3.37zM404.25 845.37h3.37v3.37h-3.37zM289.71 848.74h3.37v3.37h-3.37zM404.25 848.74h3.37v3.37h-3.37zM289.71 852.11h3.37v3.37h-3.37zM404.25 852.11h3.37v3.37h-3.37zM289.71 855.48h3.37v3.37h-3.37zM404.25 855.48h3.37v3.37h-3.37zM289.71 858.84h3.37v3.37h-3.37zM404.25 858.84h3.37v3.37h-3.37zM289.71 862.21h3.37v3.37h-3.37zM407.62 862.21h3.37v3.37h-3.37zM289.71 865.58h3.37v3.37h-3.37zM407.62 865.58h3.37v3.37h-3.37zM289.71 868.95h3.37v3.37h-3.37zM407.62 868.95h3.37v3.37h-3.37zM289.71 872.32h3.37v3.37h-3.37zM407.62 872.32h3.37v3.37h-3.37zM289.71 875.68h3.37v3.37h-3.37zM407.62 875.68h3.37v3.37h-3.37zM289.71 879.05h3.37v3.37h-3.37zM410.99 879.05h3.37v3.37h-3.37zM289.71 882.42h3.37v3.37h-3.37zM410.99 882.42h3.37v3.37h-3.37zM289.71 885.79h3.37v3.37h-3.37zM410.99 885.79h3.37v3.37h-3.37zM289.71 889.16h3.37v3.37h-3.37zM410.99 889.16h3.37v3.37h-3.37zM289.71 892.52h3.37v3.37h-3.37zM410.99 892.52h3.37v3.37h-3.37zM289.71 895.89h3.37v3.37h-3.37zM410.99 895.89h3.37v3.37h-3.37zM289.71 899.26h3.37v3.37h-3.37zM410.99 899.26h3.37v3.37h-3.37zM286.34 902.63h3.37v3.37h-3.37zM410.99 902.63h3.37v3.37h-3.37zM286.34 906.00h3.37v3.37h-3.37zM414.36 906.00h3.37v3.37h-3.37zM286.34 909.36h3.37v3.37h-3.37zM414.36 909.36h3.37v3.37h-3.37zM286.34 912.73h3.37v3.37h-3.37zM414.36 912.73h3.37v3.37h-3.37zM286.34 916.10h3.37v3.37h-3.37zM414.36 916.10h3.37v3.37h-3.37zM286.34 919.47h3.37v3.37h-3.37zM414.36 919.47h3.37v3.37h-3.37zM286.34 922.84h3.37v3.37h-3.37zM417.72 922.84h3.37v3.37h-3.37zM286.34 926.20h3.37v3.37h-3.37zM417.72 926.20h3.37v3.37h-3.37zM286.34 929.57h3.37v3.37h-3.37zM417.72 929.57h3.37v3.37h-3.37zM286.34 932.94h3.37v3.37h-3.37zM417.72 932.94h3.37v3.37h-3.37zM286.34 936.31h3.37v3.37h-3.37zM417.72 936.31h3.37v3.37h-3.37zM286.34 939.68h3.37v3.37h-3.37zM421.09 939.68h3.37v3.37h-3.37zM282.97 943.04h3.37v3.37h-3.37zM421.09 943.04h3.37v3.37h-3.37zM282.97 946.41h3.37v3.37h-3.37zM421.09 946.41h3.37v3.37h-3.37zM282.97 949.78h3.37v3.37h-3.37zM421.09 949.78h3.37v3.37h-3.37zM282.97 953.15h3.37v3.37h-3.37zM421.09 953.15h3.37v3.37h-3.37zM282.97 956.52h3.37v3.37h-3.37zM421.09 956.52h3.37v3.37h-3.37zM282.97 959.88h3.37v3.37h-3.37zM421.09 959.88h3.37v3.37h-3.37zM282.97 963.25h3.37v3.37h-3.37zM421.09 963.25h3.37v3.37h-3.37zM282.97 966.62h3.37v3.37h-3.37zM424.46 966.62h3.37v3.37h-3.37zM282.97 969.99h3.37v3.37h-3.37zM424.46 969.99h3.37v3.37h-3.37zM282.97 973.36h3.37v3.37h-3.37zM424.46 973.36h3.37v3.37h-3.37zM282.97 976.72h3.37v3.37h-3.37zM424.46 976.72h3.37v3.37h-3.37zM282.97 980.09h3.37v3.37h-3.37zM424.46 980.09h3.37v3.37h-3.37zM279.61 983.46h3.37v3.37h-3.37zM424.46 983.46h3.37v3.37h-3.37zM279.61 986.83h3.37v3.37h-3.37zM424.46 986.83h3.37v3.37h-3.37zM279.61 990.20h3.37v3.37h-3.37zM424.46 990.20h3.37v3.37h-3.37zM279.61 993.56h3.37v3.37h-3.37zM427.83 993.56h3.37v3.37h-3.37zM279.61 996.93h3.37v3.37h-3.37zM427.83 996.93h3.37v3.37h-3.37zM279.61 1000.30h3.37v3.37h-3.37zM427.83 1000.30h3.37v3.37h-3.37zM279.61 1003.67h3.37v3.37h-3.37zM427.83 1003.67h3.37v3.37h-3.37zM279.61 1007.04h3.37v3.37h-3.37zM427.83 1007.04h3.37v3.37h-3.37zM279.61 1010.40h3.37v3.37h-3.37zM427.83 1010.40h3.37v3.37h-3.37zM279.61 1013.77h3.37v3.37h-3.37zM431.20 1013.77h3.37v3.37h-3.37zM279.61 1017.14h3.37v3.37h-3.37zM431.20 1017.14h3.37v3.37h-3.37zM279.61 1020.51h3.37v3.37h-3.37zM431.20 1020.51h3.37v3.37h-3.37zM279.61 1023.88h3.37v3.37h-3.37zM431.20 1023.88h3.37v3.37h-3.37zM279.61 1027.24h3.37v3.37h-3.37zM431.20 1027.24h3.37v3.37h-3.37zM276.24 1030.61h3.37v3.37h-3.37zM431.20 1030.61h3.37v3.37h-3.37zM276.24 1033.98h3.37v3.37h-3.37zM431.20 1033.98h3.37v3.37h-3.37zM276.24 1037.35h3.37v3.37h-3.37zM434.57 1037.35h3.37v3.37h-3.37zM276.24 1040.72h3.37v3.37h-3.37zM434.57 1040.72h3.37v3.37h-3.37zM276.24 1044.08h3.37v3.37h-3.37zM434.57 1044.08h3.37v3.37h-3.37zM276.24 1047.45h3.37v3.37h-3.37zM434.57 1047.45h3.37v3.37h-3.37zM276.24 1050.82h3.37v3.37h-3.37zM434.57 1050.82h3.37v3.37h-3.37zM276.24 1054.19h3.37v3.37h-3.37zM434.57 1054.19h3.37v3.37h-3.37zM276.24 1057.56h3.37v3.37h-3.37zM437.94 1057.56h3.37v3.37h-3.37zM276.24 1060.92h3.37v3.37h-3.37zM437.94 1060.92h3.37v3.37h-3.37zM276.24 1064.29h3.37v3.37h-3.37zM437.94 1064.29h3.37v3.37h-3.37zM276.24 1067.66h3.37v3.37h-3.37zM437.94 1067.66h3.37v3.37h-3.37zM276.24 1071.03h3.37v3.37h-3.37zM441.31 1071.03h3.37v3.37h-3.37zM276.24 1074.40h3.37v3.37h-3.37zM441.31 1074.40h3.37v3.37h-3.37zM276.24 1077.76h3.37v3.37h-3.37zM441.31 1077.76h3.37v3.37h-3.37zM272.87 1081.13h3.37v3.37h-3.37zM441.31 1081.13h3.37v3.37h-3.37zM272.87 1084.50h3.37v3.37h-3.37zM444.68 1084.50h3.37v3.37h-3.37zM272.87 1087.87h3.37v3.37h-3.37zM444.68 1087.87h3.37v3.37h-3.37zM272.87 1091.24h3.37v3.37h-3.37zM444.68 1091.24h3.37v3.37h-3.37zM272.87 1094.61h3.37v3.37h-3.37zM444.68 1094.61h3.37v3.37h-3.37zM272.87 1097.97h3.37v3.37h-3.37zM448.04 1097.97h3.37v3.37h-3.37zM272.87 1101.34h3.37v3.37h-3.37zM448.04 1101.34h3.37v3.37h-3.37zM272.87 1104.71h3.37v3.37h-3.37zM448.04 1104.71h3.37v3.37h-3.37zM272.87 1108.08h3.37v3.37h-3.37zM448.04 1108.08h3.37v3.37h-3.37zM272.87 1111.45h3.37v3.37h-3.37zM448.04 1111.45h3.37v3.37h-3.37zM272.87 1114.81h3.37v3.37h-3.37zM451.41 1114.81h3.37v3.37h-3.37zM272.87 1118.18h3.37v3.37h-3.37zM451.41 1118.18h3.37v3.37h-3.37zM269.50 1121.55h3.37v3.37h-3.37zM451.41 1121.55h3.37v3.37h-3.37zM269.50 1124.92h3.37v3.37h-3.37zM451.41 1124.92h3.37v3.37h-3.37zM269.50 1128.29h3.37v3.37h-3.37zM451.41 1128.29h3.37v3.37h-3.37zM269.50 1131.65h3.37v3.37h-3.37zM451.41 1131.65h3.37v3.37h-3.37zM269.50 1135.02h3.37v3.37h-3.37zM454.78 1135.02h3.37v3.37h-3.37zM269.50 1138.39h3.37v3.37h-3.37zM454.78 1138.39h3.37v3.37h-3.37zM269.50 1141.76h3.37v3.37h-3.37zM454.78 1141.76h3.37v3.37h-3.37zM269.50 1145.13h3.37v3.37h-3.37zM454.78 1145.13h3.37v3.37h-3.37zM269.50 1148.49h3.37v3.37h-3.37zM458.15 1148.49h3.37v3.37h-3.37zM269.50 1151.86h3.37v3.37h-3.37zM458.15 1151.86h3.37v3.37h-3.37zM269.50 1155.23h3.37v3.37h-3.37zM458.15 1155.23h3.37v3.37h-3.37zM266.13 1158.60h3.37v3.37h-3.37zM461.52 1158.60h3.37v3.37h-3.37zM266.13 1161.97h3.37v3.37h-3.37zM461.52 1161.97h3.37v3.37h-3.37zM266.13 1165.33h3.37v3.37h-3.37zM461.52 1165.33h3.37v3.37h-3.37zM266.13 1168.70h3.37v3.37h-3.37zM464.89 1168.70h3.37v3.37h-3.37zM266.13 1172.07h3.37v3.37h-3.37zM464.89 1172.07h3.37v3.37h-3.37zM266.13 1175.44h3.37v3.37h-3.37zM464.89 1175.44h3.37v3.37h-3.37zM266.13 1178.81h3.37v3.37h-3.37zM464.89 1178.81h3.37v3.37h-3.37zM266.13 1182.17h3.37v3.37h-3.37zM468.26 1182.17h3.37v3.37h-3.37zM266.13 1185.54h3.37v3.37h-3.37zM468.26 1185.54h3.37v3.37h-3.37zM266.13 1188.91h3.37v3.37h-3.37zM468.26 1188.91h3.37v3.37h-3.37zM266.13 1192.28h3.37v3.37h-3.37zM468.26 1192.28h3.37v3.37h-3.37zM262.76 1195.65h3.37v3.37h-3.37zM468.26 1195.65h3.37v3.37h-3.37zM262.76 1199.01h3.37v3.37h-3.37zM471.62 1199.01h3.37v3.37h-3.37zM262.76 1202.38h3.37v3.37h-3.37zM471.62 1202.38h3.37v3.37h-3.37zM262.76 1205.75h3.37v3.37h-3.37zM471.62 1205.75h3.37v3.37h-3.37zM262.76 1209.12h3.37v3.37h-3.37zM471.62 1209.12h3.37v3.37h-3.37zM262.76 1212.49h3.37v3.37h-3.37zM471.62 1212.49h3.37v3.37h-3.37zM262.76 1215.85h3.37v3.37h-3.37zM474.99 1215.85h3.37v3.37h-3.37zM262.76 1219.22h3.37v3.37h-3.37zM474.99 1219.22h3.37v3.37h-3.37zM262.76 1222.59h3.37v3.37h-3.37zM474.99 1222.59h3.37v3.37h-3.37zM262.76 1225.96h3.37v3.37h-3.37zM474.99 1225.96h3.37v3.37h-3.37zM262.76 1229.33h3.37v3.37h-3.37zM478.36 1229.33h3.37v3.37h-3.37zM259.39 1232.69h3.37v3.37h-3.37zM478.36 1232.69h3.37v3.37h-3.37zM259.39 1236.06h3.37v3.37h-3.37zM478.36 1236.06h3.37v3.37h-3.37zM259.39 1239.43h3.37v3.37h-3.37zM481.73 1239.43h3.37v3.37h-3.37zM259.39 1242.80h3.37v3.37h-3.37zM481.73 1242.80h3.37v3.37h-3.37zM259.39 1246.17h3.37v3.37h-3.37zM485.10 1246.17h3.37v3.37h-3.37zM259.39 1249.53h3.37v3.37h-3.37zM488.47 1249.53h3.37v3.37h-3.37zM259.39 1252.90h3.37v3.37h-3.37zM488.47 1252.90h3.37v3.37h-3.37zM259.39 1256.27h3.37v3.37h-3.37zM488.47 1256.27h3.37v3.37h-3.37zM259.39 1259.64h3.37v3.37h-3.37zM491.84 1259.64h3.37v3.37h-3.37zM259.39 1263.01h3.37v3.37h-3.37zM491.84 1263.01h3.37v3.37h-3.37zM259.39 1266.37h3.37v3.37h-3.37zM495.21 1266.37h3.37v3.37h-3.37zM256.02 1269.74h3.37v3.37h-3.37zM495.21 1269.74h3.37v3.37h-3.37zM256.02 1273.11h3.37v3.37h-3.37zM498.57 1273.11h3.37v3.37h-3.37zM256.02 1276.48h3.37v3.37h-3.37zM498.57 1276.48h3.37v3.37h-3.37zM256.02 1279.85h3.37v3.37h-3.37zM498.57 1279.85h3.37v3.37h-3.37zM256.02 1283.21h3.37v3.37h-3.37zM501.94 1283.21h3.37v3.37h-3.37zM256.02 1286.58h3.37v3.37h-3.37zM501.94 1286.58h3.37v3.37h-3.37zM256.02 1289.95h3.37v3.37h-3.37zM505.31 1289.95h3.37v3.37h-3.37zM256.02 1293.32h3.37v3.37h-3.37zM505.31 1293.32h6.74v3.37h-6.74zM252.66 1296.69h3.37v3.37h-3.37zM508.68 1296.69h3.37v3.37h-3.37zM252.66 1300.05h3.37v3.37h-3.37zM512.05 1300.05h3.37v3.37h-3.37zM252.66 1303.42h3.37v3.37h-3.37zM512.05 1303.42h3.37v3.37h-3.37zM252.66 1306.79h3.37v3.37h-3.37zM515.42 1306.79h3.37v3.37h-3.37zM249.29 1310.16h3.37v3.37h-3.37zM515.42 1310.16h3.37v3.37h-3.37zM249.29 1313.53h3.37v3.37h-3.37zM518.79 1313.53h3.37v3.37h-3.37zM249.29 1316.89h3.37v3.37h-3.37zM518.79 1316.89h6.74v3.37h-6.74zM249.29 1320.26h3.37v3.37h-3.37zM525.52 1320.26h3.37v3.37h-3.37zM245.92 1323.63h3.37v3.37h-3.37zM528.89 1323.63h3.37v3.37h-3.37zM245.92 1327.00h3.37v3.37h-3.37zM532.26 1327.00h3.37v3.37h-3.37zM245.92 1330.37h3.37v3.37h-3.37zM535.63 1330.37h3.37v3.37h-3.37zM245.92 1333.73h3.37v3.37h-3.37zM539.00 1333.73h3.37v3.37h-3.37zM242.55 1337.10h3.37v3.37h-3.37zM539.00 1337.10h6.74v3.37h-6.74zM242.55 1340.47h3.37v3.37h-3.37zM545.74 1340.47h6.74v3.37h-6.74zM242.55 1343.84h3.37v3.37h-3.37zM549.11 1343.84h3.37v3.37h-3.37zM242.55 1347.21h3.37v3.37h-3.37zM549.11 1347.21h3.37v3.37h-3.37zM239.18 1350.57h3.37v3.37h-3.37zM552.48 1350.57h3.37v3.37h-3.37zM239.18 1353.94h3.37v3.37h-3.37zM552.48 1353.94h3.37v3.37h-3.37zM239.18 1357.31h3.37v3.37h-3.37zM552.48 1357.31h3.37v3.37h-3.37zM239.18 1360.68h3.37v3.37h-3.37zM555.84 1360.68h3.37v3.37h-3.37zM239.18 1364.05h3.37v3.37h-3.37zM559.21 1364.05h3.37v3.37h-3.37zM235.81 1367.41h3.37v3.37h-3.37zM562.58 1367.41h3.37v3.37h-3.37zM235.81 1370.78h3.37v3.37h-3.37zM565.95 1370.78h3.37v3.37h-3.37zM235.81 1374.15h3.37v3.37h-3.37zM569.32 1374.15h3.37v3.37h-3.37zM235.81 1377.52h3.37v3.37h-3.37zM569.32 1377.52h3.37v3.37h-3.37zM232.44 1380.89h3.37v3.37h-3.37zM572.69 1380.89h10.11v3.37h-10.11zM1162.22 1380.89h3.37v3.37h-3.37zM232.44 1384.25h3.37v3.37h-3.37zM582.79 1384.25h10.11v3.37h-10.11zM1037.58 1384.25h3.37v3.37h-3.37zM1047.68 1384.25h6.74v3.37h-6.74zM1138.64 1384.25h3.37v3.37h-3.37zM1158.85 1384.25h10.11v3.37h-10.11zM1172.33 1384.25h13.47v3.37h-13.47zM1189.17 1384.25h6.74v3.37h-6.74zM232.44 1387.62h3.37v3.37h-3.37zM592.90 1387.62h3.37v3.37h-3.37zM933.14 1387.62h6.74v3.37h-6.74zM953.36 1387.62h3.37v3.37h-3.37zM970.20 1387.62h3.37v3.37h-3.37zM993.78 1387.62h3.37v3.37h-3.37zM1020.73 1387.62h13.47v3.37h-13.47zM1037.58 1387.62h10.11v3.37h-10.11zM1054.42 1387.62h13.47v3.37h-13.47zM1074.63 1387.62h6.74v3.37h-6.74zM1091.47 1387.62h6.74v3.37h-6.74zM1104.95 1387.62h6.74v3.37h-6.74zM1135.27 1387.62h3.37v3.37h-3.37zM1142.01 1387.62h6.74v3.37h-6.74zM1152.11 1387.62h10.11v3.37h-10.11zM1165.59 1387.62h6.74v3.37h-6.74zM1179.06 1387.62h10.11v3.37h-10.11zM1195.91 1387.62h3.37v3.37h-3.37zM1212.75 1387.62h6.74v3.37h-6.74zM1226.22 1387.62h3.37v3.37h-3.37zM1246.44 1387.62h3.37v3.37h-3.37zM232.44 1390.99h3.37v3.37h-3.37zM596.27 1390.99h3.37v3.37h-3.37zM916.30 1390.99h3.37v3.37h-3.37zM929.77 1390.99h3.37v3.37h-3.37zM936.51 1390.99h3.37v3.37h-3.37zM949.99 1390.99h3.37v3.37h-3.37zM956.73 1390.99h3.37v3.37h-3.37zM970.20 1390.99h10.11v3.37h-10.11zM983.67 1390.99h3.37v3.37h-3.37zM993.78 1390.99h6.74v3.37h-6.74zM1003.89 1390.99h3.37v3.37h-3.37zM1010.62 1390.99h10.11v3.37h-10.11zM1030.84 1390.99h6.74v3.37h-6.74zM1040.94 1390.99h3.37v3.37h-3.37zM1054.42 1390.99h3.37v3.37h-3.37zM1064.52 1390.99h10.11v3.37h-10.11zM1081.37 1390.99h10.11v3.37h-10.11zM1098.21 1390.99h13.47v3.37h-13.47zM1125.16 1390.99h10.11v3.37h-10.11zM1145.38 1390.99h6.74v3.37h-6.74zM1185.80 1390.99h3.37v3.37h-3.37zM1199.27 1390.99h10.11v3.37h-10.11zM1212.75 1390.99h3.37v3.37h-3.37zM1219.49 1390.99h10.11v3.37h-10.11zM1232.96 1390.99h10.11v3.37h-10.11zM1246.44 1390.99h13.47v3.37h-13.47zM1263.28 1390.99h3.37v3.37h-3.37zM1276.76 1390.99h3.37v3.37h-3.37zM1303.71 1390.99h3.37v3.37h-3.37zM229.07 1394.36h3.37v3.37h-3.37zM599.64 1394.36h6.74v3.37h-6.74zM855.66 1394.36h3.37v3.37h-3.37zM869.14 1394.36h3.37v3.37h-3.37zM896.09 1394.36h3.37v3.37h-3.37zM906.19 1394.36h3.37v3.37h-3.37zM916.30 1394.36h6.74v3.37h-6.74zM926.41 1394.36h3.37v3.37h-3.37zM939.88 1394.36h3.37v3.37h-3.37zM949.99 1394.36h3.37v3.37h-3.37zM960.09 1394.36h10.11v3.37h-10.11zM980.31 1394.36h3.37v3.37h-3.37zM987.04 1394.36h6.74v3.37h-6.74zM1000.52 1394.36h3.37v3.37h-3.37zM1007.26 1394.36h6.74v3.37h-6.74zM1101.58 1394.36h3.37v3.37h-3.37zM1111.69 1394.36h16.84v3.37h-16.84zM1209.38 1394.36h3.37v3.37h-3.37zM1229.59 1394.36h3.37v3.37h-3.37zM1239.70 1394.36h6.74v3.37h-6.74zM1259.91 1394.36h6.74v3.37h-6.74zM1270.02 1394.36h3.37v3.37h-3.37zM1276.76 1394.36h6.74v3.37h-6.74zM1290.23 1394.36h6.74v3.37h-6.74zM1303.71 1394.36h6.74v3.37h-6.74zM1313.81 1394.36h3.37v3.37h-3.37zM229.07 1397.73h3.37v3.37h-3.37zM606.38 1397.73h6.74v3.37h-6.74zM842.19 1397.73h3.37v3.37h-3.37zM848.92 1397.73h3.37v3.37h-3.37zM855.66 1397.73h13.47v3.37h-13.47zM872.51 1397.73h13.47v3.37h-13.47zM889.35 1397.73h3.37v3.37h-3.37zM896.09 1397.73h3.37v3.37h-3.37zM902.82 1397.73h3.37v3.37h-3.37zM909.56 1397.73h6.74v3.37h-6.74zM923.04 1397.73h3.37v3.37h-3.37zM943.25 1397.73h6.74v3.37h-6.74zM987.04 1397.73h3.37v3.37h-3.37zM1243.07 1397.73h3.37v3.37h-3.37zM1266.65 1397.73h3.37v3.37h-3.37zM1273.39 1397.73h3.37v3.37h-3.37zM1283.49 1397.73h6.74v3.37h-6.74zM1296.97 1397.73h6.74v3.37h-6.74zM1310.44 1397.73h3.37v3.37h-3.37zM1317.18 1397.73h6.74v3.37h-6.74zM1327.29 1397.73h16.84v3.37h-16.84zM229.07 1401.09h3.37v3.37h-3.37zM613.11 1401.09h3.37v3.37h-3.37zM619.85 1401.09h6.74v3.37h-6.74zM811.87 1401.09h6.74v3.37h-6.74zM825.34 1401.09h16.84v3.37h-16.84zM845.56 1401.09h3.37v3.37h-3.37zM852.29 1401.09h3.37v3.37h-3.37zM865.77 1401.09h3.37v3.37h-3.37zM882.61 1401.09h6.74v3.37h-6.74zM892.72 1401.09h3.37v3.37h-3.37zM899.46 1401.09h3.37v3.37h-3.37zM912.93 1401.09h3.37v3.37h-3.37zM1323.92 1401.09h3.37v3.37h-3.37zM1337.39 1401.09h3.37v3.37h-3.37zM1344.13 1401.09h16.84v3.37h-16.84zM1367.71 1401.09h3.37v3.37h-3.37zM229.07 1404.46h3.37v3.37h-3.37zM616.48 1404.46h3.37v3.37h-3.37zM626.59 1404.46h6.74v3.37h-6.74zM650.17 1404.46h3.37v3.37h-3.37zM663.64 1404.46h3.37v3.37h-3.37zM687.23 1404.46h6.74v3.37h-6.74zM700.70 1404.46h3.37v3.37h-3.37zM710.81 1404.46h3.37v3.37h-3.37zM717.54 1404.46h6.74v3.37h-6.74zM727.65 1404.46h3.37v3.37h-3.37zM734.39 1404.46h10.11v3.37h-10.11zM761.34 1404.46h6.74v3.37h-6.74zM791.66 1404.46h16.84v3.37h-16.84zM811.87 1404.46h16.84v3.37h-16.84zM838.82 1404.46h3.37v3.37h-3.37zM885.98 1404.46h3.37v3.37h-3.37zM892.72 1404.46h3.37v3.37h-3.37zM1360.97 1404.46h10.11v3.37h-10.11zM1398.03 1404.46h3.37v3.37h-3.37zM1421.61 1404.46h3.37v3.37h-3.37zM1441.83 1404.46h3.37v3.37h-3.37zM225.71 1407.83h3.37v3.37h-3.37zM626.59 1407.83h3.37v3.37h-3.37zM633.32 1407.83h3.37v3.37h-3.37zM643.43 1407.83h3.37v3.37h-3.37zM650.17 1407.83h30.32v3.37h-30.32zM687.23 1407.83h3.37v3.37h-3.37zM693.96 1407.83h3.37v3.37h-3.37zM700.70 1407.83h6.74v3.37h-6.74zM710.81 1407.83h26.95v3.37h-26.95zM741.12 1407.83h26.95v3.37h-26.95zM778.18 1407.83h16.84v3.37h-16.84zM805.13 1407.83h6.74v3.37h-6.74zM818.61 1407.83h3.37v3.37h-3.37zM1371.08 1407.83h6.74v3.37h-6.74zM1384.56 1407.83h3.37v3.37h-3.37zM1394.66 1407.83h10.11v3.37h-10.11zM1414.88 1407.83h37.06v3.37h-37.06zM1458.67 1407.83h3.37v3.37h-3.37zM225.71 1411.20h3.37v3.37h-3.37zM633.32 1411.20h10.11v3.37h-10.11zM646.80 1411.20h3.37v3.37h-3.37zM660.27 1411.20h30.32v3.37h-30.32zM693.96 1411.20h6.74v3.37h-6.74zM704.07 1411.20h3.37v3.37h-3.37zM710.81 1411.20h3.37v3.37h-3.37zM734.39 1411.20h3.37v3.37h-3.37zM744.49 1411.20h3.37v3.37h-3.37zM768.07 1411.20h10.11v3.37h-10.11zM788.29 1411.20h3.37v3.37h-3.37zM1371.08 1411.20h3.37v3.37h-3.37zM1377.82 1411.20h13.47v3.37h-13.47zM1394.66 1411.20h3.37v3.37h-3.37zM1401.40 1411.20h13.47v3.37h-13.47zM1418.24 1411.20h3.37v3.37h-3.37zM1438.46 1411.20h6.74v3.37h-6.74zM1451.93 1411.20h13.47v3.37h-13.47zM225.71 1414.57h3.37v3.37h-3.37zM660.27 1414.57h3.37v3.37h-3.37zM667.01 1414.57h3.37v3.37h-3.37zM683.86 1414.57h3.37v3.37h-3.37zM693.96 1414.57h3.37v3.37h-3.37zM704.07 1414.57h6.74v3.37h-6.74zM1377.82 1414.57h3.37v3.37h-3.37zM1387.92 1414.57h6.74v3.37h-6.74zM1451.93 1414.57h6.74v3.37h-6.74zM1462.04 1414.57h3.37v3.37h-3.37zM1472.14 1414.57h16.84v3.37h-16.84zM1495.72 1414.57h23.58v3.37h-23.58zM222.34 1417.93h3.37v3.37h-3.37zM1462.04 1417.93h13.47v3.37h-13.47zM1478.88 1417.93h3.37v3.37h-3.37zM1485.62 1417.93h3.37v3.37h-3.37zM1492.36 1417.93h10.11v3.37h-10.11zM1505.83 1417.93h3.37v3.37h-3.37zM1515.94 1417.93h3.37v3.37h-3.37zM1522.67 1417.93h13.47v3.37h-13.47zM1539.52 1417.93h6.74v3.37h-6.74zM222.34 1421.30h3.37v3.37h-3.37zM1488.99 1421.30h6.74v3.37h-6.74zM1499.09 1421.30h3.37v3.37h-3.37zM1519.31 1421.30h3.37v3.37h-3.37zM1532.78 1421.30h3.37v3.37h-3.37zM1539.52 1421.30h20.21v3.37h-20.21zM222.34 1424.67h3.37v3.37h-3.37zM1536.15 1424.67h3.37v3.37h-3.37zM1556.36 1424.67h33.69v3.37h-33.69zM1593.42 1424.67h3.37v3.37h-3.37zM218.97 1428.04h3.37v3.37h-3.37zM1586.68 1428.04h10.11v3.37h-10.11zM1600.16 1428.04h3.37v3.37h-3.37zM218.97 1431.41h3.37v3.37h-3.37zM1596.79 1431.41h3.37v3.37h-3.37zM1603.52 1431.41h6.74v3.37h-6.74zM1613.63 1431.41h10.11v3.37h-10.11zM1633.84 1431.41h13.47v3.37h-13.47zM218.97 1434.77h3.37v3.37h-3.37zM1610.26 1434.77h3.37v3.37h-3.37zM1623.74 1434.77h10.11v3.37h-10.11zM1647.32 1434.77h13.47v3.37h-13.47zM1681.01 1434.77h3.37v3.37h-3.37zM215.60 1438.14h3.37v3.37h-3.37zM1630.47 1438.14h3.37v3.37h-3.37zM1660.79 1438.14h6.74v3.37h-6.74zM1681.01 1438.14h6.74v3.37h-6.74zM1691.11 1438.14h6.74v3.37h-6.74zM1701.22 1438.14h3.37v3.37h-3.37zM1707.96 1438.14h10.11v3.37h-10.11zM1751.75 1438.14h3.37v3.37h-3.37zM215.60 1441.51h3.37v3.37h-3.37zM1667.53 1441.51h13.47v3.37h-13.47zM1687.74 1441.51h6.74v3.37h-6.74zM1697.85 1441.51h10.11v3.37h-10.11zM1718.06 1441.51h3.37v3.37h-3.37zM1734.91 1441.51h6.74v3.37h-6.74zM1751.75 1441.51h10.11v3.37h-10.11zM215.60 1444.88h3.37v3.37h-3.37zM1721.43 1444.88h13.47v3.37h-13.47zM1741.64 1444.88h10.11v3.37h-10.11zM1758.49 1444.88h10.11v3.37h-10.11zM1771.96 1444.88h6.74v3.37h-6.74zM1788.81 1444.88h3.37v3.37h-3.37zM212.23 1448.25h3.37v3.37h-3.37zM1765.22 1448.25h6.74v3.37h-6.74zM1778.70 1448.25h10.11v3.37h-10.11zM1792.17 1448.25h16.84v3.37h-16.84zM1812.39 1448.25h6.74v3.37h-6.74zM1825.86 1448.25h3.37v3.37h-3.37zM1835.97 1448.25h3.37v3.37h-3.37zM208.86 1451.61h3.37v3.37h-3.37zM1782.07 1451.61h3.37v3.37h-3.37zM1809.02 1451.61h3.37v3.37h-3.37zM1815.76 1451.61h53.90v3.37h-53.90zM1873.02 1451.61h3.37v3.37h-3.37zM1883.13 1451.61h3.37v3.37h-3.37zM1889.87 1451.61h3.37v3.37h-3.37zM205.49 1454.98h3.37v3.37h-3.37zM1819.12 1454.98h3.37v3.37h-3.37zM1866.29 1454.98h6.74v3.37h-6.74zM1876.39 1454.98h6.74v3.37h-6.74zM1886.50 1454.98h3.37v3.37h-3.37zM1893.24 1454.98h10.11v3.37h-10.11zM1906.71 1454.98h16.84v3.37h-16.84zM1926.92 1454.98h3.37v3.37h-3.37zM1933.66 1454.98h6.74v3.37h-6.74zM202.12 1458.35h3.37v3.37h-3.37zM1903.34 1458.35h3.37v3.37h-3.37zM1913.45 1458.35h3.37v3.37h-3.37zM1920.19 1458.35h6.74v3.37h-6.74zM1930.29 1458.35h3.37v3.37h-3.37zM1937.03 1458.35h6.74v3.37h-6.74zM1947.14 1458.35h13.47v3.37h-13.47zM1963.98 1458.35h6.74v3.37h-6.74zM195.39 1461.72h6.74v3.37h-6.74zM1943.77 1461.72h3.37v3.37h-3.37zM1960.61 1461.72h3.37v3.37h-3.37zM1970.72 1461.72h20.21v3.37h-20.21zM1994.30 1461.72h10.11v3.37h-10.11zM2011.14 1461.72h3.37v3.37h-3.37zM185.28 1465.09h10.11v3.37h-10.11zM1984.19 1465.09h3.37v3.37h-3.37zM1990.93 1465.09h3.37v3.37h-3.37zM2004.41 1465.09h6.74v3.37h-6.74zM2014.51 1465.09h30.32v3.37h-30.32zM2051.57 1465.09h3.37v3.37h-3.37zM2061.67 1465.09h3.37v3.37h-3.37zM175.17 1468.45h10.11v3.37h-10.11zM2044.83 1468.45h6.74v3.37h-6.74zM2054.94 1468.45h6.74v3.37h-6.74zM2065.04 1468.45h37.06v3.37h-37.06zM2105.47 1468.45h3.37v3.37h-3.37zM161.70 1471.82h13.47v3.37h-13.47zM2102.10 1471.82h23.58v3.37h-23.58zM144.86 1475.19h16.84v3.37h-16.84zM141.49 1478.56h3.37v3.37h-3.37zM193.45 1445.85h9.90v3.30h-9.90zM185.20 1449.15h26.40v3.30h-26.40zM181.90 1452.45h33.00v3.30h-33.00zM181.90 1455.75h33.00v3.30h-33.00zM181.90 1459.05h33.00v3.30h-33.00zM178.60 1462.35h39.60v3.30h-39.60zM181.90 1465.65h33.00v3.30h-33.00zM181.90 1468.95h33.00v3.30h-33.00zM181.90 1472.25h33.00v3.30h-33.00zM185.20 1475.55h26.40v3.30h-26.40zM193.45 1478.85h9.90v3.30h-9.90zM247.25 1292.35h9.90v3.30h-9.90zM239.00 1295.65h26.40v3.30h-26.40zM235.70 1298.95h33.00v3.30h-33.00zM235.70 1302.25h33.00v3.30h-33.00zM235.70 1305.55h33.00v3.30h-33.00zM232.40 1308.85h39.60v3.30h-39.60zM235.70 1312.15h33.00v3.30h-33.00zM235.70 1315.45h33.00v3.30h-33.00zM235.70 1318.75h33.00v3.30h-33.00zM239.00 1322.05h26.40v3.30h-26.40zM247.25 1325.35h9.90v3.30h-9.90zM301.05 597.55h9.90v3.30h-9.90zM292.80 600.85h26.40v3.30h-26.40zM289.50 604.15h33.00v3.30h-33.00zM289.50 607.45h33.00v3.30h-33.00zM289.50 610.75h33.00v3.30h-33.00zM286.20 614.05h39.60v3.30h-39.60zM289.50 617.35h33.00v3.30h-33.00zM289.50 620.65h33.00v3.30h-33.00zM289.50 623.95h33.00v3.30h-33.00zM292.80 627.25h26.40v3.30h-26.40zM301.05 630.55h9.90v3.30h-9.90zM354.85 466.85h9.90v3.30h-9.90zM346.60 470.15h26.40v3.30h-26.40zM343.30 473.45h33.00v3.30h-33.00zM343.30 476.75h33.00v3.30h-33.00zM343.30 480.05h33.00v3.30h-33.00zM340.00 483.35h39.60v3.30h-39.60zM343.30 486.65h33.00v3.30h-33.00zM343.30 489.95h33.00v3.30h-33.00zM343.30 493.25h33.00v3.30h-33.00zM346.60 496.55h26.40v3.30h-26.40zM354.85 499.85h9.90v3.30h-9.90zM408.65 893.65h9.90v3.30h-9.90zM400.40 896.95h26.40v3.30h-26.40zM397.10 900.25h33.00v3.30h-33.00zM397.10 903.55h33.00v3.30h-33.00zM397.10 906.85h33.00v3.30h-33.00zM393.80 910.15h39.60v3.30h-39.60zM397.10 913.45h33.00v3.30h-33.00zM397.10 916.75h33.00v3.30h-33.00zM397.10 920.05h33.00v3.30h-33.00zM400.40 923.35h26.40v3.30h-26.40zM408.65 926.65h9.90v3.30h-9.90zM462.45 1159.15h9.90v3.30h-9.90zM454.20 1162.45h26.40v3.30h-26.40zM450.90 1165.75h33.00v3.30h-33.00zM450.90 1169.05h33.00v3.30h-33.00zM450.90 1172.35h33.00v3.30h-33.00zM447.60 1175.65h39.60v3.30h-39.60zM450.90 1178.95h33.00v3.30h-33.00zM450.90 1182.25h33.00v3.30h-33.00zM450.90 1185.55h33.00v3.30h-33.00zM454.20 1188.85h26.40v3.30h-26.40zM462.45 1192.15h9.90v3.30h-9.90zM516.25 1298.15h9.90v3.30h-9.90zM508.00 1301.45h26.40v3.30h-26.40zM504.70 1304.75h33.00v3.30h-33.00zM504.70 1308.05h33.00v3.30h-33.00zM504.70 1311.35h33.00v3.30h-33.00zM501.40 1314.65h39.60v3.30h-39.60zM504.70 1317.95h33.00v3.30h-33.00zM504.70 1321.25h33.00v3.30h-33.00zM504.70 1324.55h33.00v3.30h-33.00zM508.00 1327.85h26.40v3.30h-26.40zM516.25 1331.15h9.90v3.30h-9.90zM570.05 1363.15h9.90v3.30h-9.90zM561.80 1366.45h26.40v3.30h-26.40zM558.50 1369.75h33.00v3.30h-33.00zM558.50 1373.05h33.00v3.30h-33.00zM558.50 1376.35h33.00v3.30h-33.00zM555.20 1379.65h39.60v3.30h-39.60zM558.50 1382.95h33.00v3.30h-33.00zM558.50 1386.25h33.00v3.30h-33.00zM558.50 1389.55h33.00v3.30h-33.00zM561.80 1392.85h26.40v3.30h-26.40zM570.05 1396.15h9.90v3.30h-9.90zM623.85 1390.55h9.90v3.30h-9.90zM615.60 1393.85h26.40v3.30h-26.40zM612.30 1397.15h33.00v3.30h-33.00zM612.30 1400.45h33.00v3.30h-33.00zM612.30 1403.75h33.00v3.30h-33.00zM609.00 1407.05h39.60v3.30h-39.60zM612.30 1410.35h33.00v3.30h-33.00zM612.30 1413.65h33.00v3.30h-33.00zM612.30 1416.95h33.00v3.30h-33.00zM615.60 1420.25h26.40v3.30h-26.40zM623.85 1423.55h9.90v3.30h-9.90zM677.65 1393.85h9.90v3.30h-9.90zM669.40 1397.15h26.40v3.30h-26.40zM666.10 1400.45h33.00v3.30h-33.00zM666.10 1403.75h33.00v3.30h-33.00zM666.10 1407.05h33.00v3.30h-33.00zM662.80 1410.35h39.60v3.30h-39.60zM666.10 1413.65h33.00v3.30h-33.00zM666.10 1416.95h33.00v3.30h-33.00zM666.10 1420.25h33.00v3.30h-33.00zM669.40 1423.55h26.40v3.30h-26.40zM677.65 1426.85h9.90v3.30h-9.90zM731.45 1390.55h9.90v3.30h-9.90zM723.20 1393.85h26.40v3.30h-26.40zM719.90 1397.15h33.00v3.30h-33.00zM719.90 1400.45h33.00v3.30h-33.00zM719.90 1403.75h33.00v3.30h-33.00zM716.60 1407.05h39.60v3.30h-39.60zM719.90 1410.35h33.00v3.30h-33.00zM719.90 1413.65h33.00v3.30h-33.00zM719.90 1416.95h33.00v3.30h-33.00zM723.20 1420.25h26.40v3.30h-26.40zM731.45 1423.55h9.90v3.30h-9.90zM785.25 1390.55h9.90v3.30h-9.90zM777.00 1393.85h26.40v3.30h-26.40zM773.70 1397.15h33.00v3.30h-33.00zM773.70 1400.45h33.00v3.30h-33.00zM773.70 1403.75h33.00v3.30h-33.00zM770.40 1407.05h39.60v3.30h-39.60zM773.70 1410.35h33.00v3.30h-33.00zM773.70 1413.65h33.00v3.30h-33.00zM773.70 1416.95h33.00v3.30h-33.00zM777.00 1420.25h26.40v3.30h-26.40zM785.25 1423.55h9.90v3.30h-9.90zM839.05 1383.95h9.90v3.30h-9.90zM830.80 1387.25h26.40v3.30h-26.40zM827.50 1390.55h33.00v3.30h-33.00zM827.50 1393.85h33.00v3.30h-33.00zM827.50 1397.15h33.00v3.30h-33.00zM824.20 1400.45h39.60v3.30h-39.60zM827.50 1403.75h33.00v3.30h-33.00zM827.50 1407.05h33.00v3.30h-33.00zM827.50 1410.35h33.00v3.30h-33.00zM830.80 1413.65h26.40v3.30h-26.40zM839.05 1416.95h9.90v3.30h-9.90zM892.85 1381.15h9.90v3.30h-9.90zM884.60 1384.45h26.40v3.30h-26.40zM881.30 1387.75h33.00v3.30h-33.00zM881.30 1391.05h33.00v3.30h-33.00zM881.30 1394.35h33.00v3.30h-33.00zM878.00 1397.65h39.60v3.30h-39.60zM881.30 1400.95h33.00v3.30h-33.00zM881.30 1404.25h33.00v3.30h-33.00zM881.30 1407.55h33.00v3.30h-33.00zM884.60 1410.85h26.40v3.30h-26.40zM892.85 1414.15h9.90v3.30h-9.90zM946.65 1374.65h9.90v3.30h-9.90zM938.40 1377.95h26.40v3.30h-26.40zM935.10 1381.25h33.00v3.30h-33.00zM935.10 1384.55h33.00v3.30h-33.00zM935.10 1387.85h33.00v3.30h-33.00zM931.80 1391.15h39.60v3.30h-39.60zM935.10 1394.45h33.00v3.30h-33.00zM935.10 1397.75h33.00v3.30h-33.00zM935.10 1401.05h33.00v3.30h-33.00zM938.40 1404.35h26.40v3.30h-26.40zM946.65 1407.65h9.90v3.30h-9.90zM1000.45 1374.65h9.90v3.30h-9.90zM992.20 1377.95h26.40v3.30h-26.40zM988.90 1381.25h33.00v3.30h-33.00zM988.90 1384.55h33.00v3.30h-33.00zM988.90 1387.85h33.00v3.30h-33.00zM985.60 1391.15h39.60v3.30h-39.60zM988.90 1394.45h33.00v3.30h-33.00zM988.90 1397.75h33.00v3.30h-33.00zM988.90 1401.05h33.00v3.30h-33.00zM992.20 1404.35h26.40v3.30h-26.40zM1000.45 1407.65h9.90v3.30h-9.90zM1054.25 1368.15h9.90v3.30h-9.90zM1046.00 1371.45h26.40v3.30h-26.40zM1042.70 1374.75h33.00v3.30h-33.00zM1042.70 1378.05h33.00v3.30h-33.00zM1042.70 1381.35h33.00v3.30h-33.00zM1039.40 1384.65h39.60v3.30h-39.60zM1042.70 1387.95h33.00v3.30h-33.00zM1042.70 1391.25h33.00v3.30h-33.00zM1042.70 1394.55h33.00v3.30h-33.00zM1046.00 1397.85h26.40v3.30h-26.40zM1054.25 1401.15h9.90v3.30h-9.90zM1108.05 1374.65h9.90v3.30h-9.90zM1099.80 1377.95h26.40v3.30h-26.40zM1096.50 1381.25h33.00v3.30h-33.00zM1096.50 1384.55h33.00v3.30h-33.00zM1096.50 1387.85h33.00v3.30h-33.00zM1093.20 1391.15h39.60v3.30h-39.60zM1096.50 1394.45h33.00v3.30h-33.00zM1096.50 1397.75h33.00v3.30h-33.00zM1096.50 1401.05h33.00v3.30h-33.00zM1099.80 1404.35h26.40v3.30h-26.40zM1108.05 1407.65h9.90v3.30h-9.90zM1161.85 1368.15h9.90v3.30h-9.90zM1153.60 1371.45h26.40v3.30h-26.40zM1150.30 1374.75h33.00v3.30h-33.00zM1150.30 1378.05h33.00v3.30h-33.00zM1150.30 1381.35h33.00v3.30h-33.00zM1147.00 1384.65h39.60v3.30h-39.60zM1150.30 1387.95h33.00v3.30h-33.00zM1150.30 1391.25h33.00v3.30h-33.00zM1150.30 1394.55h33.00v3.30h-33.00zM1153.60 1397.85h26.40v3.30h-26.40zM1161.85 1401.15h9.90v3.30h-9.90zM1215.65 1374.65h9.90v3.30h-9.90zM1207.40 1377.95h26.40v3.30h-26.40zM1204.10 1381.25h33.00v3.30h-33.00zM1204.10 1384.55h33.00v3.30h-33.00zM1204.10 1387.85h33.00v3.30h-33.00zM1200.80 1391.15h39.60v3.30h-39.60zM1204.10 1394.45h33.00v3.30h-33.00zM1204.10 1397.75h33.00v3.30h-33.00zM1204.10 1401.05h33.00v3.30h-33.00zM1207.40 1404.35h26.40v3.30h-26.40zM1215.65 1407.65h9.90v3.30h-9.90zM1269.45 1378.15h9.90v3.30h-9.90zM1261.20 1381.45h26.40v3.30h-26.40zM1257.90 1384.75h33.00v3.30h-33.00zM1257.90 1388.05h33.00v3.30h-33.00zM1257.90 1391.35h33.00v3.30h-33.00zM1254.60 1394.65h39.60v3.30h-39.60zM1257.90 1397.95h33.00v3.30h-33.00zM1257.90 1401.25h33.00v3.30h-33.00zM1257.90 1404.55h33.00v3.30h-33.00zM1261.20 1407.85h26.40v3.30h-26.40zM1269.45 1411.15h9.90v3.30h-9.90zM1323.25 1378.15h9.90v3.30h-9.90zM1315.00 1381.45h26.40v3.30h-26.40zM1311.70 1384.75h33.00v3.30h-33.00zM1311.70 1388.05h33.00v3.30h-33.00zM1311.70 1391.35h33.00v3.30h-33.00zM1308.40 1394.65h39.60v3.30h-39.60zM1311.70 1397.95h33.00v3.30h-33.00zM1311.70 1401.25h33.00v3.30h-33.00zM1311.70 1404.55h33.00v3.30h-33.00zM1315.00 1407.85h26.40v3.30h-26.40zM1323.25 1411.15h9.90v3.30h-9.90zM1377.05 1393.15h9.90v3.30h-9.90zM1368.80 1396.45h26.40v3.30h-26.40zM1365.50 1399.75h33.00v3.30h-33.00zM1365.50 1403.05h33.00v3.30h-33.00zM1365.50 1406.35h33.00v3.30h-33.00zM1362.20 1409.65h39.60v3.30h-39.60zM1365.50 1412.95h33.00v3.30h-33.00zM1365.50 1416.25h33.00v3.30h-33.00zM1365.50 1419.55h33.00v3.30h-33.00zM1368.80 1422.85h26.40v3.30h-26.40zM1377.05 1426.15h9.90v3.30h-9.90zM1430.85 1390.45h9.90v3.30h-9.90zM1422.60 1393.75h26.40v3.30h-26.40zM1419.30 1397.05h33.00v3.30h-33.00zM1419.30 1400.35h33.00v3.30h-33.00zM1419.30 1403.65h33.00v3.30h-33.00zM1416.00 1406.95h39.60v3.30h-39.60zM1419.30 1410.25h33.00v3.30h-33.00zM1419.30 1413.55h33.00v3.30h-33.00zM1419.30 1416.85h33.00v3.30h-33.00zM1422.60 1420.15h26.40v3.30h-26.40zM1430.85 1423.45h9.90v3.30h-9.90zM1484.65 1400.15h9.90v3.30h-9.90zM1476.40 1403.45h26.40v3.30h-26.40zM1473.10 1406.75h33.00v3.30h-33.00zM1473.10 1410.05h33.00v3.30h-33.00zM1473.10 1413.35h33.00v3.30h-33.00zM1469.80 1416.65h39.60v3.30h-39.60zM1473.10 1419.95h33.00v3.30h-33.00zM1473.10 1423.25h33.00v3.30h-33.00zM1473.10 1426.55h33.00v3.30h-33.00zM1476.40 1429.85h26.40v3.30h-26.40zM1484.65 1433.15h9.90v3.30h-9.90zM1538.45 1403.55h9.90v3.30h-9.90zM1530.20 1406.85h26.40v3.30h-26.40zM1526.90 1410.15h33.00v3.30h-33.00zM1526.90 1413.45h33.00v3.30h-33.00zM1526.90 1416.75h33.00v3.30h-33.00zM1523.60 1420.05h39.60v3.30h-39.60zM1526.90 1423.35h33.00v3.30h-33.00zM1526.90 1426.65h33.00v3.30h-33.00zM1526.90 1429.95h33.00v3.30h-33.00zM1530.20 1433.25h26.40v3.30h-26.40zM1538.45 1436.55h9.90v3.30h-9.90zM1592.25 1410.15h9.90v3.30h-9.90zM1584.00 1413.45h26.40v3.30h-26.40zM1580.70 1416.75h33.00v3.30h-33.00zM1580.70 1420.05h33.00v3.30h-33.00zM1580.70 1423.35h33.00v3.30h-33.00zM1577.40 1426.65h39.60v3.30h-39.60zM1580.70 1429.95h33.00v3.30h-33.00zM1580.70 1433.25h33.00v3.30h-33.00zM1580.70 1436.55h33.00v3.30h-33.00zM1584.00 1439.85h26.40v3.30h-26.40zM1592.25 1443.15h9.90v3.30h-9.90zM1646.05 1420.15h9.90v3.30h-9.90zM1637.80 1423.45h26.40v3.30h-26.40zM1634.50 1426.75h33.00v3.30h-33.00zM1634.50 1430.05h33.00v3.30h-33.00zM1634.50 1433.35h33.00v3.30h-33.00zM1631.20 1436.65h39.60v3.30h-39.60zM1634.50 1439.95h33.00v3.30h-33.00zM1634.50 1443.25h33.00v3.30h-33.00zM1634.50 1446.55h33.00v3.30h-33.00zM1637.80 1449.85h26.40v3.30h-26.40zM1646.05 1453.15h9.90v3.30h-9.90zM1699.85 1423.15h9.90v3.30h-9.90zM1691.60 1426.45h26.40v3.30h-26.40zM1688.30 1429.75h33.00v3.30h-33.00zM1688.30 1433.05h33.00v3.30h-33.00zM1688.30 1436.35h33.00v3.30h-33.00zM1685.00 1439.65h39.60v3.30h-39.60zM1688.30 1442.95h33.00v3.30h-33.00zM1688.30 1446.25h33.00v3.30h-33.00zM1688.30 1449.55h33.00v3.30h-33.00zM1691.60 1452.85h26.40v3.30h-26.40zM1699.85 1456.15h9.90v3.30h-9.90zM1753.65 1426.15h9.90v3.30h-9.90zM1745.40 1429.45h26.40v3.30h-26.40zM1742.10 1432.75h33.00v3.30h-33.00zM1742.10 1436.05h33.00v3.30h-33.00zM1742.10 1439.35h33.00v3.30h-33.00zM1738.80 1442.65h39.60v3.30h-39.60zM1742.10 1445.95h33.00v3.30h-33.00zM1742.10 1449.25h33.00v3.30h-33.00zM1742.10 1452.55h33.00v3.30h-33.00zM1745.40 1455.85h26.40v3.30h-26.40zM1753.65 1459.15h9.90v3.30h-9.90zM1807.45 1433.15h9.90v3.30h-9.90zM1799.20 1436.45h26.40v3.30h-26.40zM1795.90 1439.75h33.00v3.30h-33.00zM1795.90 1443.05h33.00v3.30h-33.00zM1795.90 1446.35h33.00v3.30h-33.00zM1792.60 1449.65h39.60v3.30h-39.60zM1795.90 1452.95h33.00v3.30h-33.00zM1795.90 1456.25h33.00v3.30h-33.00zM1795.90 1459.55h33.00v3.30h-33.00zM1799.20 1462.85h26.40v3.30h-26.40zM1807.45 1466.15h9.90v3.30h-9.90zM1861.25 1436.15h9.90v3.30h-9.90zM1853.00 1439.45h26.40v3.30h-26.40zM1849.70 1442.75h33.00v3.30h-33.00zM1849.70 1446.05h33.00v3.30h-33.00zM1849.70 1449.35h33.00v3.30h-33.00zM1846.40 1452.65h39.60v3.30h-39.60zM1849.70 1455.95h33.00v3.30h-33.00zM1849.70 1459.25h33.00v3.30h-33.00zM1849.70 1462.55h33.00v3.30h-33.00zM1853.00 1465.85h26.40v3.30h-26.40zM1861.25 1469.15h9.90v3.30h-9.90zM1915.05 1439.15h9.90v3.30h-9.90zM1906.80 1442.45h26.40v3.30h-26.40zM1903.50 1445.75h33.00v3.30h-33.00zM1903.50 1449.05h33.00v3.30h-33.00zM1903.50 1452.35h33.00v3.30h-33.00zM1900.20 1455.65h39.60v3.30h-39.60zM1903.50 1458.95h33.00v3.30h-33.00zM1903.50 1462.25h33.00v3.30h-33.00zM1903.50 1465.55h33.00v3.30h-33.00zM1906.80 1468.85h26.40v3.30h-26.40zM1915.05 1472.15h9.90v3.30h-9.90zM1968.85 1443.15h9.90v3.30h-9.90zM1960.60 1446.45h26.40v3.30h-26.40zM1957.30 1449.75h33.00v3.30h-33.00zM1957.30 1453.05h33.00v3.30h-33.00zM1957.30 1456.35h33.00v3.30h-33.00zM1954.00 1459.65h39.60v3.30h-39.60zM1957.30 1462.95h33.00v3.30h-33.00zM1957.30 1466.25h33.00v3.30h-33.00zM1957.30 1469.55h33.00v3.30h-33.00zM1960.60 1472.85h26.40v3.30h-26.40zM1968.85 1476.15h9.90v3.30h-9.90zM2022.65 1448.15h9.90v3.30h-9.90zM2014.40 1451.45h26.40v3.30h-26.40zM2011.10 1454.75h33.00v3.30h-33.00zM2011.10 1458.05h33.00v3.30h-33.00zM2011.10 1461.35h33.00v3.30h-33.00zM2007.80 1464.65h39.60v3.30h-39.60zM2011.10 1467.95h33.00v3.30h-33.00zM2011.10 1471.25h33.00v3.30h-33.00zM2011.10 1474.55h33.00v3.30h-33.00zM2014.40 1477.85h26.40v3.30h-26.40zM2022.65 1481.15h9.90v3.30h-9.90zM2076.45 1451.15h9.90v3.30h-9.90zM2068.20 1454.45h26.40v3.30h-26.40zM2064.90 1457.75h33.00v3.30h-33.00zM2064.90 1461.05h33.00v3.30h-33.00zM2064.90 1464.35h33.00v3.30h-33.00zM2061.60 1467.65h39.60v3.30h-39.60zM2064.90 1470.95h33.00v3.30h-33.00zM2064.90 1474.25h33.00v3.30h-33.00zM2064.90 1477.55h33.00v3.30h-33.00zM2068.20 1480.85h26.40v3.30h-26.40zM2076.45 1484.15h9.90v3.30h-9.90z"/>
<path fill="#0000ff" d="M336.88 545.62h3.37v3.37h-3.37zM336.88 548.99h3.37v3.37h-3.37zM336.88 552.35h3.37v3.37h-3.37zM336.88 555.72h3.37v3.37h-3.37zM333.51 559.09h10.11v3.37h-10.11zM330.14 562.46h13.47v3.37h-13.47zM330.14 565.83h13.47v3.37h-13.47zM330.14 569.19h16.84v3.37h-16.84zM330.14 572.56h16.84v3.37h-16.84zM330.14 575.93h3.37v3.37h-3.37zM336.88 575.93h13.47v3.37h-13.47zM330.14 579.30h3.37v3.37h-3.37zM336.88 579.30h13.47v3.37h-13.47zM326.77 582.67h6.74v3.37h-6.74zM340.24 582.67h10.11v3.37h-10.11zM323.40 586.03h10.11v3.37h-10.11zM340.24 586.03h10.11v3.37h-10.11zM323.40 589.40h10.11v3.37h-10.11zM340.24 589.40h10.11v3.37h-10.11zM323.40 592.77h10.11v3.37h-10.11zM343.61 592.77h6.74v3.37h-6.74zM323.40 596.14h3.37v3.37h-3.37zM346.98 596.14h6.74v3.37h-6.74zM323.40 599.51h3.37v3.37h-3.37zM346.98 599.51h6.74v3.37h-6.74zM320.03 602.87h3.37v3.37h-3.37zM346.98 602.87h6.74v3.37h-6.74zM320.03 606.24h3.37v3.37h-3.37zM350.35 606.24h3.37v3.37h-3.37zM320.03 609.61h3.37v3.37h-3.37zM350.35 609.61h3.37v3.37h-3.37zM320.03 612.98h3.37v3.37h-3.37zM350.35 612.98h3.37v3.37h-3.37zM320.03 616.35h3.37v3.37h-3.37zM353.72 616.35h3.37v3.37h-3.37zM320.03 619.71h3.37v3.37h-3.37zM353.72 619.71h3.37v3.37h-3.37zM320.03 623.08h3.37v3.37h-3.37zM353.72 623.08h3.37v3.37h-3.37zM320.03 626.45h3.37v3.37h-3.37zM357.09 626.45h3.37v3.37h-3.37zM320.03 629.82h3.37v3.37h-3.37zM357.09 629.82h3.37v3.37h-3.37zM316.66 633.19h3.37v3.37h-3.37zM357.09 633.19h3.37v3.37h-3.37zM316.66 636.55h3.37v3.37h-3.37zM360.46 636.55h3.37v3.37h-3.37zM316.66 639.92h3.37v3.37h-3.37zM360.46 639.92h3.37v3.37h-3.37zM316.66 643.29h3.37v3.37h-3.37zM360.46 643.29h3.37v3.37h-3.37zM316.66 646.66h3.37v3.37h-3.37zM360.46 646.66h3.37v3.37h-3.37zM316.66 650.03h3.37v3.37h-3.37zM360.46 650.03h3.37v3.37h-3.37zM316.66 653.39h3.37v3.37h-3.37zM363.82 653.39h3.37v3.37h-3.37zM313.29 656.76h3.37v3.37h-3.37zM363.82 656.76h3.37v3.37h-3.37zM313.29 660.13h3.37v3.37h-3.37zM363.82 660.13h3.37v3.37h-3.37zM313.29 663.50h3.37v3.37h-3.37zM363.82 663.50h3.37v3.37h-3.37zM313.29 666.87h3.37v3.37h-3.37zM363.82 666.87h3.37v3.37h-3.37zM313.29 670.24h3.37v3.37h-3.37zM363.82 670.24h3.37v3.37h-3.37zM313.29 673.60h3.37v3.37h-3.37zM363.82 673.60h3.37v3.37h-3.37zM313.29 676.97h3.37v3.37h-3.37zM363.82 676.97h3.37v3.37h-3.37zM313.29 680.34h3.37v3.37h-3.37zM363.82 680.34h3.37v3.37h-3.37zM309.93 683.71h3.37v3.37h-3.37zM363.82 683.71h3.37v3.37h-3.37zM309.93 687.08h3.37v3.37h-3.37zM363.82 687.08h3.37v3.37h-3.37zM309.93 690.44h3.37v3.37h-3.37zM367.19 690.44h3.37v3.37h-3.37zM309.93 693.81h3.37v3.37h-3.37zM367.19 693.81h3.37v3.37h-3.37zM309.93 697.18h3.37v3.37h-3.37zM367.19 697.18h3.37v3.37h-3.37zM309.93 700.55h3.37v3.37h-3.37zM367.19 700.55h3.37v3.37h-3.37zM309.93 703.92h3.37v3.37h-3.37zM370.56 703.92h3.37v3.37h-3.37zM309.93 707.28h3.37v3.37h-3.37zM370.56 707.28h3.37v3.37h-3.37zM309.93 710.65h3.37v3.37h-3.37zM370.56 710.65h3.37v3.37h-3.37zM309.93 714.02h3.37v3.37h-3.37zM370.56 714.02h3.37v3.37h-3.37zM309.93 717.39h3.37v3.37h-3.37zM370.56 717.39h3.37v3.37h-3.37zM309.93 720.76h3.37v3.37h-3.37zM370.56 720.76h3.37v3.37h-3.37zM306.56 724.12h3.37v3.37h-3.37zM370.56 724.12h3.37v3.37h-3.37zM306.56 727.49h3.37v3.37h-3.37zM373.93 727.49h3.37v3.37h-3.37zM306.56 730.86h3.37v3.37h-3.37zM373.93 730.86h3.37v3.37h-3.37zM306.56 734.23h3.37v3.37h-3.37zM373.93 734.23h3.37v3.37h-3.37zM306.56 737.60h3.37v3.37h-3.37zM373.93 737.60h3.37v3.37h-3.37zM306.56 740.96h3.37v3.37h-3.37zM373.93 740.96h3.37v3.37h-3.37zM306.56 744.33h3.37v3.37h-3.37zM373.93 744.33h3.37v3.37h-3.37zM306.56 747.70h3.37v3.37h-3.37zM377.30 747.70h3.37v3.37h-3.37zM306.56 751.07h3.37v3.37h-3.37zM377.30 751.07h3.37v3.37h-3.37zM306.56 754.44h3.37v3.37h-3.37zM377.30 754.44h3.37v3.37h-3.37zM306.56 757.80h3.37v3.37h-3.37zM377.30 757.80h3.37v3.37h-3.37zM306.56 761.17h3.37v3.37h-3.37zM377.30 761.17h3.37v3.37h-3.37zM303.19 764.54h3.37v3.37h-3.37zM377.30 764.54h3.37v3.37h-3.37zM303.19 767.91h3.37v3.37h-3.37zM377.30 767.91h3.37v3.37h-3.37zM303.19 771.28h3.37v3.37h-3.37zM380.67 771.28h3.37v3.37h-3.37zM303.19 774.64h3.37v3.37h-3.37zM380.67 774.64h3.37v3.37h-3.37zM303.19 778.01h3.37v3.37h-3.37zM380.67 778.01h3.37v3.37h-3.37zM303.19 781.38h3.37v3.37h-3.37zM380.67 781.38h3.37v3.37h-3.37zM303.19 784.75h3.37v3.37h-3.37zM380.67 784.75h3.37v3.37h-3.37zM303.19 788.12h3.37v3.37h-3.37zM380.67 788.12h3.37v3.37h-3.37zM303.19 791.48h3.37v3.37h-3.37zM384.04 791.48h3.37v3.37h-3.37zM303.19 794.85h3.37v3.37h-3.37zM384.04 794.85h3.37v3.37h-3.37zM299.82 798.22h3.37v3.37h-3.37zM384.04 798.22h3.37v3.37h-3.37zM299.82 801.59h3.37v3.37h-3.37zM384.04 801.59h3.37v3.37h-3.37zM299.82 804.96h3.37v3.37h-3.37zM384.04 804.96h3.37v3.37h-3.37zM299.82 808.32h3.37v3.37h-3.37zM387.41 808.32h3.37v3.37h-3.37zM299.82 811.69h3.37v3.37h-3.37zM387.41 811.69h3.37v3.37h-3.37zM299.82 815.06h3.37v3.37h-3.37zM387.41 815.06h3.37v3.37h-3.37zM299.82 818.43h3.37v3.37h-3.37zM387.41 818.43h3.37v3.37h-3.37zM299.82 821.80h3.37v3.37h-3.37zM387.41 821.80h3.37v3.37h-3.37zM299.82 825.16h3.37v3.37h-3.37zM387.41 825.16h3.37v3.37h-3.37zM299.82 828.53h3.37v3.37h-3.37zM390.77 828.53h3.37v3.37h-3.37zM299.82 831.90h3.37v3.37h-3.37zM390.77 831.90h3.37v3.37h-3.37zM299.82 835.27h3.37v3.37h-3.37zM390.77 835.27h3.37v3.37h-3.37zM299.82 838.64h3.37v3.37h-3.37zM390.77 838.64h3.37v3.37h-3.37zM299.82 842.00h3.37v3.37h-3.37zM390.77 842.00h3.37v3.37h-3.37zM296.45 845.37h3.37v3.37h-3.37zM390.77 845.37h3.37v3.37h-3.37zM296.45 848.74h3.37v3.37h-3.37zM390.77 848.74h6.74v3.37h-6.74zM296.45 852.11h3.37v3.37h-3.37zM394.14 852.11h3.37v3.37h-3.37zM296.45 855.48h3.37v3.37h-3.37zM394.14 855.48h3.37v3.37h-3.37zM296.45 858.84h3.37v3.37h-3.37zM394.14 858.84h3.37v3.37h-3.37zM296.45 862.21h3.37v3.37h-3.37zM394.14 862.21h3.37v3.37h-3.37zM296.45 865.58h3.37v3.37h-3.37zM394.14 865.58h3.37v3.37h-3.37zM296.45 868.95h3.37v3.37h-3.37zM397.51 868.95h3.37v3.37h-3.37zM296.45 872.32h3.37v3.37h-3.37zM397.51 872.32h3.37v3.37h-3.37zM296.45 875.68h3.37v3.37h-3.37zM397.51 875.68h3.37v3.37h-3.37zM296.45 879.05h3.37v3.37h-3.37zM397.51 879.05h3.37v3.37h-3.37zM296.45 882.42h3.37v3.37h-3.37zM397.51 882.42h3.37v3.37h-3.37zM296.45 885.79h3.37v3.37h-3.37zM397.51 885.79h3.37v3.37h-3.37zM296.45 889.16h3.37v3.37h-3.37zM397.51 889.16h3.37v3.37h-3.37zM296.45 892.52h3.37v3.37h-3.37zM397.51 892.52h3.37v3.37h-3.37zM296.45 895.89h3.37v3.37h-3.37zM400.88 895.89h3.37v3.37h-3.37zM296.45 899.26h3.37v3.37h-3.37zM400.88 899.26h3.37v3.37h-3.37zM296.45 902.63h3.37v3.37h-3.37zM400.88 902.63h3.37v3.37h-3.37zM296.45 906.00h3.37v3.37h-3.37zM400.88 906.00h3.37v3.37h-3.37zM296.45 909.36h3.37v3.37h-3.37zM400.88 909.36h3.37v3.37h-3.37zM296.45 912.73h3.37v3.37h-3.37zM400.88 912.73h3.37v3.37h-3.37zM296.45 916.10h3.37v3.37h-3.37zM400.88 916.10h3.37v3.37h-3.37zM293.08 919.47h3.37v3.37h-3.37zM400.88 919.47h3.37v3.37h-3.37zM293.08 922.84h3.37v3.37h-3.37zM400.88 922.84h3.37v3.37h-3.37zM293.08 926.20h3.37v3.37h-3.37zM400.88 926.20h3.37v3.37h-3.37zM293.08 929.57h3.37v3.37h-3.37zM404.25 929.57h3.37v3.37h-3.37zM293.08 932.94h3.37v3.37h-3.37zM404.25 932.94h3.37v3.37h-3.37zM293.08 936.31h3.37v3.37h-3.37zM404.25 936.31h3.37v3.37h-3.37zM293.08 939.68h3.37v3.37h-3.37zM404.25 939.68h3.37v3.37h-3.37zM293.08 943.04h3.37v3.37h-3.37zM407.62 943.04h3.37v3.37h-3.37zM293.08 946.41h3.37v3.37h-3.37zM407.62 946.41h3.37v3.37h-3.37zM293.08 949.78h3.37v3.37h-3.37zM407.62 949.78h3.37v3.37h-3.37zM293.08 953.15h3.37v3.37h-3.37zM407.62 953.15h3.37v3.37h-3.37zM289.71 956.52h3.37v3.37h-3.37zM410.99 956.52h3.37v3.37h-3.37zM289.71 959.88h3.37v3.37h-3.37zM410.99 959.88h3.37v3.37h-3.37zM289.71 963.25h3.37v3.37h-3.37zM410.99 963.25h3.37v3.37h-3.37zM289.71 966.62h3.37v3.37h-3.37zM410.99 966.62h3.37v3.37h-3.37zM289.71 969.99h3.37v3.37h-3.37zM414.36 969.99h3.37v3.37h-3.37zM289.71 973.36h3.37v3.37h-3.37zM414.36 973.36h3.37v3.37h-3.37zM286.34 976.72h3.37v3.37h-3.37zM414.36 976.72h3.37v3.37h-3.37zM286.34 980.09h3.37v3.37h-3.37zM414.36 980.09h3.37v3.37h-3.37zM286.34 983.46h3.37v3.37h-3.37zM417.72 983.46h3.37v3.37h-3.37zM286.34 986.83h3.37v3.37h-3.37zM417.72 986.83h3.37v3.37h-3.37zM286.34 990.20h3.37v3.37h-3.37zM417.72 990.20h3.37v3.37h-3.37zM286.34 993.56h3.37v3.37h-3.37zM417.72 993.56h3.37v3.37h-3.37zM286.34 996.93h3.37v3.37h-3.37zM421.09 996.93h3.37v3.37h-3.37zM286.34 1000.30h3.37v3.37h-3.37zM421.09 1000.30h3.37v3.37h-3.37zM286.34 1003.67h3.37v3.37h-3.37zM421.09 1003.67h3.37v3.37h-3.37zM286.34 1007.04h3.37v3.37h-3.37zM421.09 1007.04h3.37v3.37h-3.37zM286.34 1010.40h3.37v3.37h-3.37zM421.09 1010.40h3.37v3.37h-3.37zM286.34 1013.77h3.37v3.37h-3.37zM424.46 1013.77h3.37v3.37h-3.37zM286.34 1017.14h3.37v3.37h-3.37zM424.46 1017.14h3.37v3.37h-3.37zM282.97 1020.51h3.37v3.37h-3.37zM424.46 1020.51h3.37v3.37h-3.37zM282.97 1023.88h3.37v3.37h-3.37zM424.46 1023.88h3.37v3.37h-3.37zM282.97 1027.24h3.37v3.37h-3.37zM424.46 1027.24h3.37v3.37h-3.37zM282.97 1030.61h3.37v3.37h-3.37zM427.83 1030.61h3.37v3.37h-3.37zM282.97 1033.98h3.37v3.37h-3.37zM427.83 1033.98h3.37v3.37h-3.37zM282.97 1037.35h3.37v3.37h-3.37zM427.83 1037.35h3.37v3.37h-3.37zM282.97 1040.72h3.37v3.37h-3.37zM427.83 1040.72h3.37v3.37h-3.37zM282.97 1044.08h3.37v3.37h-3.37zM431.20 1044.08h3.37v3.37h-3.37zM282.97 1047.45h3.37v3.37h-3.37zM431.20 1047.45h3.37v3.37h-3.37zM282.97 1050.82h3.37v3.37h-3.37zM431.20 1050.82h3.37v3.37h-3.37zM282.97 1054.19h3.37v3.37h-3.37zM431.20 1054.19h3.37v3.37h-3.37zM282.97 1057.56h3.37v3.37h-3.37zM431.20 1057.56h3.37v3.37h-3.37zM282.97 1060.92h3.37v3.37h-3.37zM434.57 1060.92h3.37v3.37h-3.37zM282.97 1064.29h3.37v3.37h-3.37zM434.57 1064.29h3.37v3.37h-3.37zM282.97 1067.66h3.37v3.37h-3.37zM434.57 1067.66h3.37v3.37h-3.37zM282.97 1071.03h3.37v3.37h-3.37zM434.57 1071.03h3.37v3.37h-3.37zM279.61 1074.40h3.37v3.37h-3.37zM434.57 1074.40h3.37v3.37h-3.37zM279.61 1077.76h3.37v3.37h-3.37zM434.57 1077.76h3.37v3.37h-3.37zM279.61 1081.13h3.37v3.37h-3.37zM437.94 1081.13h3.37v3.37h-3.37zM279.61 1084.50h3.37v3.37h-3.37zM437.94 1084.50h3.37v3.37h-3.37zM279.61 1087.87h3.37v3.37h-3.37zM437.94 1087.87h3.37v3.37h-3.37zM279.61 1091.24h3.37v3.37h-3.37zM437.94 1091.24h3.37v3.37h-3.37zM279.61 1094.61h3.37v3.37h-3.37zM437.94 1094.61h3.37v3.37h-3.37zM279.61 1097.97h3.37v3.37h-3.37zM437.94 1097.97h3.37v3.37h-3.37zM279.61 1101.34h3.37v3.37h-3.37zM437.94 1101.34h3.37v3.37h-3.37zM279.61 1104.71h3.37v3.37h-3.37zM441.31 1104.71h3.37v3.37h-3.37zM279.61 1108.08h3.37v3.37h-3.37zM441.31 1108.08h3.37v3.37h-3.37zM279.61 1111.45h3.37v3.37h-3.37zM441.31 1111.45h3.37v3.37h-3.37zM279.61 1114.81h3.37v3.37h-3.37zM444.68 1114.81h3.37v3.37h-3.37zM276.24 1118.18h3.37v3.37h-3.37zM444.68 1118.18h3.37v3.37h-3.37zM276.24 1121.55h3.37v3.37h-3.37zM448.04 1121.55h3.37v3.37h-3.37zM276.24 1124.92h3.37v3.37h-3.37zM448.04 1124.92h3.37v3.37h-3.37zM276.24 1128.29h3.37v3.37h-3.37zM448.04 1128.29h3.37v3.37h-3.37zM276.24 1131.65h3.37v3.37h-3.37zM451.41 1131.65h3.37v3.37h-3.37zM276.24 1135.02h3.37v3.37h-3.37zM451.41 1135.02h3.37v3.37h-3.37zM276.24 1138.39h3.37v3.37h-3.37zM454.78 1138.39h3.37v3.37h-3.37zM276.24 1141.76h3.37v3.37h-3.37zM454.78 1141.76h3.37v3.37h-3.37zM272.87 1145.13h3.37v3.37h-3.37zM454.78 1145.13h3.37v3.37h-3.37zM272.87 1148.49h3.37v3.37h-3.37zM458.15 1148.49h3.37v3.37h-3.37zM272.87 1151.86h3.37v3.37h-3.37zM458.15 1151.86h3.37v3.37h-3.37zM272.87 1155.23h3.37v3.37h-3.37zM461.52 1155.23h3.37v3.37h-3.37zM272.87 1158.60h3.37v3.37h-3.37zM461.52 1158.60h3.37v3.37h-3.37zM272.87 1161.97h3.37v3.37h-3.37zM461.52 1161.97h3.37v3.37h-3.37zM272.87 1165.33h3.37v3.37h-3.37zM461.52 1165.33h3.37v3.37h-3.37zM272.87 1168.70h3.37v3.37h-3.37zM461.52 1168.70h3.37v3.37h-3.37zM272.87 1172.07h3.37v3.37h-3.37zM464.89 1172.07h3.37v3.37h-3.37zM272.87 1175.44h3.37v3.37h-3.37zM464.89 1175.44h3.37v3.37h-3.37zM272.87 1178.81h3.37v3.37h-3.37zM464.89 1178.81h3.37v3.37h-3.37zM272.87 1182.17h3.37v3.37h-3.37zM464.89 1182.17h3.37v3.37h-3.37zM272.87 1185.54h3.37v3.37h-3.37zM468.26 1185.54h3.37v3.37h-3.37zM272.87 1188.91h3.37v3.37h-3.37zM468.26 1188.91h3.37v3.37h-3.37zM269.50 1192.28h3.37v3.37h-3.37zM468.26 1192.28h3.37v3.37h-3.37zM269.50 1195.65h3.37v3.37h-3.37zM471.62 1195.65h3.37v3.37h-3.37zM269.50 1199.01h3.37v3.37h-3.37zM471.62 1199.01h3.37v3.37h-3.37zM269.50 1202.38h3.37v3.37h-3.37zM471.62 1202.38h3.37v3.37h-3.37zM269.50 1205.75h3.37v3.37h-3.37zM474.99 1205.75h3.37v3.37h-3.37zM269.50 1209.12h3.37v3.37h-3.37zM474.99 1209.12h3.37v3.37h-3.37zM269.50 1212.49h3.37v3.37h-3.37zM474.99 1212.49h3.37v3.37h-3.37zM269.50 1215.85h3.37v3.37h-3.37zM478.36 1215.85h3.37v3.37h-3.37zM269.50 1219.22h3.37v3.37h-3.37zM478.36 1219.22h3.37v3.37h-3.37zM266.13 1222.59h3.37v3.37h-3.37zM481.73 1222.59h3.37v3.37h-3.37zM266.13 1225.96h3.37v3.37h-3.37zM481.73 1225.96h3.37v3.37h-3.37zM266.13 1229.33h3.37v3.37h-3.37zM481.73 1229.33h3.37v3.37h-3.37zM266.13 1232.69h3.37v3.37h-3.37zM485.10 1232.69h3.37v3.37h-3.37zM266.13 1236.06h3.37v3.37h-3.37zM485.10 1236.06h3.37v3.37h-3.37zM266.13 1239.43h3.37v3.37h-3.37zM488.47 1239.43h3.37v3.37h-3.37zM266.13 1242.80h3.37v3.37h-3.37zM488.47 1242.80h3.37v3.37h-3.37zM262.76 1246.17h3.37v3.37h-3.37zM491.84 1246.17h3.37v3.37h-3.37zM262.76 1249.53h3.37v3.37h-3.37zM491.84 1249.53h3.37v3.37h-3.37zM262.76 1252.90h3.37v3.37h-3.37zM495.21 1252.90h3.37v3.37h-3.37zM262.76 1256.27h3.37v3.37h-3.37zM495.21 1256.27h3.37v3.37h-3.37zM262.76 1259.64h3.37v3.37h-3.37zM498.57 1259.64h3.37v3.37h-3.37zM259.39 1263.01h3.37v3.37h-3.37zM498.57 1263.01h3.37v3.37h-3.37zM259.39 1266.37h3.37v3.37h-3.37zM501.94 1266.37h3.37v3.37h-3.37zM259.39 1269.74h3.37v3.37h-3.37zM501.94 1269.74h3.37v3.37h-3.37zM259.39 1273.11h3.37v3.37h-3.37zM505.31 1273.11h3.37v3.37h-3.37zM259.39 1276.48h3.37v3.37h-3.37zM505.31 1276.48h3.37v3.37h-3.37zM259.39 1279.85h3.37v3.37h-3.37zM508.68 1279.85h3.37v3.37h-3.37zM259.39 1283.21h3.37v3.37h-3.37zM508.68 1283.21h3.37v3.37h-3.37zM256.02 1286.58h3.37v3.37h-3.37zM512.05 1286.58h3.37v3.37h-3.37zM256.02 1289.95h3.37v3.37h-3.37zM512.05 1289.95h3.37v3.37h-3.37zM256.02 1293.32h3.37v3.37h-3.37zM515.42 1293.32h3.37v3.37h-3.37zM256.02 1296.69h3.37v3.37h-3.37zM515.42 1296.69h3.37v3.37h-3.37zM256.02 1300.05h3.37v3.37h-3.37zM518.79 1300.05h3.37v3.37h-3.37zM256.02 1303.42h3.37v3.37h-3.37zM518.79 1303.42h6.74v3.37h-6.74zM256.02 1306.79h3.37v3.37h-3.37zM525.52 1306.79h6.74v3.37h-6.74zM256.02 1310.16h3.37v3.37h-3.37zM532.26 1310.16h6.74v3.37h-6.74zM252.66 1313.53h3.37v3.37h-3.37zM539.00 1313.53h3.37v3.37h-3.37zM252.66 1316.89h3.37v3.37h-3.37zM542.37 1316.89h3.37v3.37h-3.37zM252.66 1320.26h3.37v3.37h-3.37zM545.74 1320.26h3.37v3.37h-3.37zM252.66 1323.63h3.37v3.37h-3.37zM549.11 1323.63h3.37v3.37h-3.37zM252.66 1327.00h3.37v3.37h-3.37zM549.11 1327.00h3.37v3.37h-3.37zM252.66 1330.37h3.37v3.37h-3.37zM552.48 1330.37h3.37v3.37h-3.37zM252.66 1333.73h3.37v3.37h-3.37zM555.84 1333.73h3.37v3.37h-3.37zM252.66 1337.10h3.37v3.37h-3.37zM559.21 1337.10h3.37v3.37h-3.37zM252.66 1340.47h3.37v3.37h-3.37zM562.58 1340.47h3.37v3.37h-3.37zM249.29 1343.84h3.37v3.37h-3.37zM565.95 1343.84h3.37v3.37h-3.37zM249.29 1347.21h3.37v3.37h-3.37zM569.32 1347.21h3.37v3.37h-3.37zM249.29 1350.57h3.37v3.37h-3.37zM572.69 1350.57h3.37v3.37h-3.37zM249.29 1353.94h3.37v3.37h-3.37zM576.06 1353.94h3.37v3.37h-3.37zM245.92 1357.31h3.37v3.37h-3.37zM579.42 1357.31h3.37v3.37h-3.37zM245.92 1360.68h3.37v3.37h-3.37zM582.79 1360.68h3.37v3.37h-3.37zM242.55 1364.05h3.37v3.37h-3.37zM586.16 1364.05h3.37v3.37h-3.37zM953.36 1364.05h6.74v3.37h-6.74zM963.46 1364.05h3.37v3.37h-3.37zM976.94 1364.05h3.37v3.37h-3.37zM990.41 1364.05h3.37v3.37h-3.37zM1017.36 1364.05h3.37v3.37h-3.37zM1064.52 1364.05h3.37v3.37h-3.37zM1071.26 1364.05h3.37v3.37h-3.37zM1081.37 1364.05h3.37v3.37h-3.37zM1118.42 1364.05h3.37v3.37h-3.37zM1135.27 1364.05h6.74v3.37h-6.74zM1155.48 1364.05h3.37v3.37h-3.37zM1162.22 1364.05h3.37v3.37h-3.37zM1179.06 1364.05h6.74v3.37h-6.74zM1192.54 1364.05h3.37v3.37h-3.37zM1209.38 1364.05h3.37v3.37h-3.37zM242.55 1367.41h3.37v3.37h-3.37zM589.53 1367.41h3.37v3.37h-3.37zM929.77 1367.41h3.37v3.37h-3.37zM943.25 1367.41h3.37v3.37h-3.37zM949.99 1367.41h3.37v3.37h-3.37zM956.73 1367.41h3.37v3.37h-3.37zM963.46 1367.41h10.11v3.37h-10.11zM976.94 1367.41h10.11v3.37h-10.11zM990.41 1367.41h6.74v3.37h-6.74zM1013.99 1367.41h3.37v3.37h-3.37zM1020.73 1367.41h3.37v3.37h-3.37zM1030.84 1367.41h3.37v3.37h-3.37zM1040.94 1367.41h3.37v3.37h-3.37zM1047.68 1367.41h30.32v3.37h-30.32zM1081.37 1367.41h13.47v3.37h-13.47zM1101.58 1367.41h33.69v3.37h-33.69zM1138.64 1367.41h6.74v3.37h-6.74zM1152.11 1367.41h13.47v3.37h-13.47zM1168.96 1367.41h3.37v3.37h-3.37zM1175.69 1367.41h3.37v3.37h-3.37zM1185.80 1367.41h6.74v3.37h-6.74zM1195.91 1367.41h16.84v3.37h-16.84zM1222.86 1367.41h3.37v3.37h-3.37zM242.55 1370.78h3.37v3.37h-3.37zM589.53 1370.78h6.74v3.37h-6.74zM923.04 1370.78h10.11v3.37h-10.11zM939.88 1370.78h3.37v3.37h-3.37zM946.62 1370.78h3.37v3.37h-3.37zM960.09 1370.78h6.74v3.37h-6.74zM973.57 1370.78h3.37v3.37h-3.37zM980.31 1370.78h3.37v3.37h-3.37zM987.04 1370.78h6.74v3.37h-6.74zM997.15 1370.78h3.37v3.37h-3.37zM1003.89 1370.78h13.47v3.37h-13.47zM1020.73 1370.78h3.37v3.37h-3.37zM1030.84 1370.78h6.74v3.37h-6.74zM1040.94 1370.78h10.11v3.37h-10.11zM1067.89 1370.78h3.37v3.37h-3.37zM1074.63 1370.78h26.95v3.37h-26.95zM1108.32 1370.78h16.84v3.37h-16.84zM1142.01 1370.78h6.74v3.37h-6.74zM1152.11 1370.78h3.37v3.37h-3.37zM1158.85 1370.78h13.47v3.37h-13.47zM1175.69 1370.78h3.37v3.37h-3.37zM1185.80 1370.78h6.74v3.37h-6.74zM1206.01 1370.78h3.37v3.37h-3.37zM1212.75 1370.78h13.47v3.37h-13.47zM1229.59 1370.78h6.74v3.37h-6.74zM1246.44 1370.78h6.74v3.37h-6.74zM239.18 1374.15h3.37v3.37h-3.37zM596.27 1374.15h6.74v3.37h-6.74zM912.93 1374.15h6.74v3.37h-6.74zM923.04 1374.15h3.37v3.37h-3.37zM933.14 1374.15h10.11v3.37h-10.11zM960.09 1374.15h3.37v3.37h-3.37zM987.04 1374.15h3.37v3.37h-3.37zM1000.52 1374.15h6.74v3.37h-6.74zM1010.62 1374.15h3.37v3.37h-3.37zM1024.10 1374.15h6.74v3.37h-6.74zM1034.21 1374.15h6.74v3.37h-6.74zM1074.63 1374.15h6.74v3.37h-6.74zM1084.74 1374.15h3.37v3.37h-3.37zM1111.69 1374.15h13.47v3.37h-13.47zM1145.38 1374.15h10.11v3.37h-10.11zM1165.59 1374.15h3.37v3.37h-3.37zM1172.33 1374.15h3.37v3.37h-3.37zM1189.17 1374.15h3.37v3.37h-3.37zM1219.49 1374.15h3.37v3.37h-3.37zM1226.22 1374.15h3.37v3.37h-3.37zM1236.33 1374.15h3.37v3.37h-3.37zM1243.07 1374.15h3.37v3.37h-3.37zM1253.17 1374.15h3.37v3.37h-3.37zM1273.39 1374.15h10.11v3.37h-10.11zM239.18 1377.52h3.37v3.37h-3.37zM603.01 1377.52h10.11v3.37h-10.11zM875.88 1377.52h3.37v3.37h-3.37zM889.35 1377.52h3.37v3.37h-3.37zM902.82 1377.52h3.37v3.37h-3.37zM909.56 1377.52h3.37v3.37h-3.37zM919.67 1377.52h3.37v3.37h-3.37zM960.09 1377.52h3.37v3.37h-3.37zM1000.52 1377.52h3.37v3.37h-3.37zM1024.10 1377.52h3.37v3.37h-3.37zM1148.74 1377.52h6.74v3.37h-6.74zM1239.70 1377.52h6.74v3.37h-6.74zM1253.17 1377.52h3.37v3.37h-3.37zM1259.91 1377.52h6.74v3.37h-6.74zM1270.02 1377.52h3.37v3.37h-3.37zM1280.12 1377.52h3.37v3.37h-3.37zM1286.86 1377.52h3.37v3.37h-3.37zM1323.92 1377.52h3.37v3.37h-3.37zM239.18 1380.89h3.37v3.37h-3.37zM613.11 1380.89h3.37v3.37h-3.37zM788.29 1380.89h3.37v3.37h-3.37zM808.50 1380.89h3.37v3.37h-3.37zM828.71 1380.89h6.74v3.37h-6.74zM845.56 1380.89h3.37v3.37h-3.37zM862.40 1380.89h3.37v3.37h-3.37zM869.14 1380.89h3.37v3.37h-3.37zM875.88 1380.89h3.37v3.37h-3.37zM889.35 1380.89h13.47v3.37h-13.47zM906.19 1380.89h3.37v3.37h-3.37zM1256.54 1380.89h3.37v3.37h-3.37zM1263.28 1380.89h3.37v3.37h-3.37zM1270.02 1380.89h3.37v3.37h-3.37zM1283.49 1380.89h3.37v3.37h-3.37zM1290.23 1380.89h3.37v3.37h-3.37zM1303.71 1380.89h3.37v3.37h-3.37zM1317.18 1380.89h3.37v3.37h-3.37zM1323.92 1380.89h6.74v3.37h-6.74zM235.81 1384.25h3.37v3.37h-3.37zM613.11 1384.25h3.37v3.37h-3.37zM754.60 1384.25h3.37v3.37h-3.37zM764.71 1384.25h6.74v3.37h-6.74zM774.81 1384.25h3.37v3.37h-3.37zM784.92 1384.25h26.95v3.37h-26.95zM818.61 1384.25h3.37v3.37h-3.37zM825.34 1384.25h3.37v3.37h-3.37zM832.08 1384.25h3.37v3.37h-3.37zM842.19 1384.25h3.37v3.37h-3.37zM848.92 1384.25h3.37v3.37h-3.37zM859.03 1384.25h6.74v3.37h-6.74zM869.14 1384.25h10.11v3.37h-10.11zM882.61 1384.25h6.74v3.37h-6.74zM892.72 1384.25h3.37v3.37h-3.37zM1266.65 1384.25h3.37v3.37h-3.37zM1283.49 1384.25h3.37v3.37h-3.37zM1290.23 1384.25h3.37v3.37h-3.37zM1303.71 1384.25h6.74v3.37h-6.74zM1313.81 1384.25h3.37v3.37h-3.37zM1320.55 1384.25h3.37v3.37h-3.37zM1327.29 1384.25h3.37v3.37h-3.37zM1334.02 1384.25h6.74v3.37h-6.74zM1347.50 1384.25h6.74v3.37h-6.74zM235.81 1387.62h3.37v3.37h-3.37zM616.48 1387.62h3.37v3.37h-3.37zM623.22 1387.62h3.37v3.37h-3.37zM727.65 1387.62h6.74v3.37h-6.74zM751.23 1387.62h6.74v3.37h-6.74zM761.34 1387.62h3.37v3.37h-3.37zM768.07 1387.62h6.74v3.37h-6.74zM778.18 1387.62h6.74v3.37h-6.74zM791.66 1387.62h3.37v3.37h-3.37zM811.87 1387.62h10.11v3.37h-10.11zM825.34 1387.62h3.37v3.37h-3.37zM832.08 1387.62h3.37v3.37h-3.37zM842.19 1387.62h3.37v3.37h-3.37zM848.92 1387.62h3.37v3.37h-3.37zM859.03 1387.62h3.37v3.37h-3.37zM865.77 1387.62h3.37v3.37h-3.37zM872.51 1387.62h3.37v3.37h-3.37zM879.24 1387.62h3.37v3.37h-3.37zM1293.60 1387.62h10.11v3.37h-10.11zM1310.44 1387.62h6.74v3.37h-6.74zM1320.55 1387.62h3.37v3.37h-3.37zM1330.66 1387.62h6.74v3.37h-6.74zM1340.76 1387.62h6.74v3.37h-6.74zM1354.24 1387.62h3.37v3.37h-3.37zM235.81 1390.99h3.37v3.37h-3.37zM619.85 1390.99h16.84v3.37h-16.84zM640.06 1390.99h3.37v3.37h-3.37zM646.80 1390.99h3.37v3.37h-3.37zM663.64 1390.99h3.37v3.37h-3.37zM717.54 1390.99h10.11v3.37h-10.11zM731.02 1390.99h3.37v3.37h-3.37zM744.49 1390.99h10.11v3.37h-10.11zM757.97 1390.99h3.37v3.37h-3.37zM811.87 1390.99h6.74v3.37h-6.74zM821.98 1390.99h6.74v3.37h-6.74zM835.45 1390.99h6.74v3.37h-6.74zM852.29 1390.99h6.74v3.37h-6.74zM1330.66 1390.99h3.37v3.37h-3.37zM1340.76 1390.99h3.37v3.37h-3.37zM1357.61 1390.99h3.37v3.37h-3.37zM1364.34 1390.99h3.37v3.37h-3.37zM232.44 1394.36h3.37v3.37h-3.37zM619.85 1394.36h3.37v3.37h-3.37zM636.69 1394.36h20.21v3.37h-20.21zM663.64 1394.36h10.11v3.37h-10.11zM697.33 1394.36h3.37v3.37h-3.37zM704.07 1394.36h3.37v3.37h-3.37zM710.81 1394.36h6.74v3.37h-6.74zM731.02 1394.36h13.47v3.37h-13.47zM1360.97 1394.36h10.11v3.37h-10.11zM1374.45 1394.36h3.37v3.37h-3.37zM1387.92 1394.36h3.37v3.37h-3.37zM1401.40 1394.36h3.37v3.37h-3.37zM1411.51 1394.36h3.37v3.37h-3.37zM1418.24 1394.36h3.37v3.37h-3.37zM1424.98 1394.36h6.74v3.37h-6.74zM232.44 1397.73h3.37v3.37h-3.37zM636.69 1397.73h3.37v3.37h-3.37zM643.43 1397.73h3.37v3.37h-3.37zM653.54 1397.73h6.74v3.37h-6.74zM663.64 1397.73h6.74v3.37h-6.74zM673.75 1397.73h3.37v3.37h-3.37zM697.33 1397.73h16.84v3.37h-16.84zM741.12 1397.73h3.37v3.37h-3.37zM1360.97 1397.73h3.37v3.37h-3.37zM1367.71 1397.73h3.37v3.37h-3.37zM1374.45 1397.73h6.74v3.37h-6.74zM1384.56 1397.73h3.37v3.37h-3.37zM1391.29 1397.73h3.37v3.37h-3.37zM1398.03 1397.73h30.32v3.37h-30.32zM1431.72 1397.73h6.74v3.37h-6.74zM1451.93 1397.73h3.37v3.37h-3.37zM1472.14 1397.73h3.37v3.37h-3.37zM232.44 1401.09h3.37v3.37h-3.37zM656.91 1401.09h6.74v3.37h-6.74zM673.75 1401.09h3.37v3.37h-3.37zM687.23 1401.09h3.37v3.37h-3.37zM693.96 1401.09h3.37v3.37h-3.37zM700.70 1401.09h3.37v3.37h-3.37zM1371.08 1401.09h3.37v3.37h-3.37zM1377.82 1401.09h6.74v3.37h-6.74zM1394.66 1401.09h6.74v3.37h-6.74zM1414.88 1401.09h3.37v3.37h-3.37zM1421.61 1401.09h6.74v3.37h-6.74zM1431.72 1401.09h3.37v3.37h-3.37zM1438.46 1401.09h10.11v3.37h-10.11zM1451.93 1401.09h6.74v3.37h-6.74zM1462.04 1401.09h3.37v3.37h-3.37zM1468.77 1401.09h13.47v3.37h-13.47zM1485.62 1401.09h6.74v3.37h-6.74zM229.07 1404.46h3.37v3.37h-3.37zM673.75 1404.46h23.58v3.37h-23.58zM1377.82 1404.46h3.37v3.37h-3.37zM1394.66 1404.46h3.37v3.37h-3.37zM1421.61 1404.46h3.37v3.37h-3.37zM1438.46 1404.46h6.74v3.37h-6.74zM1448.56 1404.46h37.06v3.37h-37.06zM1488.99 1404.46h3.37v3.37h-3.37zM1499.09 1404.46h3.37v3.37h-3.37zM1515.94 1404.46h3.37v3.37h-3.37zM229.07 1407.83h3.37v3.37h-3.37zM1448.56 1407.83h3.37v3.37h-3.37zM1465.41 1407.83h20.21v3.37h-20.21zM1492.36 1407.83h26.95v3.37h-26.95zM1529.41 1407.83h6.74v3.37h-6.74zM229.07 1411.20h3.37v3.37h-3.37zM1468.77 1411.20h3.37v3.37h-3.37zM1475.51 1411.20h3.37v3.37h-3.37zM1482.25 1411.20h3.37v3.37h-3.37zM1492.36 1411.20h6.74v3.37h-6.74zM1505.83 1411.20h3.37v3.37h-3.37zM1512.57 1411.20h3.37v3.37h-3.37zM1519.31 1411.20h10.11v3.37h-10.11zM1532.78 1411.20h3.37v3.37h-3.37zM1549.62 1411.20h3.37v3.37h-3.37zM229.07 1414.57h3.37v3.37h-3.37zM1495.72 1414.57h3.37v3.37h-3.37zM1522.67 1414.57h3.37v3.37h-3.37zM1532.78 1414.57h10.11v3.37h-10.11zM1546.26 1414.57h6.74v3.37h-6.74zM225.71 1417.93h3.37v3.37h-3.37zM1536.15 1417.93h16.84v3.37h-16.84zM1579.94 1417.93h6.74v3.37h-6.74zM1593.42 1417.93h3.37v3.37h-3.37zM225.71 1421.30h3.37v3.37h-3.37zM1542.89 1421.30h3.37v3.37h-3.37zM1552.99 1421.30h26.95v3.37h-26.95zM1583.31 1421.30h3.37v3.37h-3.37zM1590.05 1421.30h6.74v3.37h-6.74zM225.71 1424.67h3.37v3.37h-3.37zM1586.68 1424.67h6.74v3.37h-6.74zM1596.79 1424.67h10.11v3.37h-10.11zM1613.63 1424.67h3.37v3.37h-3.37zM1657.42 1424.67h3.37v3.37h-3.37zM222.34 1428.04h3.37v3.37h-3.37zM1596.79 1428.04h6.74v3.37h-6.74zM1606.89 1428.04h10.11v3.37h-10.11zM1620.37 1428.04h10.11v3.37h-10.11zM1633.84 1428.04h3.37v3.37h-3.37zM1640.58 1428.04h3.37v3.37h-3.37zM1654.06 1428.04h6.74v3.37h-6.74zM222.34 1431.41h3.37v3.37h-3.37zM1610.26 1431.41h3.37v3.37h-3.37zM1617.00 1431.41h3.37v3.37h-3.37zM1630.47 1431.41h3.37v3.37h-3.37zM1637.21 1431.41h3.37v3.37h-3.37zM1643.95 1431.41h3.37v3.37h-3.37zM1650.69 1431.41h3.37v3.37h-3.37zM1660.79 1431.41h6.74v3.37h-6.74zM1677.64 1431.41h6.74v3.37h-6.74zM1691.11 1431.41h10.11v3.37h-10.11zM222.34 1434.77h3.37v3.37h-3.37zM1637.21 1434.77h3.37v3.37h-3.37zM1647.32 1434.77h3.37v3.37h-3.37zM1667.53 1434.77h6.74v3.37h-6.74zM1677.64 1434.77h3.37v3.37h-3.37zM1684.38 1434.77h6.74v3.37h-6.74zM1701.22 1434.77h6.74v3.37h-6.74zM1711.33 1434.77h3.37v3.37h-3.37zM1721.43 1434.77h3.37v3.37h-3.37zM1728.17 1434.77h3.37v3.37h-3.37zM218.97 1438.14h3.37v3.37h-3.37zM1674.27 1438.14h3.37v3.37h-3.37zM1687.74 1438.14h3.37v3.37h-3.37zM1707.96 1438.14h16.84v3.37h-16.84zM1728.17 1438.14h13.47v3.37h-13.47zM1751.75 1438.14h3.37v3.37h-3.37zM218.97 1441.51h3.37v3.37h-3.37zM1707.96 1441.51h3.37v3.37h-3.37zM1714.69 1441.51h3.37v3.37h-3.37zM1724.80 1441.51h6.74v3.37h-6.74zM1741.64 1441.51h10.11v3.37h-10.11zM1755.12 1441.51h10.11v3.37h-10.11zM1788.81 1441.51h6.74v3.37h-6.74zM218.97 1444.88h3.37v3.37h-3.37zM1724.80 1444.88h3.37v3.37h-3.37zM1755.12 1444.88h6.74v3.37h-6.74zM1765.22 1444.88h3.37v3.37h-3.37zM1788.81 1444.88h3.37v3.37h-3.37zM1795.54 1444.88h3.37v3.37h-3.37zM1809.02 1444.88h23.58v3.37h-23.58zM1842.71 1444.88h16.84v3.37h-16.84zM1866.29 1444.88h3.37v3.37h-3.37zM1873.02 1444.88h10.11v3.37h-10.11zM215.60 1448.25h3.37v3.37h-3.37zM1768.59 1448.25h23.58v3.37h-23.58zM1795.54 1448.25h23.58v3.37h-23.58zM1832.60 1448.25h16.84v3.37h-16.84zM1852.81 1448.25h20.21v3.37h-20.21zM1876.39 1448.25h13.47v3.37h-13.47zM215.60 1451.61h3.37v3.37h-3.37zM1839.34 1451.61h3.37v3.37h-3.37zM1859.55 1451.61h6.74v3.37h-6.74zM1889.87 1451.61h26.95v3.37h-26.95zM1920.19 1451.61h6.74v3.37h-6.74zM208.86 1454.98h6.74v3.37h-6.74zM1913.45 1454.98h6.74v3.37h-6.74zM1923.56 1454.98h3.37v3.37h-3.37zM1933.66 1454.98h13.47v3.37h-13.47zM205.49 1458.35h3.37v3.37h-3.37zM1916.82 1458.35h3.37v3.37h-3.37zM1926.92 1458.35h6.74v3.37h-6.74zM1937.03 1458.35h3.37v3.37h-3.37zM1947.14 1458.35h10.11v3.37h-10.11zM1960.61 1458.35h3.37v3.37h-3.37zM202.12 1461.72h3.37v3.37h-3.37zM1957.24 1461.72h3.37v3.37h-3.37zM1963.98 1461.72h3.37v3.37h-3.37zM1974.09 1461.72h3.37v3.37h-3.37zM195.39 1465.09h6.74v3.37h-6.74zM1967.35 1465.09h6.74v3.37h-6.74zM1977.46 1465.09h10.11v3.37h-10.11zM1990.93 1465.09h16.84v3.37h-16.84zM2014.51 1465.09h6.74v3.37h-6.74zM2024.62 1465.09h3.37v3.37h-3.37zM2031.36 1465.09h3.37v3.37h-3.37zM181.91 1468.45h13.47v3.37h-13.47zM1987.56 1468.45h3.37v3.37h-3.37zM2007.77 1468.45h6.74v3.37h-6.74zM2021.25 1468.45h3.37v3.37h-3.37zM2027.99 1468.45h3.37v3.37h-3.37zM2034.72 1468.45h30.32v3.37h-30.32zM2075.15 1468.45h16.84v3.37h-16.84zM2098.73 1468.45h3.37v3.37h-3.37zM168.44 1471.82h13.47v3.37h-13.47zM2061.67 1471.82h13.47v3.37h-13.47zM2088.62 1471.82h23.58v3.37h-23.58zM2115.57 1471.82h10.11v3.37h-10.11zM165.07 1475.19h3.37v3.37h-3.37zM2112.21 1475.19h3.37v3.37h-3.37zM2118.94 1475.19h3.37v3.37h-3.37zM141.49 1478.56h16.84v3.37h-16.84zM161.70 1478.56h3.37v3.37h-3.37zM158.33 1481.93h3.37v3.37h-3.37zM142.95 1452.00h3.30v3.30h-3.30zM139.65 1455.30h9.90v3.30h-9.90zM139.65 1458.60h9.90v3.30h-9.90zM136.35 1461.90h16.50v3.30h-16.50zM136.35 1465.20h16.50v3.30h-16.50zM133.05 1468.50h23.10v3.30h-23.10zM131.40 1471.80h26.40v3.30h-26.40zM129.75 1475.10h29.70v3.30h-29.70zM126.45 1478.40h36.30v3.30h-36.30zM126.45 1481.70h36.30v3.30h-36.30zM123.15 1485.00h42.90v3.30h-42.90zM123.15 1488.30h42.90v3.30h-42.90zM196.75 1439.90h3.30v3.30h-3.30zM193.45 1443.20h9.90v3.30h-9.90zM193.45 1446.50h9.90v3.30h-9.90zM190.15 1449.80h16.50v3.30h-16.50zM190.15 1453.10h16.50v3.30h-16.50zM186.85 1456.40h23.10v3.30h-23.10zM185.20 1459.70h26.40v3.30h-26.40zM183.55 1463.00h29.70v3.30h-29.70zM180.25 1466.30h36.30v3.30h-36.30zM180.25 1469.60h36.30v3.30h-36.30zM176.95 1472.90h42.90v3.30h-42.90zM176.95 1476.20h42.90v3.30h-42.90zM250.55 1321.40h3.30v3.30h-3.30zM247.25 1324.70h9.90v3.30h-9.90zM247.25 1328.00h9.90v3.30h-9.90zM243.95 1331.30h16.50v3.30h-16.50zM243.95 1334.60h16.50v3.30h-16.50zM240.65 1337.90h23.10v3.30h-23.10zM239.00 1341.20h26.40v3.30h-26.40zM237.35 1344.50h29.70v3.30h-29.70zM234.05 1347.80h36.30v3.30h-36.30zM234.05 1351.10h36.30v3.30h-36.30zM230.75 1354.40h42.90v3.30h-42.90zM230.75 1357.70h42.90v3.30h-42.90zM304.35 739.80h3.30v3.30h-3.30zM301.05 743.10h9.90v3.30h-9.90zM301.05 746.40h9.90v3.30h-9.90zM297.75 749.70h16.50v3.30h-16.50zM297.75 753.00h16.50v3.30h-16.50zM294.45 756.30h23.10v3.30h-23.10zM292.80 759.60h26.40v3.30h-26.40zM291.15 762.90h29.70v3.30h-29.70zM287.85 766.20h36.30v3.30h-36.30zM287.85 769.50h36.30v3.30h-36.30zM284.55 772.80h42.90v3.30h-42.90zM284.55 776.10h42.90v3.30h-42.90zM358.15 607.90h3.30v3.30h-3.30zM354.85 611.20h9.90v3.30h-9.90zM354.85 614.50h9.90v3.30h-9.90zM351.55 617.80h16.50v3.30h-16.50zM351.55 621.10h16.50v3.30h-16.50zM348.25 624.40h23.10v3.30h-23.10zM346.60 627.70h26.40v3.30h-26.40zM344.95 631.00h29.70v3.30h-29.70zM341.65 634.30h36.30v3.30h-36.30zM341.65 637.60h36.30v3.30h-36.30zM338.35 640.90h42.90v3.30h-42.90zM338.35 644.20h42.90v3.30h-42.90zM411.95 939.40h3.30v3.30h-3.30zM408.65 942.70h9.90v3.30h-9.90zM408.65 946.00h9.90v3.30h-9.90zM405.35 949.30h16.50v3.30h-16.50zM405.35 952.60h16.50v3.30h-16.50zM402.05 955.90h23.10v3.30h-23.10zM400.40 959.20h26.40v3.30h-26.40zM398.75 962.50h29.70v3.30h-29.70zM395.45 965.80h36.30v3.30h-36.30zM395.45 969.10h36.30v3.30h-36.30zM392.15 972.40h42.90v3.30h-42.90zM392.15 975.70h42.90v3.30h-42.90zM465.75 1155.80h3.30v3.30h-3.30zM462.45 1159.10h9.90v3.30h-9.90zM462.45 1162.40h9.90v3.30h-9.90zM459.15 1165.70h16.50v3.30h-16.50zM459.15 1169.00h16.50v3.30h-16.50zM455.85 1172.30h23.10v3.30h-23.10zM454.20 1175.60h26.40v3.30h-26.40zM452.55 1178.90h29.70v3.30h-29.70zM449.25 1182.20h36.30v3.30h-36.30zM449.25 1185.50h36.30v3.30h-36.30zM445.95 1188.80h42.90v3.30h-42.90zM445.95 1192.10h42.90v3.30h-42.90zM519.55 1275.40h3.30v3.30h-3.30zM516.25 1278.70h9.90v3.30h-9.90zM516.25 1282.00h9.90v3.30h-9.90zM512.95 1285.30h16.50v3.30h-16.50zM512.95 1288.60h16.50v3.30h-16.50zM509.65 1291.90h23.10v3.30h-23.10zM508.00 1295.20h26.40v3.30h-26.40zM506.35 1298.50h29.70v3.30h-29.70zM503.05 1301.80h36.30v3.30h-36.30zM503.05 1305.10h36.30v3.30h-36.30zM499.75 1308.40h42.90v3.30h-42.90zM499.75 1311.70h42.90v3.30h-42.90zM573.35 1323.90h3.30v3.30h-3.30zM570.05 1327.20h9.90v3.30h-9.90zM570.05 1330.50h9.90v3.30h-9.90zM566.75 1333.80h16.50v3.30h-16.50zM566.75 1337.10h16.50v3.30h-16.50zM563.45 1340.40h23.10v3.30h-23.10zM561.80 1343.70h26.40v3.30h-26.40zM560.15 1347.00h29.70v3.30h-29.70zM556.85 1350.30h36.30v3.30h-36.30zM556.85 1353.60h36.30v3.30h-36.30zM553.55 1356.90h42.90v3.30h-42.90zM553.55 1360.20h42.90v3.30h-42.90zM627.15 1367.70h3.30v3.30h-3.30zM623.85 1371.00h9.90v3.30h-9.90zM623.85 1374.30h9.90v3.30h-9.90zM620.55 1377.60h16.50v3.30h-16.50zM620.55 1380.90h16.50v3.30h-16.50zM617.25 1384.20h23.10v3.30h-23.10zM615.60 1387.50h26.40v3.30h-26.40zM613.95 1390.80h29.70v3.30h-29.70zM610.65 1394.10h36.30v3.30h-36.30zM610.65 1397.40h36.30v3.30h-36.30zM607.35 1400.70h42.90v3.30h-42.90zM607.35 1404.00h42.90v3.30h-42.90zM680.95 1374.80h3.30v3.30h-3.30zM677.65 1378.10h9.90v3.30h-9.90zM677.65 1381.40h9.90v3.30h-9.90zM674.35 1384.70h16.50v3.30h-16.50zM674.35 1388.00h16.50v3.30h-16.50zM671.05 1391.30h23.10v3.30h-23.10zM669.40 1394.60h26.40v3.30h-26.40zM667.75 1397.90h29.70v3.30h-29.70zM664.45 1401.20h36.30v3.30h-36.30zM664.45 1404.50h36.30v3.30h-36.30zM661.15 1407.80h42.90v3.30h-42.90zM661.15 1411.10h42.90v3.30h-42.90zM734.75 1364.40h3.30v3.30h-3.30zM731.45 1367.70h9.90v3.30h-9.90zM731.45 1371.00h9.90v3.30h-9.90zM728.15 1374.30h16.50v3.30h-16.50zM728.15 1377.60h16.50v3.30h-16.50zM724.85 1380.90h23.10v3.30h-23.10zM723.20 1384.20h26.40v3.30h-26.40zM721.55 1387.50h29.70v3.30h-29.70zM718.25 1390.80h36.30v3.30h-36.30zM718.25 1394.10h36.30v3.30h-36.30zM714.95 1397.40h42.90v3.30h-42.90zM714.95 1400.70h42.90v3.30h-42.90zM788.55 1360.80h3.30v3.30h-3.30zM785.25 1364.10h9.90v3.30h-9.90zM785.25 1367.40h9.90v3.30h-9.90zM781.95 1370.70h16.50v3.30h-16.50zM781.95 1374.00h16.50v3.30h-16.50zM778.65 1377.30h23.10v3.30h-23.10zM777.00 1380.60h26.40v3.30h-26.40zM775.35 1383.90h29.70v3.30h-29.70zM772.05 1387.20h36.30v3.30h-36.30zM772.05 1390.50h36.30v3.30h-36.30zM768.75 1393.80h42.90v3.30h-42.90zM768.75 1397.10h42.90v3.30h-42.90zM842.35 1360.70h3.30v3.30h-3.30zM839.05 1364.00h9.90v3.30h-9.90zM839.05 1367.30h9.90v3.30h-9.90zM835.75 1370.60h16.50v3.30h-16.50zM835.75 1373.90h16.50v3.30h-16.50zM832.45 1377.20h23.10v3.30h-23.10zM830.80 1380.50h26.40v3.30h-26.40zM829.15 1383.80h29.70v3.30h-29.70zM825.85 1387.10h36.30v3.30h-36.30zM825.85 1390.40h36.30v3.30h-36.30zM822.55 1393.70h42.90v3.30h-42.90zM822.55 1397.00h42.90v3.30h-42.90zM896.15 1355.10h3.30v3.30h-3.30zM892.85 1358.40h9.90v3.30h-9.90zM892.85 1361.70h9.90v3.30h-9.90zM889.55 1365.00h16.50v3.30h-16.50zM889.55 1368.30h16.50v3.30h-16.50zM886.25 1371.60h23.10v3.30h-23.10zM884.60 1374.90h26.40v3.30h-26.40zM882.95 1378.20h29.70v3.30h-29.70zM879.65 1381.50h36.30v3.30h-36.30zM879.65 1384.80h36.30v3.30h-36.30zM876.35 1388.10h42.90v3.30h-42.90zM876.35 1391.40h42.90v3.30h-42.90zM949.95 1344.60h3.30v3.30h-3.30zM946.65 1347.90h9.90v3.30h-9.90zM946.65 1351.20h9.90v3.30h-9.90zM943.35 1354.50h16.50v3.30h-16.50zM943.35 1357.80h16.50v3.30h-16.50zM940.05 1361.10h23.10v3.30h-23.10zM938.40 1364.40h26.40v3.30h-26.40zM936.75 1367.70h29.70v3.30h-29.70zM933.45 1371.00h36.30v3.30h-36.30zM933.45 1374.30h36.30v3.30h-36.30zM930.15 1377.60h42.90v3.30h-42.90zM930.15 1380.90h42.90v3.30h-42.90zM1003.75 1344.60h3.30v3.30h-3.30zM1000.45 1347.90h9.90v3.30h-9.90zM1000.45 1351.20h9.90v3.30h-9.90zM997.15 1354.50h16.50v3.30h-16.50zM997.15 1357.80h16.50v3.30h-16.50zM993.85 1361.10h23.10v3.30h-23.10zM992.20 1364.40h26.40v3.30h-26.40zM990.55 1367.70h29.70v3.30h-29.70zM987.25 1371.00h36.30v3.30h-36.30zM987.25 1374.30h36.30v3.30h-36.30zM983.95 1377.60h42.90v3.30h-42.90zM983.95 1380.90h42.90v3.30h-42.90zM1057.55 1344.60h3.30v3.30h-3.30zM1054.25 1347.90h9.90v3.30h-9.90zM1054.25 1351.20h9.90v3.30h-9.90zM1050.95 1354.50h16.50v3.30h-16.50zM1050.95 1357.80h16.50v3.30h-16.50zM1047.65 1361.10h23.10v3.30h-23.10zM1046.00 1364.40h26.40v3.30h-26.40zM1044.35 1367.70h29.70v3.30h-29.70zM1041.05 1371.00h36.30v3.30h-36.30zM1041.05 1374.30h36.30v3.30h-36.30zM1037.75 1377.60h42.90v3.30h-42.90zM1037.75 1380.90h42.90v3.30h-42.90zM1111.35 1344.60h3.30v3.30h-3.30zM1108.05 1347.90h9.90v3.30h-9.90zM1108.05 1351.20h9.90v3.30h-9.90zM1104.75 1354.50h16.50v3.30h-16.50zM1104.75 1357.80h16.50v3.30h-16.50zM1101.45 1361.10h23.10v3.30h-23.10zM1099.80 1364.40h26.40v3.30h-26.40zM1098.15 1367.70h29.70v3.30h-29.70zM1094.85 1371.00h36.30v3.30h-36.30zM1094.85 1374.30h36.30v3.30h-36.30zM1091.55 1377.60h42.90v3.30h-42.90zM1091.55 1380.90h42.90v3.30h-42.90zM1165.15 1344.60h3.30v3.30h-3.30zM1161.85 1347.90h9.90v3.30h-9.90zM1161.85 1351.20h9.90v3.30h-9.90zM1158.55 1354.50h16.50v3.30h-16.50zM1158.55 1357.80h16.50v3.30h-16.50zM1155.25 1361.10h23.10v3.30h-23.10zM1153.60 1364.40h26.40v3.30h-26.40zM1151.95 1367.70h29.70v3.30h-29.70zM1148.65 1371.00h36.30v3.30h-36.30zM1148.65 1374.30h36.30v3.30h-36.30zM1145.35 1377.60h42.90v3.30h-42.90zM1145.35 1380.90h42.90v3.30h-42.90zM1218.95 1341.40h3.30v3.30h-3.30zM1215.65 1344.70h9.90v3.30h-9.90zM1215.65 1348.00h9.90v3.30h-9.90zM1212.35 1351.30h16.50v3.30h-16.50zM1212.35 1354.60h16.50v3.30h-16.50zM1209.05 1357.90h23.10v3.30h-23.10zM1207.40 1361.20h26.40v3.30h-26.40zM1205.75 1364.50h29.70v3.30h-29.70zM1202.45 1367.80h36.30v3.30h-36.30zM1202.45 1371.10h36.30v3.30h-36.30zM1199.15 1374.40h42.90v3.30h-42.90zM1199.15 1377.70h42.90v3.30h-42.90zM1272.75 1355.10h3.30v3.30h-3.30zM1269.45 1358.40h9.90v3.30h-9.90zM1269.45 1361.70h9.90v3.30h-9.90zM1266.15 1365.00h16.50v3.30h-16.50zM1266.15 1368.30h16.50v3.30h-16.50zM1262.85 1371.60h23.10v3.30h-23.10zM1261.20 1374.90h26.40v3.30h-26.40zM1259.55 1378.20h29.70v3.30h-29.70zM1256.25 1381.50h36.30v3.30h-36.30zM1256.25 1384.80h36.30v3.30h-36.30zM1252.95 1388.10h42.90v3.30h-42.90zM1252.95 1391.40h42.90v3.30h-42.90zM1326.55 1358.30h3.30v3.30h-3.30zM1323.25 1361.60h9.90v3.30h-9.90zM1323.25 1364.90h9.90v3.30h-9.90zM1319.95 1368.20h16.50v3.30h-16.50zM1319.95 1371.50h16.50v3.30h-16.50zM1316.65 1374.80h23.10v3.30h-23.10zM1315.00 1378.10h26.40v3.30h-26.40zM1313.35 1381.40h29.70v3.30h-29.70zM1310.05 1384.70h36.30v3.30h-36.30zM1310.05 1388.00h36.30v3.30h-36.30zM1306.75 1391.30h42.90v3.30h-42.90zM1306.75 1394.60h42.90v3.30h-42.90zM1380.35 1371.40h3.30v3.30h-3.30zM1377.05 1374.70h9.90v3.30h-9.90zM1377.05 1378.00h9.90v3.30h-9.90zM1373.75 1381.30h16.50v3.30h-16.50zM1373.75 1384.60h16.50v3.30h-16.50zM1370.45 1387.90h23.10v3.30h-23.10zM1368.80 1391.20h26.40v3.30h-26.40zM1367.15 1394.50h29.70v3.30h-29.70zM1363.85 1397.80h36.30v3.30h-36.30zM1363.85 1401.10h36.30v3.30h-36.30zM1360.55 1404.40h42.90v3.30h-42.90zM1360.55 1407.70h42.90v3.30h-42.90zM1434.15 1374.20h3.30v3.30h-3.30zM1430.85 1377.50h9.90v3.30h-9.90zM1430.85 1380.80h9.90v3.30h-9.90zM1427.55 1384.10h16.50v3.30h-16.50zM1427.55 1387.40h16.50v3.30h-16.50zM1424.25 1390.70h23.10v3.30h-23.10zM1422.60 1394.00h26.40v3.30h-26.40zM1420.95 1397.30h29.70v3.30h-29.70zM1417.65 1400.60h36.30v3.30h-36.30zM1417.65 1403.90h36.30v3.30h-36.30zM1414.35 1407.20h42.90v3.30h-42.90zM1414.35 1410.50h42.90v3.30h-42.90zM1487.95 1380.70h3.30v3.30h-3.30zM1484.65 1384.00h9.90v3.30h-9.90zM1484.65 1387.30h9.90v3.30h-9.90zM1481.35 1390.60h16.50v3.30h-16.50zM1481.35 1393.90h16.50v3.30h-16.50zM1478.05 1397.20h23.10v3.30h-23.10zM1476.40 1400.50h26.40v3.30h-26.40zM1474.75 1403.80h29.70v3.30h-29.70zM1471.45 1407.10h36.30v3.30h-36.30zM1471.45 1410.40h36.30v3.30h-36.30zM1468.15 1413.70h42.90v3.30h-42.90zM1468.15 1417.00h42.90v3.30h-42.90zM1541.75 1388.90h3.30v3.30h-3.30zM1538.45 1392.20h9.90v3.30h-9.90zM1538.45 1395.50h9.90v3.30h-9.90zM1535.15 1398.80h16.50v3.30h-16.50zM1535.15 1402.10h16.50v3.30h-16.50zM1531.85 1405.40h23.10v3.30h-23.10zM1530.20 1408.70h26.40v3.30h-26.40zM1528.55 1412.00h29.70v3.30h-29.70zM1525.25 1415.30h36.30v3.30h-36.30zM1525.25 1418.60h36.30v3.30h-36.30zM1521.95 1421.90h42.90v3.30h-42.90zM1521.95 1425.20h42.90v3.30h-42.90zM1595.55 1398.90h3.30v3.30h-3.30zM1592.25 1402.20h9.90v3.30h-9.90zM1592.25 1405.50h9.90v3.30h-9.90zM1588.95 1408.80h16.50v3.30h-16.50zM1588.95 1412.10h16.50v3.30h-16.50zM1585.65 1415.40h23.10v3.30h-23.10zM1584.00 1418.70h26.40v3.30h-26.40zM1582.35 1422.00h29.70v3.30h-29.70zM1579.05 1425.30h36.30v3.30h-36.30zM1579.05 1428.60h36.30v3.30h-36.30zM1575.75 1431.90h42.90v3.30h-42.90zM1575.75 1435.20h42.90v3.30h-42.90zM1649.35 1403.70h3.30v3.30h-3.30zM1646.05 1407.00h9.90v3.30h-9.90zM1646.05 1410.30h9.90v3.30h-9.90zM1642.75 1413.60h16.50v3.30h-16.50zM1642.75 1416.90h16.50v3.30h-16.50zM1639.45 1420.20h23.10v3.30h-23.10zM1637.80 1423.50h26.40v3.30h-26.40zM1636.15 1426.80h29.70v3.30h-29.70zM1632.85 1430.10h36.30v3.30h-36.30zM1632.85 1433.40h36.30v3.30h-36.30zM1629.55 1436.70h42.90v3.30h-42.90zM1629.55 1440.00h42.90v3.30h-42.90zM1703.15 1410.00h3.30v3.30h-3.30zM1699.85 1413.30h9.90v3.30h-9.90zM1699.85 1416.60h9.90v3.30h-9.90zM1696.55 1419.90h16.50v3.30h-16.50zM1696.55 1423.20h16.50v3.30h-16.50zM1693.25 1426.50h23.10v3.30h-23.10zM1691.60 1429.80h26.40v3.30h-26.40zM1689.95 1433.10h29.70v3.30h-29.70zM1686.65 1436.40h36.30v3.30h-36.30zM1686.65 1439.70h36.30v3.30h-36.30zM1683.35 1443.00h42.90v3.30h-42.90zM1683.35 1446.30h42.90v3.30h-42.90zM1756.95 1418.90h3.30v3.30h-3.30zM1753.65 1422.20h9.90v3.30h-9.90zM1753.65 1425.50h9.90v3.30h-9.90zM1750.35 1428.80h16.50v3.30h-16.50zM1750.35 1432.10h16.50v3.30h-16.50zM1747.05 1435.40h23.10v3.30h-23.10zM1745.40 1438.70h26.40v3.30h-26.40zM1743.75 1442.00h29.70v3.30h-29.70zM1740.45 1445.30h36.30v3.30h-36.30zM1740.45 1448.60h36.30v3.30h-36.30zM1737.15 1451.90h42.90v3.30h-42.90zM1737.15 1455.20h42.90v3.30h-42.90zM1810.75 1420.90h3.30v3.30h-3.30zM1807.45 1424.20h9.90v3.30h-9.90zM1807.45 1427.50h9.90v3.30h-9.90zM1804.15 1430.80h16.50v3.30h-16.50zM1804.15 1434.10h16.50v3.30h-16.50zM1800.85 1437.40h23.10v3.30h-23.10zM1799.20 1440.70h26.40v3.30h-26.40zM1797.55 1444.00h29.70v3.30h-29.70zM1794.25 1447.30h36.30v3.30h-36.30zM1794.25 1450.60h36.30v3.30h-36.30zM1790.95 1453.90h42.90v3.30h-42.90zM1790.95 1457.20h42.90v3.30h-42.90zM1864.55 1420.90h3.30v3.30h-3.30zM1861.25 1424.20h9.90v3.30h-9.90zM1861.25 1427.50h9.90v3.30h-9.90zM1857.95 1430.80h16.50v3.30h-16.50zM1857.95 1434.10h16.50v3.30h-16.50zM1854.65 1437.40h23.10v3.30h-23.10zM1853.00 1440.70h26.40v3.30h-26.40zM1851.35 1444.00h29.70v3.30h-29.70zM1848.05 1447.30h36.30v3.30h-36.30zM1848.05 1450.60h36.30v3.30h-36.30zM1844.75 1453.90h42.90v3.30h-42.90zM1844.75 1457.20h42.90v3.30h-42.90zM1918.35 1428.40h3.30v3.30h-3.30zM1915.05 1431.70h9.90v3.30h-9.90zM1915.05 1435.00h9.90v3.30h-9.90zM1911.75 1438.30h16.50v3.30h-16.50zM1911.75 1441.60h16.50v3.30h-16.50zM1908.45 1444.90h23.10v3.30h-23.10zM1906.80 1448.20h26.40v3.30h-26.40zM1905.15 1451.50h29.70v3.30h-29.70zM1901.85 1454.80h36.30v3.30h-36.30zM1901.85 1458.10h36.30v3.30h-36.30zM1898.55 1461.40h42.90v3.30h-42.90zM1898.55 1464.70h42.90v3.30h-42.90zM1972.15 1437.20h3.30v3.30h-3.30zM1968.85 1440.50h9.90v3.30h-9.90zM1968.85 1443.80h9.90v3.30h-9.90zM1965.55 1447.10h16.50v3.30h-16.50zM1965.55 1450.40h16.50v3.30h-16.50zM1962.25 1453.70h23.10v3.30h-23.10zM1960.60 1457.00h26.40v3.30h-26.40zM1958.95 1460.30h29.70v3.30h-29.70zM1955.65 1463.60h36.30v3.30h-36.30zM1955.65 1466.90h36.30v3.30h-36.30zM1952.35 1470.20h42.90v3.30h-42.90zM1952.35 1473.50h42.90v3.30h-42.90zM2025.95 1441.40h3.30v3.30h-3.30zM2022.65 1444.70h9.90v3.30h-9.90zM2022.65 1448.00h9.90v3.30h-9.90zM2019.35 1451.30h16.50v3.30h-16.50zM2019.35 1454.60h16.50v3.30h-16.50zM2016.05 1457.90h23.10v3.30h-23.10zM2014.40 1461.20h26.40v3.30h-26.40zM2012.75 1464.50h29.70v3.30h-29.70zM2009.45 1467.80h36.30v3.30h-36.30zM2009.45 1471.10h36.30v3.30h-36.30zM2006.15 1474.40h42.90v3.30h-42.90zM2006.15 1477.70h42.90v3.30h-42.90zM2079.75 1443.90h3.30v3.30h-3.30zM2076.45 1447.20h9.90v3.30h-9.90zM2076.45 1450.50h9.90v3.30h-9.90zM2073.15 1453.80h16.50v3.30h-16.50zM2073.15 1457.10h16.50v3.30h-16.50zM2069.85 1460.40h23.10v3.30h-23.10zM2068.20 1463.70h26.40v3.30h-26.40zM2066.55 1467.00h29.70v3.30h-29.70zM2063.25 1470.30h36.30v3.30h-36.30zM2063.25 1473.60h36.30v3.30h-36.30zM2059.95 1476.90h42.90v3.30h-42.90zM2059.95 1480.20h42.90v3.30h-42.90z"/>
<path fill="#ff00ff" d="M343.61 882.42h3.37v3.37h-3.37zM336.88 885.79h3.37v3.37h-3.37zM343.61 885.79h6.74v3.37h-6.74zM333.51 889.16h23.58v3.37h-23.58zM333.51 892.52h23.58v3.37h-23.58zM330.14 895.89h26.95v3.37h-26.95zM330.14 899.26h6.74v3.37h-6.74zM340.24 899.26h16.84v3.37h-16.84zM330.14 902.63h6.74v3.37h-6.74zM340.24 902.63h13.47v3.37h-13.47zM357.09 902.63h3.37v3.37h-3.37zM326.77 906.00h3.37v3.37h-3.37zM343.61 906.00h6.74v3.37h-6.74zM357.09 906.00h3.37v3.37h-3.37zM326.77 909.36h3.37v3.37h-3.37zM357.09 909.36h3.37v3.37h-3.37zM326.77 912.73h3.37v3.37h-3.37zM357.09 912.73h6.74v3.37h-6.74zM326.77 916.10h3.37v3.37h-3.37zM360.46 916.10h6.74v3.37h-6.74zM326.77 919.47h3.37v3.37h-3.37zM363.82 919.47h3.37v3.37h-3.37zM323.40 922.84h3.37v3.37h-3.37zM363.82 922.84h3.37v3.37h-3.37zM323.40 926.20h3.37v3.37h-3.37zM367.19 926.20h3.37v3.37h-3.37zM323.40 929.57h3.37v3.37h-3.37zM367.19 929.57h3.37v3.37h-3.37zM320.03 932.94h3.37v3.37h-3.37zM367.19 932.94h3.37v3.37h-3.37zM320.03 936.31h3.37v3.37h-3.37zM370.56 936.31h3.37v3.37h-3.37zM320.03 939.68h3.37v3.37h-3.37zM370.56 939.68h3.37v3.37h-3.37zM320.03 943.04h3.37v3.37h-3.37zM373.93 943.04h3.37v3.37h-3.37zM320.03 946.41h3.37v3.37h-3.37zM373.93 946.41h3.37v3.37h-3.37zM316.66 949.78h3.37v3.37h-3.37zM373.93 949.78h3.37v3.37h-3.37zM316.66 953.15h3.37v3.37h-3.37zM373.93 953.15h3.37v3.37h-3.37zM316.66 956.52h3.37v3.37h-3.37zM373.93 956.52h3.37v3.37h-3.37zM316.66 959.88h3.37v3.37h-3.37zM373.93 959.88h3.37v3.37h-3.37zM313.29 963.25h6.74v3.37h-6.74zM373.93 963.25h3.37v3.37h-3.37zM313.29 966.62h3.37v3.37h-3.37zM377.30 966.62h3.37v3.37h-3.37zM313.29 969.99h3.37v3.37h-3.37zM377.30 969.99h3.37v3.37h-3.37zM313.29 973.36h3.37v3.37h-3.37zM377.30 973.36h3.37v3.37h-3.37zM313.29 976.72h3.37v3.37h-3.37zM377.30 976.72h3.37v3.37h-3.37zM313.29 980.09h3.37v3.37h-3.37zM380.67 980.09h3.37v3.37h-3.37zM313.29 983.46h3.37v3.37h-3.37zM380.67 983.46h3.37v3.37h-3.37zM309.93 986.83h3.37v3.37h-3.37zM380.67 986.83h3.37v3.37h-3.37zM309.93 990.20h3.37v3.37h-3.37zM384.04 990.20h3.37v3.37h-3.37zM309.93 993.56h3.37v3.37h-3.37zM384.04 993.56h3.37v3.37h-3.37zM309.93 996.93h3.37v3.37h-3.37zM384.04 996.93h3.37v3.37h-3.37zM309.93 1000.30h3.37v3.37h-3.37zM384.04 1000.30h10.11v3.37h-10.11zM309.93 1003.67h3.37v3.37h-3.37zM384.04 1003.67h10.11v3.37h-10.11zM309.93 1007.04h3.37v3.37h-3.37zM384.04 1007.04h3.37v3.37h-3.37zM390.77 1007.04h3.37v3.37h-3.37zM306.56 1010.40h3.37v3.37h-3.37zM394.14 1010.40h3.37v3.37h-3.37zM306.56 1013.77h3.37v3.37h-3.37zM394.14 1013.77h3.37v3.37h-3.37zM306.56 1017.14h3.37v3.37h-3.37zM397.51 1017.14h3.37v3.37h-3.37zM306.56 1020.51h3.37v3.37h-3.37zM397.51 1020.51h3.37v3.37h-3.37zM306.56 1023.88h3.37v3.37h-3.37zM397.51 1023.88h3.37v3.37h-3.37zM306.56 1027.24h3.37v3.37h-3.37zM397.51 1027.24h3.37v3.37h-3.37zM303.19 1030.61h3.37v3.37h-3.37zM400.88 1030.61h3.37v3.37h-3.37zM303.19 1033.98h3.37v3.37h-3.37zM400.88 1033.98h3.37v3.37h-3.37zM303.19 1037.35h3.37v3.37h-3.37zM400.88 1037.35h3.37v3.37h-3.37zM303.19 1040.72h3.37v3.37h-3.37zM404.25 1040.72h3.37v3.37h-3.37zM303.19 1044.08h3.37v3.37h-3.37zM404.25 1044.08h3.37v3.37h-3.37zM303.19 1047.45h3.37v3.37h-3.37zM407.62 1047.45h3.37v3.37h-3.37zM303.19 1050.82h3.37v3.37h-3.37zM407.62 1050.82h6.74v3.37h-6.74zM303.19 1054.19h3.37v3.37h-3.37zM410.99 1054.19h3.37v3.37h-3.37zM303.19 1057.56h3.37v3.37h-3.37zM410.99 1057.56h3.37v3.37h-3.37zM299.82 1060.92h3.37v3.37h-3.37zM410.99 1060.92h3.37v3.37h-3.37zM299.82 1064.29h3.37v3.37h-3.37zM410.99 1064.29h3.37v3.37h-3.37zM299.82 1067.66h3.37v3.37h-3.37zM410.99 1067.66h3.37v3.37h-3.37zM299.82 1071.03h3.37v3.37h-3.37zM414.36 1071.03h3.37v3.37h-3.37zM299.82 1074.40h3.37v3.37h-3.37zM414.36 1074.40h3.37v3.37h-3.37zM299.82 1077.76h3.37v3.37h-3.37zM414.36 1077.76h3.37v3.37h-3.37zM296.45 1081.13h3.37v3.37h-3.37zM414.36 1081.13h3.37v3.37h-3.37zM296.45 1084.50h3.37v3.37h-3.37zM417.72 1084.50h3.37v3.37h-3.37zM296.45 1087.87h3.37v3.37h-3.37zM417.72 1087.87h3.37v3.37h-3.37zM296.45 1091.24h3.37v3.37h-3.37zM417.72 1091.24h3.37v3.37h-3.37zM296.45 1094.61h3.37v3.37h-3.37zM417.72 1094.61h6.74v3.37h-6.74zM296.45 1097.97h3.37v3.37h-3.37zM424.46 1097.97h3.37v3.37h-3.37zM296.45 1101.34h3.37v3.37h-3.37zM427.83 1101.34h3.37v3.37h-3.37zM296.45 1104.71h3.37v3.37h-3.37zM427.83 1104.71h3.37v3.37h-3.37zM296.45 1108.08h3.37v3.37h-3.37zM427.83 1108.08h3.37v3.37h-3.37zM296.45 1111.45h3.37v3.37h-3.37zM427.83 1111.45h3.37v3.37h-3.37zM296.45 1114.81h3.37v3.37h-3.37zM427.83 1114.81h3.37v3.37h-3.37zM293.08 1118.18h3.37v3.37h-3.37zM431.20 1118.18h3.37v3.37h-3.37zM293.08 1121.55h3.37v3.37h-3.37zM431.20 1121.55h3.37v3.37h-3.37zM293.08 1124.92h3.37v3.37h-3.37zM434.57 1124.92h3.37v3.37h-3.37zM293.08 1128.29h3.37v3.37h-3.37zM434.57 1128.29h3.37v3.37h-3.37zM293.08 1131.65h3.37v3.37h-3.37zM437.94 1131.65h3.37v3.37h-3.37zM293.08 1135.02h3.37v3.37h-3.37zM437.94 1135.02h3.37v3.37h-3.37zM293.08 1138.39h3.37v3.37h-3.37zM437.94 1138.39h3.37v3.37h-3.37zM293.08 1141.76h3.37v3.37h-3.37zM441.31 1141.76h3.37v3.37h-3.37zM289.71 1145.13h3.37v3.37h-3.37zM441.31 1145.13h3.37v3.37h-3.37zM289.71 1148.49h3.37v3.37h-3.37zM441.31 1148.49h3.37v3.37h-3.37zM289.71 1151.86h3.37v3.37h-3.37zM444.68 1151.86h3.37v3.37h-3.37zM289.71 1155.23h3.37v3.37h-3.37zM444.68 1155.23h3.37v3.37h-3.37zM289.71 1158.60h3.37v3.37h-3.37zM444.68 1158.60h3.37v3.37h-3.37zM289.71 1161.97h3.37v3.37h-3.37zM448.04 1161.97h3.37v3.37h-3.37zM289.71 1165.33h3.37v3.37h-3.37zM448.04 1165.33h3.37v3.37h-3.37zM289.71 1168.70h3.37v3.37h-3.37zM451.41 1168.70h3.37v3.37h-3.37zM289.71 1172.07h3.37v3.37h-3.37zM454.78 1172.07h3.37v3.37h-3.37zM289.71 1175.44h3.37v3.37h-3.37zM454.78 1175.44h3.37v3.37h-3.37zM286.34 1178.81h3.37v3.37h-3.37zM458.15 1178.81h3.37v3.37h-3.37zM286.34 1182.17h3.37v3.37h-3.37zM461.52 1182.17h3.37v3.37h-3.37zM286.34 1185.54h3.37v3.37h-3.37zM461.52 1185.54h3.37v3.37h-3.37zM286.34 1188.91h3.37v3.37h-3.37zM464.89 1188.91h3.37v3.37h-3.37zM286.34 1192.28h3.37v3.37h-3.37zM468.26 1192.28h3.37v3.37h-3.37zM286.34 1195.65h3.37v3.37h-3.37zM468.26 1195.65h3.37v3.37h-3.37zM286.34 1199.01h3.37v3.37h-3.37zM471.62 1199.01h3.37v3.37h-3.37zM286.34 1202.38h3.37v3.37h-3.37zM471.62 1202.38h3.37v3.37h-3.37zM286.34 1205.75h3.37v3.37h-3.37zM474.99 1205.75h3.37v3.37h-3.37zM282.97 1209.12h3.37v3.37h-3.37zM474.99 1209.12h3.37v3.37h-3.37zM282.97 1212.49h3.37v3.37h-3.37zM478.36 1212.49h3.37v3.37h-3.37zM282.97 1215.85h3.37v3.37h-3.37zM478.36 1215.85h3.37v3.37h-3.37zM282.97 1219.22h3.37v3.37h-3.37zM481.73 1219.22h3.37v3.37h-3.37zM282.97 1222.59h3.37v3.37h-3.37zM485.10 1222.59h3.37v3.37h-3.37zM282.97 1225.96h3.37v3.37h-3.37zM485.10 1225.96h3.37v3.37h-3.37zM282.97 1229.33h3.37v3.37h-3.37zM488.47 1229.33h3.37v3.37h-3.37zM279.61 1232.69h3.37v3.37h-3.37zM488.47 1232.69h6.74v3.37h-6.74zM279.61 1236.06h3.37v3.37h-3.37zM491.84 1236.06h3.37v3.37h-3.37zM279.61 1239.43h3.37v3.37h-3.37zM495.21 1239.43h3.37v3.37h-3.37zM279.61 1242.80h3.37v3.37h-3.37zM498.57 1242.80h3.37v3.37h-3.37zM279.61 1246.17h3.37v3.37h-3.37zM501.94 1246.17h3.37v3.37h-3.37zM279.61 1249.53h3.37v3.37h-3.37zM505.31 1249.53h3.37v3.37h-3.37zM276.24 1252.90h3.37v3.37h-3.37zM508.68 1252.90h3.37v3.37h-3.37zM276.24 1256.27h3.37v3.37h-3.37zM512.05 1256.27h3.37v3.37h-3.37zM276.24 1259.64h3.37v3.37h-3.37zM515.42 1259.64h3.37v3.37h-3.37zM276.24 1263.01h3.37v3.37h-3.37zM518.79 1263.01h3.37v3.37h-3.37zM276.24 1266.37h3.37v3.37h-3.37zM522.16 1266.37h3.37v3.37h-3.37zM276.24 1269.74h3.37v3.37h-3.37zM522.16 1269.74h3.37v3.37h-3.37zM276.24 1273.11h3.37v3.37h-3.37zM525.52 1273.11h3.37v3.37h-3.37zM272.87 1276.48h3.37v3.37h-3.37zM528.89 1276.48h3.37v3.37h-3.37zM272.87 1279.85h3.37v3.37h-3.37zM528.89 1279.85h13.47v3.37h-13.47zM272.87 1283.21h3.37v3.37h-3.37zM542.37 1283.21h3.37v3.37h-3.37zM272.87 1286.58h3.37v3.37h-3.37zM542.37 1286.58h3.37v3.37h-3.37zM272.87 1289.95h3.37v3.37h-3.37zM545.74 1289.95h3.37v3.37h-3.37zM272.87 1293.32h3.37v3.37h-3.37zM549.11 1293.32h3.37v3.37h-3.37zM269.50 1296.69h3.37v3.37h-3.37zM549.11 1296.69h3.37v3.37h-3.37zM269.50 1300.05h3.37v3.37h-3.37zM552.48 1300.05h3.37v3.37h-3.37zM269.50 1303.42h3.37v3.37h-3.37zM552.48 1303.42h6.74v3.37h-6.74zM269.50 1306.79h3.37v3.37h-3.37zM559.21 1306.79h3.37v3.37h-3.37zM269.50 1310.16h3.37v3.37h-3.37zM562.58 1310.16h3.37v3.37h-3.37zM266.13 1313.53h3.37v3.37h-3.37zM565.95 1313.53h3.37v3.37h-3.37zM266.13 1316.89h3.37v3.37h-3.37zM569.32 1316.89h3.37v3.37h-3.37zM266.13 1320.26h3.37v3.37h-3.37zM572.69 1320.26h3.37v3.37h-3.37zM902.82 1320.26h3.37v3.37h-3.37zM929.77 1320.26h13.47v3.37h-13.47zM946.62 1320.26h6.74v3.37h-6.74zM960.09 1320.26h3.37v3.37h-3.37zM1034.21 1320.26h3.37v3.37h-3.37zM266.13 1323.63h3.37v3.37h-3.37zM576.06 1323.63h3.37v3.37h-3.37zM896.09 1323.63h6.74v3.37h-6.74zM906.19 1323.63h3.37v3.37h-3.37zM916.30 1323.63h3.37v3.37h-3.37zM923.04 1323.63h6.74v3.37h-6.74zM939.88 1323.63h3.37v3.37h-3.37zM946.62 1323.63h3.37v3.37h-3.37zM953.36 1323.63h3.37v3.37h-3.37zM960.09 1323.63h3.37v3.37h-3.37zM966.83 1323.63h3.37v3.37h-3.37zM990.41 1323.63h3.37v3.37h-3.37zM1007.26 1323.63h3.37v3.37h-3.37zM1017.36 1323.63h3.37v3.37h-3.37zM1027.47 1323.63h13.47v3.37h-13.47zM1044.31 1323.63h6.74v3.37h-6.74zM1064.52 1323.63h6.74v3.37h-6.74zM1074.63 1323.63h10.11v3.37h-10.11zM1088.11 1323.63h3.37v3.37h-3.37zM1121.79 1323.63h3.37v3.37h-3.37zM266.13 1327.00h3.37v3.37h-3.37zM579.42 1327.00h6.74v3.37h-6.74zM879.24 1327.00h10.11v3.37h-10.11zM892.72 1327.00h3.37v3.37h-3.37zM899.46 1327.00h3.37v3.37h-3.37zM906.19 1327.00h3.37v3.37h-3.37zM912.93 1327.00h6.74v3.37h-6.74zM923.04 1327.00h3.37v3.37h-3.37zM943.25 1327.00h3.37v3.37h-3.37zM953.36 1327.00h3.37v3.37h-3.37zM960.09 1327.00h6.74v3.37h-6.74zM970.20 1327.00h6.74v3.37h-6.74zM983.67 1327.00h3.37v3.37h-3.37zM990.41 1327.00h6.74v3.37h-6.74zM1000.52 1327.00h3.37v3.37h-3.37zM1007.26 1327.00h3.37v3.37h-3.37zM1017.36 1327.00h13.47v3.37h-13.47zM1040.94 1327.00h6.74v3.37h-6.74zM1051.05 1327.00h23.58v3.37h-23.58zM1084.74 1327.00h16.84v3.37h-16.84zM1108.32 1327.00h3.37v3.37h-3.37zM1118.42 1327.00h6.74v3.37h-6.74zM1142.01 1327.00h3.37v3.37h-3.37zM262.76 1330.37h3.37v3.37h-3.37zM586.16 1330.37h3.37v3.37h-3.37zM842.19 1330.37h3.37v3.37h-3.37zM855.66 1330.37h3.37v3.37h-3.37zM869.14 1330.37h3.37v3.37h-3.37zM879.24 1330.37h3.37v3.37h-3.37zM889.35 1330.37h3.37v3.37h-3.37zM909.56 1330.37h6.74v3.37h-6.74zM919.67 1330.37h3.37v3.37h-3.37zM943.25 1330.37h3.37v3.37h-3.37zM956.73 1330.37h3.37v3.37h-3.37zM976.94 1330.37h6.74v3.37h-6.74zM987.04 1330.37h3.37v3.37h-3.37zM997.15 1330.37h10.11v3.37h-10.11zM1010.62 1330.37h6.74v3.37h-6.74zM1020.73 1330.37h6.74v3.37h-6.74zM1040.94 1330.37h3.37v3.37h-3.37zM1061.16 1330.37h6.74v3.37h-6.74zM1084.74 1330.37h26.95v3.37h-26.95zM1118.42 1330.37h3.37v3.37h-3.37zM1125.16 1330.37h6.74v3.37h-6.74zM1138.64 1330.37h6.74v3.37h-6.74zM1155.48 1330.37h3.37v3.37h-3.37zM262.76 1333.73h3.37v3.37h-3.37zM589.53 1333.73h3.37v3.37h-3.37zM784.92 1333.73h3.37v3.37h-3.37zM791.66 1333.73h3.37v3.37h-3.37zM798.39 1333.73h3.37v3.37h-3.37zM825.34 1333.73h3.37v3.37h-3.37zM832.08 1333.73h3.37v3.37h-3.37zM842.19 1333.73h6.74v3.37h-6.74zM852.29 1333.73h6.74v3.37h-6.74zM865.77 1333.73h3.37v3.37h-3.37zM872.51 1333.73h6.74v3.37h-6.74zM909.56 1333.73h3.37v3.37h-3.37zM919.67 1333.73h3.37v3.37h-3.37zM976.94 1333.73h3.37v3.37h-3.37zM997.15 1333.73h3.37v3.37h-3.37zM1010.62 1333.73h3.37v3.37h-3.37zM1020.73 1333.73h3.37v3.37h-3.37zM1084.74 1333.73h3.37v3.37h-3.37zM1104.95 1333.73h13.47v3.37h-13.47zM1131.90 1333.73h3.37v3.37h-3.37zM1138.64 1333.73h6.74v3.37h-6.74zM1152.11 1333.73h6.74v3.37h-6.74zM1179.06 1333.73h3.37v3.37h-3.37zM262.76 1337.10h3.37v3.37h-3.37zM592.90 1337.10h3.37v3.37h-3.37zM603.01 1337.10h10.11v3.37h-10.11zM771.44 1337.10h3.37v3.37h-3.37zM778.18 1337.10h23.58v3.37h-23.58zM818.61 1337.10h6.74v3.37h-6.74zM828.71 1337.10h6.74v3.37h-6.74zM838.82 1337.10h3.37v3.37h-3.37zM845.56 1337.10h3.37v3.37h-3.37zM852.29 1337.10h3.37v3.37h-3.37zM859.03 1337.10h6.74v3.37h-6.74zM875.88 1337.10h3.37v3.37h-3.37zM1111.69 1337.10h3.37v3.37h-3.37zM1131.90 1337.10h3.37v3.37h-3.37zM1138.64 1337.10h3.37v3.37h-3.37zM1145.38 1337.10h20.21v3.37h-20.21zM1175.69 1337.10h6.74v3.37h-6.74zM1185.80 1337.10h6.74v3.37h-6.74zM1199.27 1337.10h3.37v3.37h-3.37zM262.76 1340.47h3.37v3.37h-3.37zM596.27 1340.47h6.74v3.37h-6.74zM609.74 1340.47h3.37v3.37h-3.37zM741.12 1340.47h6.74v3.37h-6.74zM754.60 1340.47h3.37v3.37h-3.37zM761.34 1340.47h3.37v3.37h-3.37zM768.07 1340.47h10.11v3.37h-10.11zM781.55 1340.47h10.11v3.37h-10.11zM795.02 1340.47h3.37v3.37h-3.37zM801.76 1340.47h23.58v3.37h-23.58zM832.08 1340.47h3.37v3.37h-3.37zM838.82 1340.47h3.37v3.37h-3.37zM848.92 1340.47h3.37v3.37h-3.37zM862.40 1340.47h3.37v3.37h-3.37zM1135.27 1340.47h3.37v3.37h-3.37zM1148.74 1340.47h3.37v3.37h-3.37zM1158.85 1340.47h6.74v3.37h-6.74zM1175.69 1340.47h10.11v3.37h-10.11zM1192.54 1340.47h10.11v3.37h-10.11zM1232.96 1340.47h3.37v3.37h-3.37zM262.76 1343.84h3.37v3.37h-3.37zM613.11 1343.84h3.37v3.37h-3.37zM727.65 1343.84h6.74v3.37h-6.74zM737.76 1343.84h10.11v3.37h-10.11zM751.23 1343.84h13.47v3.37h-13.47zM768.07 1343.84h10.11v3.37h-10.11zM788.29 1343.84h3.37v3.37h-3.37zM805.13 1343.84h3.37v3.37h-3.37zM835.45 1343.84h6.74v3.37h-6.74zM1165.59 1343.84h13.47v3.37h-13.47zM1182.43 1343.84h3.37v3.37h-3.37zM1195.91 1343.84h3.37v3.37h-3.37zM1202.64 1343.84h3.37v3.37h-3.37zM1209.38 1343.84h3.37v3.37h-3.37zM1216.12 1343.84h3.37v3.37h-3.37zM1222.86 1343.84h3.37v3.37h-3.37zM1232.96 1343.84h3.37v3.37h-3.37zM1239.70 1343.84h3.37v3.37h-3.37zM1270.02 1343.84h6.74v3.37h-6.74zM262.76 1347.21h3.37v3.37h-3.37zM613.11 1347.21h3.37v3.37h-3.37zM727.65 1347.21h6.74v3.37h-6.74zM737.76 1347.21h3.37v3.37h-3.37zM744.49 1347.21h10.11v3.37h-10.11zM761.34 1347.21h6.74v3.37h-6.74zM774.81 1347.21h3.37v3.37h-3.37zM1206.01 1347.21h3.37v3.37h-3.37zM1212.75 1347.21h6.74v3.37h-6.74zM1222.86 1347.21h3.37v3.37h-3.37zM1229.59 1347.21h6.74v3.37h-6.74zM1239.70 1347.21h3.37v3.37h-3.37zM1256.54 1347.21h10.11v3.37h-10.11zM1270.02 1347.21h6.74v3.37h-6.74zM259.39 1350.57h3.37v3.37h-3.37zM616.48 1350.57h3.37v3.37h-3.37zM623.22 1350.57h6.74v3.37h-6.74zM650.17 1350.57h3.37v3.37h-3.37zM697.33 1350.57h6.74v3.37h-6.74zM714.17 1350.57h6.74v3.37h-6.74zM724.28 1350.57h6.74v3.37h-6.74zM734.39 1350.57h6.74v3.37h-6.74zM744.49 1350.57h6.74v3.37h-6.74zM1216.12 1350.57h6.74v3.37h-6.74zM1226.22 1350.57h6.74v3.37h-6.74zM1236.33 1350.57h6.74v3.37h-6.74zM1253.17 1350.57h3.37v3.37h-3.37zM1263.28 1350.57h6.74v3.37h-6.74zM1273.39 1350.57h3.37v3.37h-3.37zM1303.71 1350.57h3.37v3.37h-3.37zM259.39 1353.94h3.37v3.37h-3.37zM619.85 1353.94h6.74v3.37h-6.74zM629.96 1353.94h3.37v3.37h-3.37zM636.69 1353.94h3.37v3.37h-3.37zM643.43 1353.94h3.37v3.37h-3.37zM650.17 1353.94h6.74v3.37h-6.74zM673.75 1353.94h3.37v3.37h-3.37zM683.86 1353.94h3.37v3.37h-3.37zM690.59 1353.94h10.11v3.37h-10.11zM704.07 1353.94h23.58v3.37h-23.58zM1219.49 1353.94h3.37v3.37h-3.37zM1236.33 1353.94h3.37v3.37h-3.37zM1243.07 1353.94h13.47v3.37h-13.47zM1266.65 1353.94h3.37v3.37h-3.37zM1276.76 1353.94h3.37v3.37h-3.37zM1283.49 1353.94h3.37v3.37h-3.37zM1290.23 1353.94h3.37v3.37h-3.37zM1296.97 1353.94h3.37v3.37h-3.37zM1303.71 1353.94h6.74v3.37h-6.74zM1334.02 1353.94h3.37v3.37h-3.37zM259.39 1357.31h3.37v3.37h-3.37zM619.85 1357.31h3.37v3.37h-3.37zM629.96 1357.31h6.74v3.37h-6.74zM640.06 1357.31h13.47v3.37h-13.47zM656.91 1357.31h13.47v3.37h-13.47zM673.75 1357.31h6.74v3.37h-6.74zM683.86 1357.31h10.11v3.37h-10.11zM704.07 1357.31h13.47v3.37h-13.47zM720.91 1357.31h3.37v3.37h-3.37zM1266.65 1357.31h3.37v3.37h-3.37zM1276.76 1357.31h6.74v3.37h-6.74zM1286.86 1357.31h3.37v3.37h-3.37zM1293.60 1357.31h3.37v3.37h-3.37zM1300.34 1357.31h3.37v3.37h-3.37zM1307.08 1357.31h6.74v3.37h-6.74zM1317.18 1357.31h3.37v3.37h-3.37zM1330.66 1357.31h6.74v3.37h-6.74zM259.39 1360.68h3.37v3.37h-3.37zM646.80 1360.68h3.37v3.37h-3.37zM656.91 1360.68h6.74v3.37h-6.74zM667.01 1360.68h13.47v3.37h-13.47zM683.86 1360.68h6.74v3.37h-6.74zM704.07 1360.68h10.11v3.37h-10.11zM1286.86 1360.68h3.37v3.37h-3.37zM1300.34 1360.68h3.37v3.37h-3.37zM1313.81 1360.68h3.37v3.37h-3.37zM1320.55 1360.68h3.37v3.37h-3.37zM1327.29 1360.68h3.37v3.37h-3.37zM1337.39 1360.68h3.37v3.37h-3.37zM1344.13 1360.68h3.37v3.37h-3.37zM1350.87 1360.68h6.74v3.37h-6.74zM259.39 1364.05h3.37v3.37h-3.37zM656.91 1364.05h3.37v3.37h-3.37zM667.01 1364.05h6.74v3.37h-6.74zM680.49 1364.05h3.37v3.37h-3.37zM1323.92 1364.05h3.37v3.37h-3.37zM1337.39 1364.05h13.47v3.37h-13.47zM1357.61 1364.05h6.74v3.37h-6.74zM1367.71 1364.05h6.74v3.37h-6.74zM1381.19 1364.05h3.37v3.37h-3.37zM259.39 1367.41h3.37v3.37h-3.37zM1323.92 1367.41h3.37v3.37h-3.37zM1337.39 1367.41h3.37v3.37h-3.37zM1364.34 1367.41h6.74v3.37h-6.74zM1374.45 1367.41h3.37v3.37h-3.37zM1381.19 1367.41h6.74v3.37h-6.74zM256.02 1370.78h3.37v3.37h-3.37zM1364.34 1370.78h3.37v3.37h-3.37zM1374.45 1370.78h6.74v3.37h-6.74zM1384.56 1370.78h3.37v3.37h-3.37zM1401.40 1370.78h3.37v3.37h-3.37zM256.02 1374.15h3.37v3.37h-3.37zM1364.34 1374.15h3.37v3.37h-3.37zM1374.45 1374.15h3.37v3.37h-3.37zM1384.56 1374.15h10.11v3.37h-10.11zM1398.03 1374.15h10.11v3.37h-10.11zM1414.88 1374.15h3.37v3.37h-3.37zM256.02 1377.52h3.37v3.37h-3.37zM1394.66 1377.52h3.37v3.37h-3.37zM1404.77 1377.52h3.37v3.37h-3.37zM1414.88 1377.52h6.74v3.37h-6.74zM252.66 1380.89h3.37v3.37h-3.37zM1404.77 1380.89h10.11v3.37h-10.11zM1421.61 1380.89h10.11v3.37h-10.11zM1438.46 1380.89h3.37v3.37h-3.37zM1451.93 1380.89h3.37v3.37h-3.37zM1458.67 1380.89h3.37v3.37h-3.37zM249.29 1384.25h3.37v3.37h-3.37zM1421.61 1384.25h3.37v3.37h-3.37zM1428.35 1384.25h16.84v3.37h-16.84zM1448.56 1384.25h3.37v3.37h-3.37zM1455.30 1384.25h10.11v3.37h-10.11zM1468.77 1384.25h3.37v3.37h-3.37zM1478.88 1384.25h3.37v3.37h-3.37zM249.29 1387.62h3.37v3.37h-3.37zM1435.09 1387.62h3.37v3.37h-3.37zM1445.19 1387.62h6.74v3.37h-6.74zM1455.30 1387.62h16.84v3.37h-16.84zM1475.51 1387.62h6.74v3.37h-6.74zM249.29 1390.99h3.37v3.37h-3.37zM1445.19 1390.99h3.37v3.37h-3.37zM1462.04 1390.99h13.47v3.37h-13.47zM1482.25 1390.99h30.32v3.37h-30.32zM1515.94 1390.99h3.37v3.37h-3.37zM245.92 1394.36h3.37v3.37h-3.37zM1472.14 1394.36h3.37v3.37h-3.37zM1492.36 1394.36h30.32v3.37h-30.32zM245.92 1397.73h3.37v3.37h-3.37zM1495.72 1397.73h13.47v3.37h-13.47zM1512.57 1397.73h3.37v3.37h-3.37zM1519.31 1397.73h3.37v3.37h-3.37zM245.92 1401.09h3.37v3.37h-3.37zM1499.09 1401.09h3.37v3.37h-3.37zM1522.67 1401.09h13.47v3.37h-13.47zM242.55 1404.46h3.37v3.37h-3.37zM1522.67 1404.46h6.74v3.37h-6.74zM1536.15 1404.46h13.47v3.37h-13.47zM1556.36 1404.46h3.37v3.37h-3.37zM1569.84 1404.46h3.37v3.37h-3.37zM242.55 1407.83h3.37v3.37h-3.37zM1526.04 1407.83h3.37v3.37h-3.37zM1539.52 1407.83h3.37v3.37h-3.37zM1546.26 1407.83h3.37v3.37h-3.37zM1552.99 1407.83h6.74v3.37h-6.74zM1566.47 1407.83h3.37v3.37h-3.37zM1573.21 1407.83h3.37v3.37h-3.37zM1579.94 1407.83h6.74v3.37h-6.74zM1590.05 1407.83h3.37v3.37h-3.37zM1596.79 1407.83h3.37v3.37h-3.37zM1606.89 1407.83h3.37v3.37h-3.37zM242.55 1411.20h3.37v3.37h-3.37zM1549.62 1411.20h3.37v3.37h-3.37zM1559.73 1411.20h6.74v3.37h-6.74zM1573.21 1411.20h6.74v3.37h-6.74zM1583.31 1411.20h10.11v3.37h-10.11zM1596.79 1411.20h6.74v3.37h-6.74zM1606.89 1411.20h3.37v3.37h-3.37zM1623.74 1411.20h3.37v3.37h-3.37zM239.18 1414.57h3.37v3.37h-3.37zM1559.73 1414.57h6.74v3.37h-6.74zM1576.58 1414.57h3.37v3.37h-3.37zM1586.68 1414.57h3.37v3.37h-3.37zM1593.42 1414.57h3.37v3.37h-3.37zM1603.52 1414.57h3.37v3.37h-3.37zM1610.26 1414.57h6.74v3.37h-6.74zM1620.37 1414.57h6.74v3.37h-6.74zM1633.84 1414.57h3.37v3.37h-3.37zM1640.58 1414.57h3.37v3.37h-3.37zM239.18 1417.93h3.37v3.37h-3.37zM1593.42 1417.93h3.37v3.37h-3.37zM1610.26 1417.93h3.37v3.37h-3.37zM1617.00 1417.93h6.74v3.37h-6.74zM1627.11 1417.93h6.74v3.37h-6.74zM1637.21 1417.93h3.37v3.37h-3.37zM1643.95 1417.93h3.37v3.37h-3.37zM1650.69 1417.93h3.37v3.37h-3.37zM1657.42 1417.93h3.37v3.37h-3.37zM1670.90 1417.93h3.37v3.37h-3.37zM239.18 1421.30h3.37v3.37h-3.37zM1627.11 1421.30h6.74v3.37h-6.74zM1647.32 1421.30h3.37v3.37h-3.37zM1654.06 1421.30h3.37v3.37h-3.37zM1660.79 1421.30h3.37v3.37h-3.37zM1670.90 1421.30h3.37v3.37h-3.37zM1677.64 1421.30h3.37v3.37h-3.37zM1684.38 1421.30h3.37v3.37h-3.37zM1691.11 1421.30h3.37v3.37h-3.37zM239.18 1424.67h3.37v3.37h-3.37zM1660.79 1424.67h10.11v3.37h-10.11zM1674.27 1424.67h3.37v3.37h-3.37zM1681.01 1424.67h6.74v3.37h-6.74zM1691.11 1424.67h6.74v3.37h-6.74zM1704.59 1424.67h3.37v3.37h-3.37zM235.81 1428.04h3.37v3.37h-3.37zM1674.27 1428.04h3.37v3.37h-3.37zM1687.74 1428.04h3.37v3.37h-3.37zM1694.48 1428.04h10.11v3.37h-10.11zM1707.96 1428.04h3.37v3.37h-3.37zM1714.69 1428.04h3.37v3.37h-3.37zM1721.43 1428.04h6.74v3.37h-6.74zM1741.64 1428.04h3.37v3.37h-3.37zM232.44 1431.41h3.37v3.37h-3.37zM1687.74 1431.41h3.37v3.37h-3.37zM1707.96 1431.41h3.37v3.37h-3.37zM1714.69 1431.41h10.11v3.37h-10.11zM1728.17 1431.41h3.37v3.37h-3.37zM1741.64 1431.41h13.47v3.37h-13.47zM1761.86 1431.41h3.37v3.37h-3.37zM229.07 1434.77h6.74v3.37h-6.74zM1711.33 1434.77h3.37v3.37h-3.37zM1718.06 1434.77h3.37v3.37h-3.37zM1731.54 1434.77h10.11v3.37h-10.11zM1745.01 1434.77h3.37v3.37h-3.37zM1755.12 1434.77h13.47v3.37h-13.47zM1782.07 1434.77h3.37v3.37h-3.37zM229.07 1438.14h3.37v3.37h-3.37zM1731.54 1438.14h3.37v3.37h-3.37zM1765.22 1438.14h6.74v3.37h-6.74zM1778.70 1438.14h16.84v3.37h-16.84zM229.07 1441.51h3.37v3.37h-3.37zM1768.59 1441.51h13.47v3.37h-13.47zM1785.44 1441.51h6.74v3.37h-6.74zM1795.54 1441.51h6.74v3.37h-6.74zM1812.39 1441.51h6.74v3.37h-6.74zM225.71 1444.88h3.37v3.37h-3.37zM1785.44 1444.88h3.37v3.37h-3.37zM1795.54 1444.88h3.37v3.37h-3.37zM1802.28 1444.88h40.42v3.37h-40.42zM1846.08 1444.88h3.37v3.37h-3.37zM222.34 1448.25h3.37v3.37h-3.37zM1809.02 1448.25h3.37v3.37h-3.37zM1815.76 1448.25h3.37v3.37h-3.37zM1822.49 1448.25h3.37v3.37h-3.37zM1839.34 1448.25h13.47v3.37h-13.47zM1856.18 1448.25h6.74v3.37h-6.74zM1869.66 1448.25h3.37v3.37h-3.37zM218.97 1451.61h3.37v3.37h-3.37zM1839.34 1451.61h6.74v3.37h-6.74zM1852.81 1451.61h3.37v3.37h-3.37zM1862.92 1451.61h10.11v3.37h-10.11zM1879.76 1451.61h3.37v3.37h-3.37zM1889.87 1451.61h3.37v3.37h-3.37zM1896.61 1451.61h3.37v3.37h-3.37zM1906.71 1451.61h3.37v3.37h-3.37zM215.60 1454.98h3.37v3.37h-3.37zM1873.02 1454.98h26.95v3.37h-26.95zM1903.34 1454.98h6.74v3.37h-6.74zM1913.45 1454.98h6.74v3.37h-6.74zM1923.56 1454.98h10.11v3.37h-10.11zM208.86 1458.35h6.74v3.37h-6.74zM1883.13 1458.35h3.37v3.37h-3.37zM1893.24 1458.35h3.37v3.37h-3.37zM1899.97 1458.35h6.74v3.37h-6.74zM1910.08 1458.35h3.37v3.37h-3.37zM1920.19 1458.35h3.37v3.37h-3.37zM1930.29 1458.35h16.84v3.37h-16.84zM1963.98 1458.35h6.74v3.37h-6.74zM1974.09 1458.35h3.37v3.37h-3.37zM198.76 1461.72h10.11v3.37h-10.11zM1933.66 1461.72h3.37v3.37h-3.37zM1943.77 1461.72h20.21v3.37h-20.21zM1970.72 1461.72h6.74v3.37h-6.74zM1980.83 1461.72h13.47v3.37h-13.47zM2001.04 1461.72h10.11v3.37h-10.11zM192.02 1465.09h10.11v3.37h-10.11zM1960.61 1465.09h3.37v3.37h-3.37zM1977.46 1465.09h3.37v3.37h-3.37zM1994.30 1465.09h6.74v3.37h-6.74zM2007.77 1465.09h3.37v3.37h-3.37zM2014.51 1465.09h6.74v3.37h-6.74zM2024.62 1465.09h26.95v3.37h-26.95zM2058.31 1465.09h3.37v3.37h-3.37zM2071.78 1465.09h10.11v3.37h-10.11zM2085.26 1465.09h3.37v3.37h-3.37zM2091.99 1465.09h10.11v3.37h-10.11zM2105.47 1465.09h3.37v3.37h-3.37zM188.65 1468.45h3.37v3.37h-3.37zM2011.14 1468.45h3.37v3.37h-3.37zM2021.25 1468.45h3.37v3.37h-3.37zM2051.57 1468.45h6.74v3.37h-6.74zM2061.67 1468.45h13.47v3.37h-13.47zM2081.89 1468.45h3.37v3.37h-3.37zM2088.62 1468.45h3.37v3.37h-3.37zM2102.10 1468.45h16.84v3.37h-16.84zM2122.31 1468.45h3.37v3.37h-3.37zM165.07 1471.82h13.47v3.37h-13.47zM181.91 1471.82h6.74v3.37h-6.74zM2115.57 1471.82h10.11v3.37h-10.11zM161.70 1475.19h3.37v3.37h-3.37zM178.54 1475.19h3.37v3.37h-3.37zM141.49 1478.56h20.21v3.37h-20.21zM123.15 1467.30h42.90v3.30h-42.90zM123.15 1470.60h42.90v3.30h-42.90zM126.45 1473.90h36.30v3.30h-36.30zM126.45 1477.20h36.30v3.30h-36.30zM129.75 1480.50h29.70v3.30h-29.70zM131.40 1483.80h26.40v3.30h-26.40zM133.05 1487.10h23.10v3.30h-23.10zM136.35 1490.40h16.50v3.30h-16.50zM136.35 1493.70h16.50v3.30h-16.50zM139.65 1497.00h9.90v3.30h-9.90zM139.65 1500.30h9.90v3.30h-9.90zM142.95 1503.60h3.30v3.30h-3.30zM176.95 1454.00h42.90v3.30h-42.90zM176.95 1457.30h42.90v3.30h-42.90zM180.25 1460.60h36.30v3.30h-36.30zM180.25 1463.90h36.30v3.30h-36.30zM183.55 1467.20h29.70v3.30h-29.70zM185.20 1470.50h26.40v3.30h-26.40zM186.85 1473.80h23.10v3.30h-23.10zM190.15 1477.10h16.50v3.30h-16.50zM190.15 1480.40h16.50v3.30h-16.50zM193.45 1483.70h9.90v3.30h-9.90zM193.45 1487.00h9.90v3.30h-9.90zM196.75 1490.30h3.30v3.30h-3.30zM230.75 1375.00h42.90v3.30h-42.90zM230.75 1378.30h42.90v3.30h-42.90zM234.05 1381.60h36.30v3.30h-36.30zM234.05 1384.90h36.30v3.30h-36.30zM237.35 1388.20h29.70v3.30h-29.70zM239.00 1391.50h26.40v3.30h-26.40zM240.65 1394.80h23.10v3.30h-23.10zM243.95 1398.10h16.50v3.30h-16.50zM243.95 1401.40h16.50v3.30h-16.50zM247.25 1404.70h9.90v3.30h-9.90zM247.25 1408.00h9.90v3.30h-9.90zM250.55 1411.30h3.30v3.30h-3.30zM284.55 1026.70h42.90v3.30h-42.90zM284.55 1030.00h42.90v3.30h-42.90zM287.85 1033.30h36.30v3.30h-36.30zM287.85 1036.60h36.30v3.30h-36.30zM291.15 1039.90h29.70v3.30h-29.70zM292.80 1043.20h26.40v3.30h-26.40zM294.45 1046.50h23.10v3.30h-23.10zM297.75 1049.80h16.50v3.30h-16.50zM297.75 1053.10h16.50v3.30h-16.50zM301.05 1056.40h9.90v3.30h-9.90zM301.05 1059.70h9.90v3.30h-9.90zM304.35 1063.00h3.30v3.30h-3.30zM338.35 901.60h42.90v3.30h-42.90zM338.35 904.90h42.90v3.30h-42.90zM341.65 908.20h36.30v3.30h-36.30zM341.65 911.50h36.30v3.30h-36.30zM344.95 914.80h29.70v3.30h-29.70zM346.60 918.10h26.40v3.30h-26.40zM348.25 921.40h23.10v3.30h-23.10zM351.55 924.70h16.50v3.30h-16.50zM351.55 928.00h16.50v3.30h-16.50zM354.85 931.30h9.90v3.30h-9.90zM354.85 934.60h9.90v3.30h-9.90zM358.15 937.90h3.30v3.30h-3.30zM392.15 1056.50h42.90v3.30h-42.90zM392.15 1059.80h42.90v3.30h-42.90zM395.45 1063.10h36.30v3.30h-36.30zM395.45 1066.40h36.30v3.30h-36.30zM398.75 1069.70h29.70v3.30h-29.70zM400.40 1073.00h26.40v3.30h-26.40zM402.05 1076.30h23.10v3.30h-23.10zM405.35 1079.60h16.50v3.30h-16.50zM405.35 1082.90h16.50v3.30h-16.50zM408.65 1086.20h9.90v3.30h-9.90zM408.65 1089.50h9.90v3.30h-9.90zM411.95 1092.80h3.30v3.30h-3.30zM445.95 1179.30h42.90v3.30h-42.90zM445.95 1182.60h42.90v3.30h-42.90zM449.25 1185.90h36.30v3.30h-36.30zM449.25 1189.20h36.30v3.30h-36.30zM452.55 1192.50h29.70v3.30h-29.70zM454.20 1195.80h26.40v3.30h-26.40zM455.85 1199.10h23.10v3.30h-23.10zM459.15 1202.40h16.50v3.30h-16.50zM459.15 1205.70h16.50v3.30h-16.50zM462.45 1209.00h9.90v3.30h-9.90zM462.45 1212.30h9.90v3.30h-9.90zM465.75 1215.60h3.30v3.30h-3.30zM499.75 1253.30h42.90v3.30h-42.90zM499.75 1256.60h42.90v3.30h-42.90zM503.05 1259.90h36.30v3.30h-36.30zM503.05 1263.20h36.30v3.30h-36.30zM506.35 1266.50h29.70v3.30h-29.70zM508.00 1269.80h26.40v3.30h-26.40zM509.65 1273.10h23.10v3.30h-23.10zM512.95 1276.40h16.50v3.30h-16.50zM512.95 1279.70h16.50v3.30h-16.50zM516.25 1283.00h9.90v3.30h-9.90zM516.25 1286.30h9.90v3.30h-9.90zM519.55 1289.60h3.30v3.30h-3.30zM553.55 1310.30h42.90v3.30h-42.90zM553.55 1313.60h42.90v3.30h-42.90zM556.85 1316.90h36.30v3.30h-36.30zM556.85 1320.20h36.30v3.30h-36.30zM560.15 1323.50h29.70v3.30h-29.70zM561.80 1326.80h26.40v3.30h-26.40zM563.45 1330.10h23.10v3.30h-23.10zM566.75 1333.40h16.50v3.30h-16.50zM566.75 1336.70h16.50v3.30h-16.50zM570.05 1340.00h9.90v3.30h-9.90zM570.05 1343.30h9.90v3.30h-9.90zM573.35 1346.60h3.30v3.30h-3.30zM607.35 1346.20h42.90v3.30h-42.90zM607.35 1349.50h42.90v3.30h-42.90zM610.65 1352.80h36.30v3.30h-36.30zM610.65 1356.10h36.30v3.30h-36.30zM613.95 1359.40h29.70v3.30h-29.70zM615.60 1362.70h26.40v3.30h-26.40zM617.25 1366.00h23.10v3.30h-23.10zM620.55 1369.30h16.50v3.30h-16.50zM620.55 1372.60h16.50v3.30h-16.50zM623.85 1375.90h9.90v3.30h-9.90zM623.85 1379.20h9.90v3.30h-9.90zM627.15 1382.50h3.30v3.30h-3.30zM661.15 1352.70h42.90v3.30h-42.90zM661.15 1356.00h42.90v3.30h-42.90zM664.45 1359.30h36.30v3.30h-36.30zM664.45 1362.60h36.30v3.30h-36.30zM667.75 1365.90h29.70v3.30h-29.70zM669.40 1369.20h26.40v3.30h-26.40zM671.05 1372.50h23.10v3.30h-23.10zM674.35 1375.80h16.50v3.30h-16.50zM674.35 1379.10h16.50v3.30h-16.50zM677.65 1382.40h9.90v3.30h-9.90zM677.65 1385.70h9.90v3.30h-9.90zM680.95 1389.00h3.30v3.30h-3.30zM714.95 1339.10h42.90v3.30h-42.90zM714.95 1342.40h42.90v3.30h-42.90zM718.25 1345.70h36.30v3.30h-36.30zM718.25 1349.00h36.30v3.30h-36.30zM721.55 1352.30h29.70v3.30h-29.70zM723.20 1355.60h26.40v3.30h-26.40zM724.85 1358.90h23.10v3.30h-23.10zM728.15 1362.20h16.50v3.30h-16.50zM728.15 1365.50h16.50v3.30h-16.50zM731.45 1368.80h9.90v3.30h-9.90zM731.45 1372.10h9.90v3.30h-9.90zM734.75 1375.40h3.30v3.30h-3.30zM768.75 1332.60h42.90v3.30h-42.90zM768.75 1335.90h42.90v3.30h-42.90zM772.05 1339.20h36.30v3.30h-36.30zM772.05 1342.50h36.30v3.30h-36.30zM775.35 1345.80h29.70v3.30h-29.70zM777.00 1349.10h26.40v3.30h-26.40zM778.65 1352.40h23.10v3.30h-23.10zM781.95 1355.70h16.50v3.30h-16.50zM781.95 1359.00h16.50v3.30h-16.50zM785.25 1362.30h9.90v3.30h-9.90zM785.25 1365.60h9.90v3.30h-9.90zM788.55 1368.90h3.30v3.30h-3.30zM822.55 1329.70h42.90v3.30h-42.90zM822.55 1333.00h42.90v3.30h-42.90zM825.85 1336.30h36.30v3.30h-36.30zM825.85 1339.60h36.30v3.30h-36.30zM829.15 1342.90h29.70v3.30h-29.70zM830.80 1346.20h26.40v3.30h-26.40zM832.45 1349.50h23.10v3.30h-23.10zM835.75 1352.80h16.50v3.30h-16.50zM835.75 1356.10h16.50v3.30h-16.50zM839.05 1359.40h9.90v3.30h-9.90zM839.05 1362.70h9.90v3.30h-9.90zM842.35 1366.00h3.30v3.30h-3.30zM876.35 1319.40h42.90v3.30h-42.90zM876.35 1322.70h42.90v3.30h-42.90zM879.65 1326.00h36.30v3.30h-36.30zM879.65 1329.30h36.30v3.30h-36.30zM882.95 1332.60h29.70v3.30h-29.70zM884.60 1335.90h26.40v3.30h-26.40zM886.25 1339.20h23.10v3.30h-23.10zM889.55 1342.50h16.50v3.30h-16.50zM889.55 1345.80h16.50v3.30h-16.50zM892.85 1349.10h9.90v3.30h-9.90zM892.85 1352.40h9.90v3.30h-9.90zM896.15 1355.70h3.30v3.30h-3.30zM930.15 1315.70h42.90v3.30h-42.90zM930.15 1319.00h42.90v3.30h-42.90zM933.45 1322.30h36.30v3.30h-36.30zM933.45 1325.60h36.30v3.30h-36.30zM936.75 1328.90h29.70v3.30h-29.70zM938.40 1332.20h26.40v3.30h-26.40zM940.05 1335.50h23.10v3.30h-23.10zM943.35 1338.80h16.50v3.30h-16.50zM943.35 1342.10h16.50v3.30h-16.50zM946.65 1345.40h9.90v3.30h-9.90zM946.65 1348.70h9.90v3.30h-9.90zM949.95 1352.00h3.30v3.30h-3.30zM983.95 1319.40h42.90v3.30h-42.90zM983.95 1322.70h42.90v3.30h-42.90zM987.25 1326.00h36.30v3.30h-36.30zM987.25 1329.30h36.30v3.30h-36.30zM990.55 1332.60h29.70v3.30h-29.70zM992.20 1335.90h26.40v3.30h-26.40zM993.85 1339.20h23.10v3.30h-23.10zM997.15 1342.50h16.50v3.30h-16.50zM997.15 1345.80h16.50v3.30h-16.50zM1000.45 1349.10h9.90v3.30h-9.90zM1000.45 1352.40h9.90v3.30h-9.90zM1003.75 1355.70h3.30v3.30h-3.30zM1037.75 1318.80h42.90v3.30h-42.90zM1037.75 1322.10h42.90v3.30h-42.90zM1041.05 1325.40h36.30v3.30h-36.30zM1041.05 1328.70h36.30v3.30h-36.30zM1044.35 1332.00h29.70v3.30h-29.70zM1046.00 1335.30h26.40v3.30h-26.40zM1047.65 1338.60h23.10v3.30h-23.10zM1050.95 1341.90h16.50v3.30h-16.50zM1050.95 1345.20h16.50v3.30h-16.50zM1054.25 1348.50h9.90v3.30h-9.90zM1054.25 1351.80h9.90v3.30h-9.90zM1057.55 1355.10h3.30v3.30h-3.30zM1091.55 1322.20h42.90v3.30h-42.90zM1091.55 1325.50h42.90v3.30h-42.90zM1094.85 1328.80h36.30v3.30h-36.30zM1094.85 1332.10h36.30v3.30h-36.30zM1098.15 1335.40h29.70v3.30h-29.70zM1099.80 1338.70h26.40v3.30h-26.40zM1101.45 1342.00h23.10v3.30h-23.10zM1104.75 1345.30h16.50v3.30h-16.50zM1104.75 1348.60h16.50v3.30h-16.50zM1108.05 1351.90h9.90v3.30h-9.90zM1108.05 1355.20h9.90v3.30h-9.90zM1111.35 1358.50h3.30v3.30h-3.30zM1145.35 1328.70h42.90v3.30h-42.90zM1145.35 1332.00h42.90v3.30h-42.90zM1148.65 1335.30h36.30v3.30h-36.30zM1148.65 1338.60h36.30v3.30h-36.30zM1151.95 1341.90h29.70v3.30h-29.70zM1153.60 1345.20h26.40v3.30h-26.40zM1155.25 1348.50h23.10v3.30h-23.10zM1158.55 1351.80h16.50v3.30h-16.50zM1158.55 1355.10h16.50v3.30h-16.50zM1161.85 1358.40h9.90v3.30h-9.90zM1161.85 1361.70h9.90v3.30h-9.90zM1165.15 1365.00h3.30v3.30h-3.30zM1199.15 1339.00h42.90v3.30h-42.90zM1199.15 1342.30h42.90v3.30h-42.90zM1202.45 1345.60h36.30v3.30h-36.30zM1202.45 1348.90h36.30v3.30h-36.30zM1205.75 1352.20h29.70v3.30h-29.70zM1207.40 1355.50h26.40v3.30h-26.40zM1209.05 1358.80h23.10v3.30h-23.10zM1212.35 1362.10h16.50v3.30h-16.50zM1212.35 1365.40h16.50v3.30h-16.50zM1215.65 1368.70h9.90v3.30h-9.90zM1215.65 1372.00h9.90v3.30h-9.90zM1218.95 1375.30h3.30v3.30h-3.30zM1252.95 1341.80h42.90v3.30h-42.90zM1252.95 1345.10h42.90v3.30h-42.90zM1256.25 1348.40h36.30v3.30h-36.30zM1256.25 1351.70h36.30v3.30h-36.30zM1259.55 1355.00h29.70v3.30h-29.70zM1261.20 1358.30h26.40v3.30h-26.40zM1262.85 1361.60h23.10v3.30h-23.10zM1266.15 1364.90h16.50v3.30h-16.50zM1266.15 1368.20h16.50v3.30h-16.50zM1269.45 1371.50h9.90v3.30h-9.90zM1269.45 1374.80h9.90v3.30h-9.90zM1272.75 1378.10h3.30v3.30h-3.30zM1306.75 1352.00h42.90v3.30h-42.90zM1306.75 1355.30h42.90v3.30h-42.90zM1310.05 1358.60h36.30v3.30h-36.30zM1310.05 1361.90h36.30v3.30h-36.30zM1313.35 1365.20h29.70v3.30h-29.70zM1315.00 1368.50h26.40v3.30h-26.40zM1316.65 1371.80h23.10v3.30h-23.10zM1319.95 1375.10h16.50v3.30h-16.50zM1319.95 1378.40h16.50v3.30h-16.50zM1323.25 1381.70h9.90v3.30h-9.90zM1323.25 1385.00h9.90v3.30h-9.90zM1326.55 1388.30h3.30v3.30h-3.30zM1360.55 1362.40h42.90v3.30h-42.90zM1360.55 1365.70h42.90v3.30h-42.90zM1363.85 1369.00h36.30v3.30h-36.30zM1363.85 1372.30h36.30v3.30h-36.30zM1367.15 1375.60h29.70v3.30h-29.70zM1368.80 1378.90h26.40v3.30h-26.40zM1370.45 1382.20h23.10v3.30h-23.10zM1373.75 1385.50h16.50v3.30h-16.50zM1373.75 1388.80h16.50v3.30h-16.50zM1377.05 1392.10h9.90v3.30h-9.90zM1377.05 1395.40h9.90v3.30h-9.90zM1380.35 1398.70h3.30v3.30h-3.30zM1414.35 1375.00h42.90v3.30h-42.90zM1414.35 1378.30h42.90v3.30h-42.90zM1417.65 1381.60h36.30v3.30h-36.30zM1417.65 1384.90h36.30v3.30h-36.30zM1420.95 1388.20h29.70v3.30h-29.70zM1422.60 1391.50h26.40v3.30h-26.40zM1424.25 1394.80h23.10v3.30h-23.10zM1427.55 1398.10h16.50v3.30h-16.50zM1427.55 1401.40h16.50v3.30h-16.50zM1430.85 1404.70h9.90v3.30h-9.90zM1430.85 1408.00h9.90v3.30h-9.90zM1434.15 1411.30h3.30v3.30h-3.30zM1468.15 1382.00h42.90v3.30h-42.90zM1468.15 1385.30h42.90v3.30h-42.90zM1471.45 1388.60h36.30v3.30h-36.30zM1471.45 1391.90h36.30v3.30h-36.30zM1474.75 1395.20h29.70v3.30h-29.70zM1476.40 1398.50h26.40v3.30h-26.40zM1478.05 1401.80h23.10v3.30h-23.10zM1481.35 1405.10h16.50v3.30h-16.50zM1481.35 1408.40h16.50v3.30h-16.50zM1484.65 1411.70h9.90v3.30h-9.90zM1484.65 1415.00h9.90v3.30h-9.90zM1487.95 1418.30h3.30v3.30h-3.30zM1521.95 1397.90h42.90v3.30h-42.90zM1521.95 1401.20h42.90v3.30h-42.90zM1525.25 1404.50h36.30v3.30h-36.30zM1525.25 1407.80h36.30v3.30h-36.30zM1528.55 1411.10h29.70v3.30h-29.70zM1530.20 1414.40h26.40v3.30h-26.40zM1531.85 1417.70h23.10v3.30h-23.10zM1535.15 1421.00h16.50v3.30h-16.50zM1535.15 1424.30h16.50v3.30h-16.50zM1538.45 1427.60h9.90v3.30h-9.90zM1538.45 1430.90h9.90v3.30h-9.90zM1541.75 1434.20h3.30v3.30h-3.30zM1575.75 1404.40h42.90v3.30h-42.90zM1575.75 1407.70h42.90v3.30h-42.90zM1579.05 1411.00h36.30v3.30h-36.30zM1579.05 1414.30h36.30v3.30h-36.30zM1582.35 1417.60h29.70v3.30h-29.70zM1584.00 1420.90h26.40v3.30h-26.40zM1585.65 1424.20h23.10v3.30h-23.10zM1588.95 1427.50h16.50v3.30h-16.50zM1588.95 1430.80h16.50v3.30h-16.50zM1592.25 1434.10h9.90v3.30h-9.90zM1592.25 1437.40h9.90v3.30h-9.90zM1595.55 1440.70h3.30v3.30h-3.30zM1629.55 1411.00h42.90v3.30h-42.90zM1629.55 1414.30h42.90v3.30h-42.90zM1632.85 1417.60h36.30v3.30h-36.30zM1632.85 1420.90h36.30v3.30h-36.30zM1636.15 1424.20h29.70v3.30h-29.70zM1637.80 1427.50h26.40v3.30h-26.40zM1639.45 1430.80h23.10v3.30h-23.10zM1642.75 1434.10h16.50v3.30h-16.50zM1642.75 1437.40h16.50v3.30h-16.50zM1646.05 1440.70h9.90v3.30h-9.90zM1646.05 1444.00h9.90v3.30h-9.90zM1649.35 1447.30h3.30v3.30h-3.30zM1683.35 1420.30h42.90v3.30h-42.90zM1683.35 1423.60h42.90v3.30h-42.90zM1686.65 1426.90h36.30v3.30h-36.30zM1686.65 1430.20h36.30v3.30h-36.30zM1689.95 1433.50h29.70v3.30h-29.70zM1691.60 1436.80h26.40v3.30h-26.40zM1693.25 1440.10h23.10v3.30h-23.10zM1696.55 1443.40h16.50v3.30h-16.50zM1696.55 1446.70h16.50v3.30h-16.50zM1699.85 1450.00h9.90v3.30h-9.90zM1699.85 1453.30h9.90v3.30h-9.90zM1703.15 1456.60h3.30v3.30h-3.30zM1737.15 1427.80h42.90v3.30h-42.90zM1737.15 1431.10h42.90v3.30h-42.90zM1740.45 1434.40h36.30v3.30h-36.30zM1740.45 1437.70h36.30v3.30h-36.30zM1743.75 1441.00h29.70v3.30h-29.70zM1745.40 1444.30h26.40v3.30h-26.40zM1747.05 1447.60h23.10v3.30h-23.10zM1750.35 1450.90h16.50v3.30h-16.50zM1750.35 1454.20h16.50v3.30h-16.50zM1753.65 1457.50h9.90v3.30h-9.90zM1753.65 1460.80h9.90v3.30h-9.90zM1756.95 1464.10h3.30v3.30h-3.30zM1790.95 1434.30h42.90v3.30h-42.90zM1790.95 1437.60h42.90v3.30h-42.90zM1794.25 1440.90h36.30v3.30h-36.30zM1794.25 1444.20h36.30v3.30h-36.30zM1797.55 1447.50h29.70v3.30h-29.70zM1799.20 1450.80h26.40v3.30h-26.40zM1800.85 1454.10h23.10v3.30h-23.10zM1804.15 1457.40h16.50v3.30h-16.50zM1804.15 1460.70h16.50v3.30h-16.50zM1807.45 1464.00h9.90v3.30h-9.90zM1807.45 1467.30h9.90v3.30h-9.90zM1810.75 1470.60h3.30v3.30h-3.30zM1844.75 1444.60h42.90v3.30h-42.90zM1844.75 1447.90h42.90v3.30h-42.90zM1848.05 1451.20h36.30v3.30h-36.30zM1848.05 1454.50h36.30v3.30h-36.30zM1851.35 1457.80h29.70v3.30h-29.70zM1853.00 1461.10h26.40v3.30h-26.40zM1854.65 1464.40h23.10v3.30h-23.10zM1857.95 1467.70h16.50v3.30h-16.50zM1857.95 1471.00h16.50v3.30h-16.50zM1861.25 1474.30h9.90v3.30h-9.90zM1861.25 1477.60h9.90v3.30h-9.90zM1864.55 1480.90h3.30v3.30h-3.30zM1898.55 1447.40h42.90v3.30h-42.90zM1898.55 1450.70h42.90v3.30h-42.90zM1901.85 1454.00h36.30v3.30h-36.30zM1901.85 1457.30h36.30v3.30h-36.30zM1905.15 1460.60h29.70v3.30h-29.70zM1906.80 1463.90h26.40v3.30h-26.40zM1908.45 1467.20h23.10v3.30h-23.10zM1911.75 1470.50h16.50v3.30h-16.50zM1911.75 1473.80h16.50v3.30h-16.50zM1915.05 1477.10h9.90v3.30h-9.90zM1915.05 1480.40h9.90v3.30h-9.90zM1918.35 1483.70h3.30v3.30h-3.30zM1952.35 1453.90h42.90v3.30h-42.90zM1952.35 1457.20h42.90v3.30h-42.90zM1955.65 1460.50h36.30v3.30h-36.30zM1955.65 1463.80h36.30v3.30h-36.30zM1958.95 1467.10h29.70v3.30h-29.70zM1960.60 1470.40h26.40v3.30h-26.40zM1962.25 1473.70h23.10v3.30h-23.10zM1965.55 1477.00h16.50v3.30h-16.50zM1965.55 1480.30h16.50v3.30h-16.50zM1968.85 1483.60h9.90v3.30h-9.90zM1968.85 1486.90h9.90v3.30h-9.90zM1972.15 1490.20h3.30v3.30h-3.30zM2006.15 1457.30h42.90v3.30h-42.90zM2006.15 1460.60h42.90v3.30h-42.90zM2009.45 1463.90h36.30v3.30h-36.30zM2009.45 1467.20h36.30v3.30h-36.30zM2012.75 1470.50h29.70v3.30h-29.70zM2014.40 1473.80h26.40v3.30h-26.40zM2016.05 1477.10h23.10v3.30h-23.10zM2019.35 1480.40h16.50v3.30h-16.50zM2019.35 1483.70h16.50v3.30h-16.50zM2022.65 1487.00h9.90v3.30h-9.90zM2022.65 1490.30h9.90v3.30h-9.90zM2025.95 1493.60h3.30v3.30h-3.30zM2059.95 1457.30h42.90v3.30h-42.90zM2059.95 1460.60h42.90v3.30h-42.90zM2063.25 1463.90h36.30v3.30h-36.30zM2063.25 1467.20h36.30v3.30h-36.30zM2066.55 1470.50h29.70v3.30h-29.70zM2068.20 1473.80h26.40v3.30h-26.40zM2069.85 1477.10h23.10v3.30h-23.10zM2073.15 1480.40h16.50v3.30h-16.50zM2073.15 1483.70h16.50v3.30h-16.50zM2076.45 1487.00h9.90v3.30h-9.90zM2076.45 1490.30h9.90v3.30h-9.90zM2079.75 1493.60h3.30v3.30h-3.30z"/>
</g>
<rect x="143.5" y="24.0" width="1986.3" height="1475.8" fill="none" stroke="#000" stroke-width="6.6"/>
<g stroke="#000"><line x1="143.0" y1="1499.8" x2="143.0" y2="1528.5" stroke-width="6.4"/><line x1="313.6" y1="1499.8" x2="313.6" y2="1515" stroke-width="5.6"/><line x1="480.4" y1="1499.8" x2="480.4" y2="1528.5" stroke-width="6.4"/><line x1="648.2" y1="1499.8" x2="648.2" y2="1515" stroke-width="5.6"/><line x1="818.3" y1="1499.8" x2="818.3" y2="1528.5" stroke-width="6.4"/><line x1="985.2" y1="1499.8" x2="985.2" y2="1515" stroke-width="5.6"/><line x1="1152.8" y1="1499.8" x2="1152.8" y2="1528.5" stroke-width="6.4"/><line x1="1320.0" y1="1499.8" x2="1320.0" y2="1515" stroke-width="5.6"/><line x1="1490.4" y1="1499.8" x2="1490.4" y2="1528.5" stroke-width="6.4"/><line x1="1658.6" y1="1499.8" x2="1658.6" y2="1515" stroke-width="5.6"/><line x1="1828.2" y1="1499.8" x2="1828.2" y2="1528.5" stroke-width="6.4"/><line x1="1995.6" y1="1499.8" x2="1995.6" y2="1515" stroke-width="5.6"/></g>
<g fill="#000000"><line x1="1693.7" y1="90.6" x2="1913.8" y2="90.6" stroke="#000000" stroke-width="3.6"/>
<path shape-rendering="crispEdges" d="M1788.80 76.20h33.00v33.00h-33.00z"/>
</g>
<g fill="#ff0000"><line x1="1693.7" y1="212.8" x2="1913.8" y2="212.8" stroke="#ff0000" stroke-width="3.6"/>
<path shape-rendering="crispEdges" d="M1799.15 194.65h9.90v3.30h-9.90zM1790.90 197.95h26.40v3.30h-26.40zM1787.60 201.25h33.00v3.30h-33.00zM1787.60 204.55h33.00v3.30h-33.00zM1787.60 207.85h33.00v3.30h-33.00zM1784.30 211.15h39.60v3.30h-39.60zM1787.60 214.45h33.00v3.30h-33.00zM1787.60 217.75h33.00v3.30h-33.00zM1787.60 221.05h33.00v3.30h-33.00zM1790.90 224.35h26.40v3.30h-26.40zM1799.15 227.65h9.90v3.30h-9.90z"/>
</g>
<g fill="#0000ff"><line x1="1693.7" y1="334.4" x2="1913.8" y2="334.4" stroke="#0000ff" stroke-width="3.6"/>
<path shape-rendering="crispEdges" d="M1802.25 305.90h3.30v3.30h-3.30zM1798.95 309.20h9.90v3.30h-9.90zM1798.95 312.50h9.90v3.30h-9.90zM1795.65 315.80h16.50v3.30h-16.50zM1795.65 319.10h16.50v3.30h-16.50zM1792.35 322.40h23.10v3.30h-23.10zM1790.70 325.70h26.40v3.30h-26.40zM1789.05 329.00h29.70v3.30h-29.70zM1785.75 332.30h36.30v3.30h-36.30zM1785.75 335.60h36.30v3.30h-36.30zM1782.45 338.90h42.90v3.30h-42.90zM1782.45 342.20h42.90v3.30h-42.90z"/>
</g>
<g fill="#ff00ff"><line x1="1693.7" y1="452.8" x2="1913.8" y2="452.8" stroke="#ff00ff" stroke-width="3.6"/>
<path shape-rendering="crispEdges" d="M1782.45 441.70h42.90v3.30h-42.90zM1782.45 445.00h42.90v3.30h-42.90zM1785.75 448.30h36.30v3.30h-36.30zM1785.75 451.60h36.30v3.30h-36.30zM1789.05 454.90h29.70v3.30h-29.70zM1790.70 458.20h26.40v3.30h-26.40zM1792.35 461.50h23.10v3.30h-23.10zM1795.65 464.80h16.50v3.30h-16.50zM1795.65 468.10h16.50v3.30h-16.50zM1798.95 471.40h9.90v3.30h-9.90zM1798.95 474.70h9.90v3.30h-9.90zM1802.25 478.00h3.30v3.30h-3.30z"/>
</g>
<g font-family="'Liberation Serif', 'Times New Roman', serif" font-size="64" fill="#1c1c1c" stroke="#1c1c1c" stroke-width="0.7">
<text x="1936.0" y="122.2" textLength="177.5" lengthAdjust="spacingAndGlyphs">60 min</text>
<text x="1929.6" y="244.0" textLength="177.0" lengthAdjust="spacingAndGlyphs">30 min</text>
<text x="1929.0" y="362.0" textLength="177.5" lengthAdjust="spacingAndGlyphs">20 min</text>
<text x="1929.5" y="482.4" textLength="177.0" lengthAdjust="spacingAndGlyphs">10 min</text>
</g>
<g font-family="'Liberation Serif', 'Times New Roman', serif" font-weight="bold" font-size="60" letter-spacing="-2.6" fill="#000" text-anchor="middle">
<text x="141.1" y="1598.8" textLength="96.5" lengthAdjust="spacingAndGlyphs">350</text>
<text x="478.6" y="1598.8" textLength="96.5" lengthAdjust="spacingAndGlyphs">400</text>
<text x="814.7" y="1598.8" textLength="96.5" lengthAdjust="spacingAndGlyphs">450</text>
<text x="1151.6" y="1598.8" textLength="96.5" lengthAdjust="spacingAndGlyphs">500</text>
<text x="1487.7" y="1598.8" textLength="96.5" lengthAdjust="spacingAndGlyphs">550</text>
<text x="1824.0" y="1598.8" textLength="96.5" lengthAdjust="spacingAndGlyphs">600</text>
</g>
<text x="772.9 870.4 918.5 970.3 1013.4 1042.5 1084.0 1138.4 1186.8 1218.6 1272.9 1299.8 1329.3 1381.1 1464.3" y="1699.8" font-family="'Liberation Serif', 'Times New Roman', serif" font-weight="bold" font-size="94" fill="#000">Wavelength (nm)</text>
<text transform="translate(90.8 1106) rotate(-90)" x="-0.2 38.7 95.1 128.6 173.5 227.5 265.4 292.6 328.6 376.0 403.5 433.5 485.6 510.3 565.2 591.5" y="0" font-family="'Liberation Serif', 'Times New Roman', serif" font-weight="bold" font-size="99.5" fill="#000">Intensity (a.u.)</text>
</g>
</svg>
</body>
</html>
